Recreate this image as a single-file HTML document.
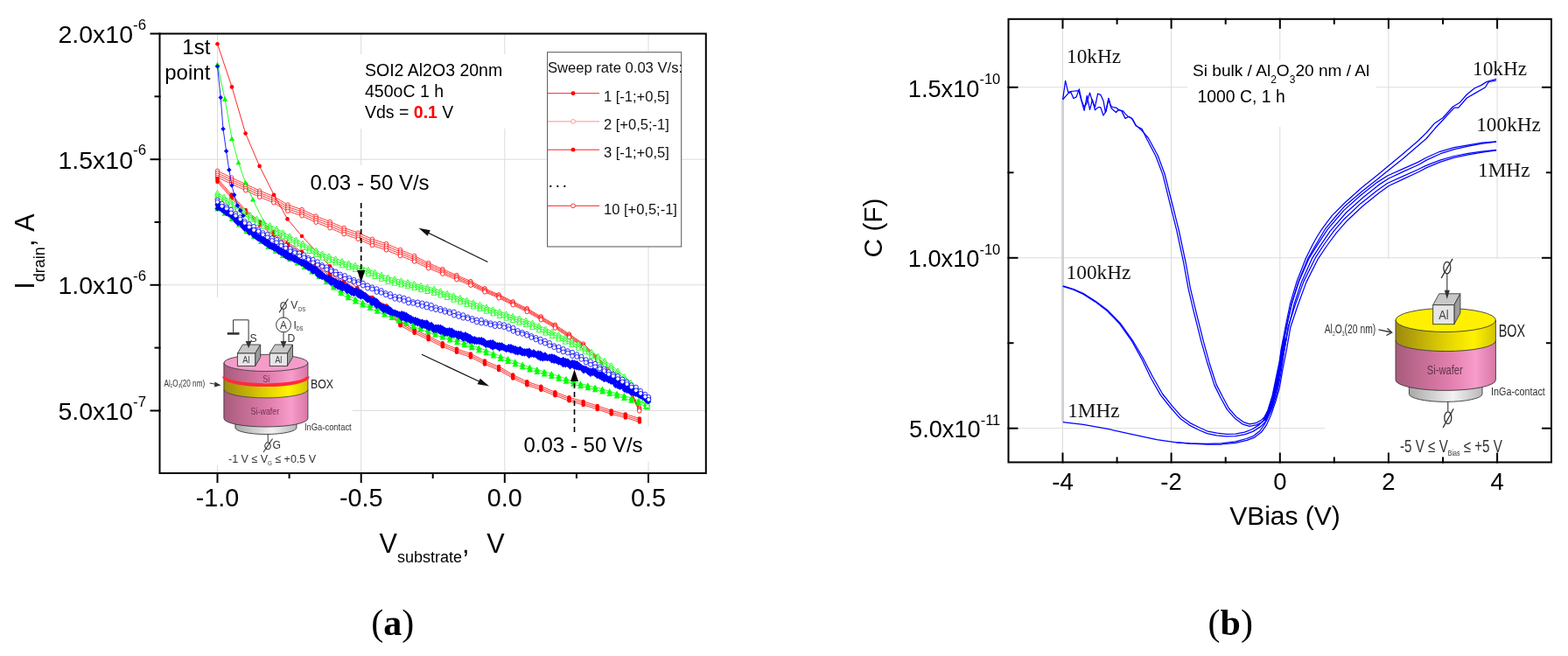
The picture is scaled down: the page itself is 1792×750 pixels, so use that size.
<!DOCTYPE html><html><head><meta charset="utf-8"><title>Figure</title>
<style>html,body{margin:0;padding:0;background:#fff;}svg{display:block;}.sf{font-family:'Liberation Serif', 'Times New Roman', serif;}</style></head><body>
<svg width="1792" height="750" viewBox="0 0 1792 750" font-family="&#39;Liberation Sans&#39;, Arial, sans-serif">
<rect x="0" y="0" width="1792" height="750" fill="#fff"/>
<line x1="248.5" y1="38.5" x2="248.5" y2="541.0" stroke="#dcdcdc" stroke-width="1"/>
<line x1="412.7" y1="38.5" x2="412.7" y2="541.0" stroke="#dcdcdc" stroke-width="1"/>
<line x1="576.8" y1="38.5" x2="576.8" y2="541.0" stroke="#dcdcdc" stroke-width="1"/>
<line x1="741" y1="38.5" x2="741" y2="541.0" stroke="#dcdcdc" stroke-width="1"/>
<line x1="182.5" y1="182.2" x2="806.8" y2="182.2" stroke="#dcdcdc" stroke-width="1"/>
<line x1="182.5" y1="325.8" x2="806.8" y2="325.8" stroke="#dcdcdc" stroke-width="1"/>
<line x1="182.5" y1="469.5" x2="806.8" y2="469.5" stroke="#dcdcdc" stroke-width="1"/>
<rect x="398" y="62" width="192" height="85" fill="#fff"/>
<rect x="350" y="189" width="146" height="43" fill="#fff"/>
<rect x="594" y="488" width="152" height="40" fill="#fff"/>
<rect x="184" y="340" width="219" height="192" fill="#fff"/>
<rect x="186" y="40" width="58" height="55" fill="#fff"/>
<g id="curves-a">
<polyline points="248.5,195.4 252.5,197.3 256.5,199.2 260.5,201.2 264.5,203.1 268.5,204.9 272.5,206.8 276.5,208.6 280.5,210.4 284.5,212.3 288.5,214.2 292.5,216.1 296.5,218 300.5,219.6 304.5,221.2 308.5,222.8 312.5,224.4 316.5,226.8 320.5,229.2 324.5,231.6 328.5,234 332.5,235.3 336.5,236.7 340.5,238.1 344.5,239.4 348.5,241.2 352.5,243.1 356.5,245 360.5,246.8 364.5,248.4 368.5,250 372.5,251.6 376.5,253.2 380.5,255 384.5,256.7 388.5,258.5 392.5,260.2 396.5,261.7 400.5,263.1 404.5,264.5 408.5,265.9 412.5,267.5 416.5,269.4 420.5,271.2 424.5,273 428.5,274.4 432.5,275.7 436.5,277 440.5,278.3 444.5,280 448.5,281.7 452.5,283.4 456.5,285.1 460.5,286.8 464.5,288.5 468.5,290.2 472.5,291.9 476.5,294 480.5,296 484.5,298.1 488.5,300.2 492.5,301.9 496.5,303.7 500.5,305.4 504.5,307.1 508.5,308.9 512.5,310.6 516.5,312.3 520.5,314.1 524.5,315.8 528.5,317.5 532.5,319.2 536.5,320.9 540.5,322.9 544.5,325 548.5,327.1 552.5,329.1 556.5,330.9 560.5,332.7 564.5,334.4 568.5,336.1 572.5,337.9 576.5,339.9 580.5,341.9 584.5,344 588.5,345.9 592.5,347.9 596.5,349.8 600.5,351.7 604.5,353.8 608.5,356.2 612.5,358.5 616.5,360.8 620.5,363.1 624.5,365.5 628.5,367.8 632.5,370.1 636.5,372.6 640.5,375.3 644.5,378 648.5,380.7 652.5,383.3 656.5,386 660.5,388.7 664.5,391.4 668.5,394.6 672.5,398.5 676.5,402.3 680.5,406.2 684.5,410.1 688.5,413.9 692.5,417.8 696.5,421.7 700.5,425.6 704.5,429.4 708.5,433.8 712.5,438.3 716.5,442.8 720.5,447.3 724.5,454.3 728.5,462 730.7,466.2" fill="none" stroke="#ff0000" stroke-width="0.8" stroke-linejoin="round"/>
<polyline points="248.5,197.8 252.5,199.7 256.5,201.7 260.5,203.6 264.5,205.5 268.5,207.3 272.5,209.2 276.5,211 280.5,212.8 284.5,214.7 288.5,216.6 292.5,218.5 296.5,220.4 300.5,222 304.5,223.6 308.5,225.2 312.5,226.8 316.5,229.2 320.5,231.6 324.5,234 328.5,236.4 332.5,237.8 336.5,239.1 340.5,240.5 344.5,241.8 348.5,243.7 352.5,245.5 356.5,247.4 360.5,249.2 364.5,250.8 368.5,252.4 372.5,254 376.5,255.6 380.5,257.4 384.5,259.1 388.5,260.9 392.5,262.6 396.5,264.1 400.5,265.5 404.5,266.9 408.5,268.3 412.5,269.9 416.5,271.8 420.5,273.6 424.5,275.4 428.5,276.8 432.5,278.1 436.5,279.4 440.5,280.7 444.5,282.4 448.5,284.1 452.5,285.8 456.5,287.4 460.5,289.1 464.5,290.8 468.5,292.5 472.5,294.1 476.5,296.1 480.5,298.1 484.5,300.2 488.5,302.2 492.5,303.9 496.5,305.6 500.5,307.3 504.5,309 508.5,310.7 512.5,312.4 516.5,314.1 520.5,315.8 524.5,317.4 528.5,319.1 532.5,320.8 536.5,322.4 540.5,324.4 544.5,326.5 548.5,328.5 552.5,330.5 556.5,332.3 560.5,334 564.5,335.7 568.5,337.4 572.5,339.2 576.5,341.2 580.5,343.2 584.5,345.3 588.5,347.2 592.5,349.2 596.5,351.1 600.5,353 604.5,355.1 608.5,357.4 612.5,359.8 616.5,362.1 620.5,364.4 624.5,366.7 628.5,369.1 632.5,371.4 636.5,373.9 640.5,376.6 644.5,379.2 648.5,381.9 652.5,384.6 656.5,387.3 660.5,389.9 664.5,392.6 668.5,395.8 672.5,399.7 676.5,403.5 680.5,407.4 684.5,411.3 688.5,415.1 692.5,419 696.5,422.9 700.5,426.8 704.5,430.6 708.5,435 712.5,439.5 716.5,444 720.5,448.5 724.5,455.5 728.5,463.2 730.7,467.4" fill="none" stroke="#ff0000" stroke-width="0.8" stroke-linejoin="round"/>
<polyline points="248.5,200.2 252.5,202.1 256.5,204 260.5,206 264.5,207.9 268.5,209.7 272.5,211.5 276.5,213.4 280.5,215.2 284.5,217.1 288.5,219 292.5,220.9 296.5,222.8 300.5,224.4 304.5,226 308.5,227.6 312.5,229.2 316.5,231.6 320.5,234 324.5,236.4 328.5,238.8 332.5,240.1 336.5,241.5 340.5,242.8 344.5,244.2 348.5,246 352.5,247.9 356.5,249.8 360.5,251.6 364.5,253.2 368.5,254.8 372.5,256.4 376.5,258 380.5,259.8 384.5,261.5 388.5,263.3 392.5,265 396.5,266.5 400.5,267.9 404.5,269.3 408.5,270.7 412.5,272.3 416.5,274.2 420.5,276 424.5,277.8 428.5,279.2 432.5,280.5 436.5,281.8 440.5,283.1 444.5,284.8 448.5,286.5 452.5,288.1 456.5,289.8 460.5,291.4 464.5,293 468.5,294.7 472.5,296.3 476.5,298.3 480.5,300.3 484.5,302.2 488.5,304.2 492.5,305.9 496.5,307.5 500.5,309.2 504.5,310.8 508.5,312.5 512.5,314.2 516.5,315.8 520.5,317.5 524.5,319.1 528.5,320.7 532.5,322.4 536.5,324 540.5,326 544.5,327.9 548.5,329.9 552.5,331.9 556.5,333.6 560.5,335.3 564.5,337 568.5,338.8 572.5,340.6 576.5,342.6 580.5,344.6 584.5,346.5 588.5,348.5 592.5,350.4 596.5,352.4 600.5,354.3 604.5,356.4 608.5,358.7 612.5,361 616.5,363.4 620.5,365.7 624.5,368 628.5,370.3 632.5,372.7 636.5,375.1 640.5,377.8 644.5,380.5 648.5,383.2 652.5,385.8 656.5,388.5 660.5,391.2 664.5,393.8 668.5,397.1 672.5,400.9 676.5,404.8 680.5,408.6 684.5,412.5 688.5,416.3 692.5,420.2 696.5,424.1 700.5,428 704.5,431.8 708.5,436.2 712.5,440.7 716.5,445.2 720.5,449.7 724.5,456.7 728.5,464.4 730.7,468.6" fill="none" stroke="#ff0000" stroke-width="0.8" stroke-linejoin="round"/>
<polyline points="248.5,202.6 252.5,204.5 256.5,206.4 260.5,208.4 264.5,210.3 268.5,212.1 272.5,213.9 276.5,215.8 280.5,217.6 284.5,219.5 288.5,221.4 292.5,223.3 296.5,225.2 300.5,226.8 304.5,228.4 308.5,230 312.5,231.6 316.5,234 320.5,236.4 324.5,238.8 328.5,241.2 332.5,242.5 336.5,243.9 340.5,245.2 344.5,246.6 348.5,248.4 352.5,250.3 356.5,252.2 360.5,254 364.5,255.6 368.5,257.2 372.5,258.8 376.5,260.4 380.5,262.2 384.5,263.9 388.5,265.7 392.5,267.4 396.5,268.9 400.5,270.3 404.5,271.7 408.5,273.1 412.5,274.7 416.5,276.6 420.5,278.4 424.5,280.2 428.5,281.6 432.5,282.9 436.5,284.2 440.5,285.5 444.5,287.2 448.5,288.9 452.5,290.5 456.5,292.1 460.5,293.7 464.5,295.3 468.5,296.9 472.5,298.5 476.5,300.4 480.5,302.4 484.5,304.3 488.5,306.2 492.5,307.9 496.5,309.5 500.5,311.1 504.5,312.7 508.5,314.3 512.5,315.9 516.5,317.6 520.5,319.2 524.5,320.8 528.5,322.4 532.5,324 536.5,325.5 540.5,327.5 544.5,329.4 548.5,331.3 552.5,333.3 556.5,335 560.5,336.6 564.5,338.3 568.5,340.1 572.5,341.9 576.5,343.9 580.5,345.9 584.5,347.8 588.5,349.8 592.5,351.7 596.5,353.7 600.5,355.6 604.5,357.7 608.5,360 612.5,362.3 616.5,364.6 620.5,366.9 624.5,369.3 628.5,371.6 632.5,373.9 636.5,376.4 640.5,379.1 644.5,381.7 648.5,384.4 652.5,387.1 656.5,389.7 660.5,392.4 664.5,395.1 668.5,398.3 672.5,402.1 676.5,406 680.5,409.8 684.5,413.7 688.5,417.6 692.5,421.4 696.5,425.3 700.5,429.2 704.5,433 708.5,437.4 712.5,441.9 716.5,446.4 720.5,450.9 724.5,457.9 728.5,465.6 730.7,469.8" fill="none" stroke="#ff0000" stroke-width="0.8" stroke-linejoin="round"/>
<circle cx="248.5" cy="195.4" r="2.25" fill="#fff" stroke="#ff0000" stroke-width="0.8"/>
<circle cx="264.6" cy="203.1" r="2.25" fill="#fff" stroke="#ff0000" stroke-width="0.8"/>
<circle cx="280.7" cy="210.5" r="2.25" fill="#fff" stroke="#ff0000" stroke-width="0.8"/>
<circle cx="296.7" cy="218.1" r="2.25" fill="#fff" stroke="#ff0000" stroke-width="0.8"/>
<circle cx="312.8" cy="224.6" r="2.25" fill="#fff" stroke="#ff0000" stroke-width="0.8"/>
<circle cx="328.9" cy="234.1" r="2.25" fill="#fff" stroke="#ff0000" stroke-width="0.8"/>
<circle cx="345" cy="239.6" r="2.25" fill="#fff" stroke="#ff0000" stroke-width="0.8"/>
<circle cx="361.1" cy="247" r="2.25" fill="#fff" stroke="#ff0000" stroke-width="0.8"/>
<circle cx="377.1" cy="253.5" r="2.25" fill="#fff" stroke="#ff0000" stroke-width="0.8"/>
<circle cx="393.2" cy="260.5" r="2.25" fill="#fff" stroke="#ff0000" stroke-width="0.8"/>
<circle cx="409.3" cy="266.2" r="2.25" fill="#fff" stroke="#ff0000" stroke-width="0.8"/>
<circle cx="425.4" cy="273.3" r="2.25" fill="#fff" stroke="#ff0000" stroke-width="0.8"/>
<circle cx="441.5" cy="278.7" r="2.25" fill="#fff" stroke="#ff0000" stroke-width="0.8"/>
<circle cx="457.5" cy="285.6" r="2.25" fill="#fff" stroke="#ff0000" stroke-width="0.8"/>
<circle cx="473.6" cy="292.5" r="2.25" fill="#fff" stroke="#ff0000" stroke-width="0.8"/>
<circle cx="489.7" cy="300.7" r="2.25" fill="#fff" stroke="#ff0000" stroke-width="0.8"/>
<circle cx="505.8" cy="307.7" r="2.25" fill="#fff" stroke="#ff0000" stroke-width="0.8"/>
<circle cx="521.9" cy="314.6" r="2.25" fill="#fff" stroke="#ff0000" stroke-width="0.8"/>
<circle cx="537.9" cy="321.6" r="2.25" fill="#fff" stroke="#ff0000" stroke-width="0.8"/>
<circle cx="554" cy="329.8" r="2.25" fill="#fff" stroke="#ff0000" stroke-width="0.8"/>
<circle cx="570.1" cy="336.9" r="2.25" fill="#fff" stroke="#ff0000" stroke-width="0.8"/>
<circle cx="586.2" cy="344.8" r="2.25" fill="#fff" stroke="#ff0000" stroke-width="0.8"/>
<circle cx="602.3" cy="352.6" r="2.25" fill="#fff" stroke="#ff0000" stroke-width="0.8"/>
<circle cx="618.3" cy="361.9" r="2.25" fill="#fff" stroke="#ff0000" stroke-width="0.8"/>
<circle cx="634.4" cy="371.3" r="2.25" fill="#fff" stroke="#ff0000" stroke-width="0.8"/>
<circle cx="650.5" cy="382" r="2.25" fill="#fff" stroke="#ff0000" stroke-width="0.8"/>
<circle cx="666.6" cy="393.1" r="2.25" fill="#fff" stroke="#ff0000" stroke-width="0.8"/>
<circle cx="682.7" cy="408.3" r="2.25" fill="#fff" stroke="#ff0000" stroke-width="0.8"/>
<circle cx="698.7" cy="423.8" r="2.25" fill="#fff" stroke="#ff0000" stroke-width="0.8"/>
<circle cx="714.8" cy="440.9" r="2.25" fill="#fff" stroke="#ff0000" stroke-width="0.8"/>
<circle cx="730.7" cy="466.2" r="2.25" fill="#fff" stroke="#ff0000" stroke-width="0.8"/>
<circle cx="248.5" cy="197.8" r="2.25" fill="#fff" stroke="#ff0000" stroke-width="0.8"/>
<circle cx="264.6" cy="205.5" r="2.25" fill="#fff" stroke="#ff0000" stroke-width="0.8"/>
<circle cx="280.7" cy="212.9" r="2.25" fill="#fff" stroke="#ff0000" stroke-width="0.8"/>
<circle cx="296.7" cy="220.5" r="2.25" fill="#fff" stroke="#ff0000" stroke-width="0.8"/>
<circle cx="312.8" cy="227" r="2.25" fill="#fff" stroke="#ff0000" stroke-width="0.8"/>
<circle cx="328.9" cy="236.5" r="2.25" fill="#fff" stroke="#ff0000" stroke-width="0.8"/>
<circle cx="345" cy="242" r="2.25" fill="#fff" stroke="#ff0000" stroke-width="0.8"/>
<circle cx="361.1" cy="249.4" r="2.25" fill="#fff" stroke="#ff0000" stroke-width="0.8"/>
<circle cx="377.1" cy="255.9" r="2.25" fill="#fff" stroke="#ff0000" stroke-width="0.8"/>
<circle cx="393.2" cy="262.9" r="2.25" fill="#fff" stroke="#ff0000" stroke-width="0.8"/>
<circle cx="409.3" cy="268.6" r="2.25" fill="#fff" stroke="#ff0000" stroke-width="0.8"/>
<circle cx="425.4" cy="275.7" r="2.25" fill="#fff" stroke="#ff0000" stroke-width="0.8"/>
<circle cx="441.5" cy="281.1" r="2.25" fill="#fff" stroke="#ff0000" stroke-width="0.8"/>
<circle cx="457.5" cy="287.9" r="2.25" fill="#fff" stroke="#ff0000" stroke-width="0.8"/>
<circle cx="473.6" cy="294.7" r="2.25" fill="#fff" stroke="#ff0000" stroke-width="0.8"/>
<circle cx="489.7" cy="302.7" r="2.25" fill="#fff" stroke="#ff0000" stroke-width="0.8"/>
<circle cx="505.8" cy="309.5" r="2.25" fill="#fff" stroke="#ff0000" stroke-width="0.8"/>
<circle cx="521.9" cy="316.3" r="2.25" fill="#fff" stroke="#ff0000" stroke-width="0.8"/>
<circle cx="537.9" cy="323.2" r="2.25" fill="#fff" stroke="#ff0000" stroke-width="0.8"/>
<circle cx="554" cy="331.2" r="2.25" fill="#fff" stroke="#ff0000" stroke-width="0.8"/>
<circle cx="570.1" cy="338.2" r="2.25" fill="#fff" stroke="#ff0000" stroke-width="0.8"/>
<circle cx="586.2" cy="346.1" r="2.25" fill="#fff" stroke="#ff0000" stroke-width="0.8"/>
<circle cx="602.3" cy="353.9" r="2.25" fill="#fff" stroke="#ff0000" stroke-width="0.8"/>
<circle cx="618.3" cy="363.2" r="2.25" fill="#fff" stroke="#ff0000" stroke-width="0.8"/>
<circle cx="634.4" cy="372.6" r="2.25" fill="#fff" stroke="#ff0000" stroke-width="0.8"/>
<circle cx="650.5" cy="383.2" r="2.25" fill="#fff" stroke="#ff0000" stroke-width="0.8"/>
<circle cx="666.6" cy="394.3" r="2.25" fill="#fff" stroke="#ff0000" stroke-width="0.8"/>
<circle cx="682.7" cy="409.5" r="2.25" fill="#fff" stroke="#ff0000" stroke-width="0.8"/>
<circle cx="698.7" cy="425.1" r="2.25" fill="#fff" stroke="#ff0000" stroke-width="0.8"/>
<circle cx="714.8" cy="442.1" r="2.25" fill="#fff" stroke="#ff0000" stroke-width="0.8"/>
<circle cx="730.7" cy="467.4" r="2.25" fill="#fff" stroke="#ff0000" stroke-width="0.8"/>
<circle cx="248.5" cy="200.2" r="2.25" fill="#fff" stroke="#ff0000" stroke-width="0.8"/>
<circle cx="264.6" cy="207.9" r="2.25" fill="#fff" stroke="#ff0000" stroke-width="0.8"/>
<circle cx="280.7" cy="215.3" r="2.25" fill="#fff" stroke="#ff0000" stroke-width="0.8"/>
<circle cx="296.7" cy="222.9" r="2.25" fill="#fff" stroke="#ff0000" stroke-width="0.8"/>
<circle cx="312.8" cy="229.4" r="2.25" fill="#fff" stroke="#ff0000" stroke-width="0.8"/>
<circle cx="328.9" cy="238.9" r="2.25" fill="#fff" stroke="#ff0000" stroke-width="0.8"/>
<circle cx="345" cy="244.4" r="2.25" fill="#fff" stroke="#ff0000" stroke-width="0.8"/>
<circle cx="361.1" cy="251.8" r="2.25" fill="#fff" stroke="#ff0000" stroke-width="0.8"/>
<circle cx="377.1" cy="258.3" r="2.25" fill="#fff" stroke="#ff0000" stroke-width="0.8"/>
<circle cx="393.2" cy="265.3" r="2.25" fill="#fff" stroke="#ff0000" stroke-width="0.8"/>
<circle cx="409.3" cy="271" r="2.25" fill="#fff" stroke="#ff0000" stroke-width="0.8"/>
<circle cx="425.4" cy="278.1" r="2.25" fill="#fff" stroke="#ff0000" stroke-width="0.8"/>
<circle cx="441.5" cy="283.5" r="2.25" fill="#fff" stroke="#ff0000" stroke-width="0.8"/>
<circle cx="457.5" cy="290.2" r="2.25" fill="#fff" stroke="#ff0000" stroke-width="0.8"/>
<circle cx="473.6" cy="296.9" r="2.25" fill="#fff" stroke="#ff0000" stroke-width="0.8"/>
<circle cx="489.7" cy="304.7" r="2.25" fill="#fff" stroke="#ff0000" stroke-width="0.8"/>
<circle cx="505.8" cy="311.4" r="2.25" fill="#fff" stroke="#ff0000" stroke-width="0.8"/>
<circle cx="521.9" cy="318" r="2.25" fill="#fff" stroke="#ff0000" stroke-width="0.8"/>
<circle cx="537.9" cy="324.7" r="2.25" fill="#fff" stroke="#ff0000" stroke-width="0.8"/>
<circle cx="554" cy="332.5" r="2.25" fill="#fff" stroke="#ff0000" stroke-width="0.8"/>
<circle cx="570.1" cy="339.5" r="2.25" fill="#fff" stroke="#ff0000" stroke-width="0.8"/>
<circle cx="586.2" cy="347.4" r="2.25" fill="#fff" stroke="#ff0000" stroke-width="0.8"/>
<circle cx="602.3" cy="355.2" r="2.25" fill="#fff" stroke="#ff0000" stroke-width="0.8"/>
<circle cx="618.3" cy="364.4" r="2.25" fill="#fff" stroke="#ff0000" stroke-width="0.8"/>
<circle cx="634.4" cy="373.8" r="2.25" fill="#fff" stroke="#ff0000" stroke-width="0.8"/>
<circle cx="650.5" cy="384.5" r="2.25" fill="#fff" stroke="#ff0000" stroke-width="0.8"/>
<circle cx="666.6" cy="395.5" r="2.25" fill="#fff" stroke="#ff0000" stroke-width="0.8"/>
<circle cx="682.7" cy="410.7" r="2.25" fill="#fff" stroke="#ff0000" stroke-width="0.8"/>
<circle cx="698.7" cy="426.3" r="2.25" fill="#fff" stroke="#ff0000" stroke-width="0.8"/>
<circle cx="714.8" cy="443.3" r="2.25" fill="#fff" stroke="#ff0000" stroke-width="0.8"/>
<circle cx="730.7" cy="468.6" r="2.25" fill="#fff" stroke="#ff0000" stroke-width="0.8"/>
<circle cx="248.5" cy="202.6" r="2.25" fill="#fff" stroke="#ff0000" stroke-width="0.8"/>
<circle cx="264.6" cy="210.3" r="2.25" fill="#fff" stroke="#ff0000" stroke-width="0.8"/>
<circle cx="280.7" cy="217.7" r="2.25" fill="#fff" stroke="#ff0000" stroke-width="0.8"/>
<circle cx="296.7" cy="225.3" r="2.25" fill="#fff" stroke="#ff0000" stroke-width="0.8"/>
<circle cx="312.8" cy="231.8" r="2.25" fill="#fff" stroke="#ff0000" stroke-width="0.8"/>
<circle cx="328.9" cy="241.3" r="2.25" fill="#fff" stroke="#ff0000" stroke-width="0.8"/>
<circle cx="345" cy="246.8" r="2.25" fill="#fff" stroke="#ff0000" stroke-width="0.8"/>
<circle cx="361.1" cy="254.2" r="2.25" fill="#fff" stroke="#ff0000" stroke-width="0.8"/>
<circle cx="377.1" cy="260.7" r="2.25" fill="#fff" stroke="#ff0000" stroke-width="0.8"/>
<circle cx="393.2" cy="267.7" r="2.25" fill="#fff" stroke="#ff0000" stroke-width="0.8"/>
<circle cx="409.3" cy="273.4" r="2.25" fill="#fff" stroke="#ff0000" stroke-width="0.8"/>
<circle cx="425.4" cy="280.5" r="2.25" fill="#fff" stroke="#ff0000" stroke-width="0.8"/>
<circle cx="441.5" cy="285.9" r="2.25" fill="#fff" stroke="#ff0000" stroke-width="0.8"/>
<circle cx="457.5" cy="292.5" r="2.25" fill="#fff" stroke="#ff0000" stroke-width="0.8"/>
<circle cx="473.6" cy="299" r="2.25" fill="#fff" stroke="#ff0000" stroke-width="0.8"/>
<circle cx="489.7" cy="306.7" r="2.25" fill="#fff" stroke="#ff0000" stroke-width="0.8"/>
<circle cx="505.8" cy="313.2" r="2.25" fill="#fff" stroke="#ff0000" stroke-width="0.8"/>
<circle cx="521.9" cy="319.7" r="2.25" fill="#fff" stroke="#ff0000" stroke-width="0.8"/>
<circle cx="537.9" cy="326.2" r="2.25" fill="#fff" stroke="#ff0000" stroke-width="0.8"/>
<circle cx="554" cy="333.9" r="2.25" fill="#fff" stroke="#ff0000" stroke-width="0.8"/>
<circle cx="570.1" cy="340.8" r="2.25" fill="#fff" stroke="#ff0000" stroke-width="0.8"/>
<circle cx="586.2" cy="348.7" r="2.25" fill="#fff" stroke="#ff0000" stroke-width="0.8"/>
<circle cx="602.3" cy="356.5" r="2.25" fill="#fff" stroke="#ff0000" stroke-width="0.8"/>
<circle cx="618.3" cy="365.7" r="2.25" fill="#fff" stroke="#ff0000" stroke-width="0.8"/>
<circle cx="634.4" cy="375.1" r="2.25" fill="#fff" stroke="#ff0000" stroke-width="0.8"/>
<circle cx="650.5" cy="385.7" r="2.25" fill="#fff" stroke="#ff0000" stroke-width="0.8"/>
<circle cx="666.6" cy="396.7" r="2.25" fill="#fff" stroke="#ff0000" stroke-width="0.8"/>
<circle cx="682.7" cy="411.9" r="2.25" fill="#fff" stroke="#ff0000" stroke-width="0.8"/>
<circle cx="698.7" cy="427.5" r="2.25" fill="#fff" stroke="#ff0000" stroke-width="0.8"/>
<circle cx="714.8" cy="444.5" r="2.25" fill="#fff" stroke="#ff0000" stroke-width="0.8"/>
<circle cx="730.7" cy="469.8" r="2.25" fill="#fff" stroke="#ff0000" stroke-width="0.8"/>
<polyline points="248.5,204 265,223 280.5,240 296.5,253 312.5,265 328.5,277 345,288 361,300 377,311 393,321 409,332 425,340 441,349 457,368 473,376.5 489,384 505,392 521,398.5 537,404 553,412 571,419.5 587,429 603,436.5 619,442 635,448.5 651,454.5 667,459 683,464 699,469.5 715,473.5 731,478.5" fill="none" stroke="#ff0000" stroke-width="0.8" stroke-linejoin="round"/>
<polyline points="248.5,206 265,225 280.5,242 296.5,255 312.5,267 328.5,279 345,290 361,302 377,313 393,323 409,334 425,342 441,351 457,370 473,378.5 489,386 505,394 521,400.5 537,406 553,414 571,421.5 587,431 603,438.5 619,444 635,450.5 651,456.5 667,461 683,466 699,471.5 715,475.5 731,480.5" fill="none" stroke="#ff0000" stroke-width="0.8" stroke-linejoin="round"/>
<polyline points="248.5,208 265,227 280.5,244 296.5,257 312.5,269 328.5,281 345,292 361,304 377,315 393,325 409,336 425,344 441,353 457,372 473,380.5 489,388 505,396 521,402.5 537,408 553,416 571,423.5 587,433 603,440.5 619,446 635,452.5 651,458.5 667,463 683,468 699,473.5 715,477.5 731,482.5" fill="none" stroke="#ff0000" stroke-width="0.8" stroke-linejoin="round"/>
<circle cx="248.5" cy="204" r="2.25" fill="#ff0000"/>
<circle cx="264.6" cy="222.5" r="2.25" fill="#ff0000"/>
<circle cx="280.7" cy="240.1" r="2.25" fill="#ff0000"/>
<circle cx="296.7" cy="253.2" r="2.25" fill="#ff0000"/>
<circle cx="312.8" cy="265.2" r="2.25" fill="#ff0000"/>
<circle cx="328.9" cy="277.3" r="2.25" fill="#ff0000"/>
<circle cx="345" cy="288" r="2.25" fill="#ff0000"/>
<circle cx="361.1" cy="300" r="2.25" fill="#ff0000"/>
<circle cx="377.1" cy="311.1" r="2.25" fill="#ff0000"/>
<circle cx="393.2" cy="321.2" r="2.25" fill="#ff0000"/>
<circle cx="409.3" cy="332.1" r="2.25" fill="#ff0000"/>
<circle cx="425.4" cy="340.2" r="2.25" fill="#ff0000"/>
<circle cx="441.5" cy="349.5" r="2.25" fill="#ff0000"/>
<circle cx="457.5" cy="368.3" r="2.25" fill="#ff0000"/>
<circle cx="473.6" cy="376.8" r="2.25" fill="#ff0000"/>
<circle cx="489.7" cy="384.3" r="2.25" fill="#ff0000"/>
<circle cx="505.8" cy="392.3" r="2.25" fill="#ff0000"/>
<circle cx="521.9" cy="398.8" r="2.25" fill="#ff0000"/>
<circle cx="537.9" cy="404.5" r="2.25" fill="#ff0000"/>
<circle cx="554" cy="412.4" r="2.25" fill="#ff0000"/>
<circle cx="570.1" cy="419.1" r="2.25" fill="#ff0000"/>
<circle cx="586.2" cy="428.5" r="2.25" fill="#ff0000"/>
<circle cx="602.3" cy="436.2" r="2.25" fill="#ff0000"/>
<circle cx="618.3" cy="441.8" r="2.25" fill="#ff0000"/>
<circle cx="634.4" cy="448.3" r="2.25" fill="#ff0000"/>
<circle cx="650.5" cy="454.3" r="2.25" fill="#ff0000"/>
<circle cx="666.6" cy="458.9" r="2.25" fill="#ff0000"/>
<circle cx="682.7" cy="463.9" r="2.25" fill="#ff0000"/>
<circle cx="698.7" cy="469.4" r="2.25" fill="#ff0000"/>
<circle cx="714.8" cy="473.5" r="2.25" fill="#ff0000"/>
<circle cx="730.9" cy="478.5" r="2.25" fill="#ff0000"/>
<circle cx="248.5" cy="206" r="2.25" fill="#ff0000"/>
<circle cx="264.6" cy="224.5" r="2.25" fill="#ff0000"/>
<circle cx="280.7" cy="242.1" r="2.25" fill="#ff0000"/>
<circle cx="296.7" cy="255.2" r="2.25" fill="#ff0000"/>
<circle cx="312.8" cy="267.2" r="2.25" fill="#ff0000"/>
<circle cx="328.9" cy="279.3" r="2.25" fill="#ff0000"/>
<circle cx="345" cy="290" r="2.25" fill="#ff0000"/>
<circle cx="361.1" cy="302" r="2.25" fill="#ff0000"/>
<circle cx="377.1" cy="313.1" r="2.25" fill="#ff0000"/>
<circle cx="393.2" cy="323.2" r="2.25" fill="#ff0000"/>
<circle cx="409.3" cy="334.1" r="2.25" fill="#ff0000"/>
<circle cx="425.4" cy="342.2" r="2.25" fill="#ff0000"/>
<circle cx="441.5" cy="351.5" r="2.25" fill="#ff0000"/>
<circle cx="457.5" cy="370.3" r="2.25" fill="#ff0000"/>
<circle cx="473.6" cy="378.8" r="2.25" fill="#ff0000"/>
<circle cx="489.7" cy="386.3" r="2.25" fill="#ff0000"/>
<circle cx="505.8" cy="394.3" r="2.25" fill="#ff0000"/>
<circle cx="521.9" cy="400.8" r="2.25" fill="#ff0000"/>
<circle cx="537.9" cy="406.5" r="2.25" fill="#ff0000"/>
<circle cx="554" cy="414.4" r="2.25" fill="#ff0000"/>
<circle cx="570.1" cy="421.1" r="2.25" fill="#ff0000"/>
<circle cx="586.2" cy="430.5" r="2.25" fill="#ff0000"/>
<circle cx="602.3" cy="438.2" r="2.25" fill="#ff0000"/>
<circle cx="618.3" cy="443.8" r="2.25" fill="#ff0000"/>
<circle cx="634.4" cy="450.3" r="2.25" fill="#ff0000"/>
<circle cx="650.5" cy="456.3" r="2.25" fill="#ff0000"/>
<circle cx="666.6" cy="460.9" r="2.25" fill="#ff0000"/>
<circle cx="682.7" cy="465.9" r="2.25" fill="#ff0000"/>
<circle cx="698.7" cy="471.4" r="2.25" fill="#ff0000"/>
<circle cx="714.8" cy="475.5" r="2.25" fill="#ff0000"/>
<circle cx="730.9" cy="480.5" r="2.25" fill="#ff0000"/>
<circle cx="248.5" cy="208" r="2.25" fill="#ff0000"/>
<circle cx="264.6" cy="226.5" r="2.25" fill="#ff0000"/>
<circle cx="280.7" cy="244.1" r="2.25" fill="#ff0000"/>
<circle cx="296.7" cy="257.2" r="2.25" fill="#ff0000"/>
<circle cx="312.8" cy="269.2" r="2.25" fill="#ff0000"/>
<circle cx="328.9" cy="281.3" r="2.25" fill="#ff0000"/>
<circle cx="345" cy="292" r="2.25" fill="#ff0000"/>
<circle cx="361.1" cy="304" r="2.25" fill="#ff0000"/>
<circle cx="377.1" cy="315.1" r="2.25" fill="#ff0000"/>
<circle cx="393.2" cy="325.2" r="2.25" fill="#ff0000"/>
<circle cx="409.3" cy="336.1" r="2.25" fill="#ff0000"/>
<circle cx="425.4" cy="344.2" r="2.25" fill="#ff0000"/>
<circle cx="441.5" cy="353.5" r="2.25" fill="#ff0000"/>
<circle cx="457.5" cy="372.3" r="2.25" fill="#ff0000"/>
<circle cx="473.6" cy="380.8" r="2.25" fill="#ff0000"/>
<circle cx="489.7" cy="388.3" r="2.25" fill="#ff0000"/>
<circle cx="505.8" cy="396.3" r="2.25" fill="#ff0000"/>
<circle cx="521.9" cy="402.8" r="2.25" fill="#ff0000"/>
<circle cx="537.9" cy="408.5" r="2.25" fill="#ff0000"/>
<circle cx="554" cy="416.4" r="2.25" fill="#ff0000"/>
<circle cx="570.1" cy="423.1" r="2.25" fill="#ff0000"/>
<circle cx="586.2" cy="432.5" r="2.25" fill="#ff0000"/>
<circle cx="602.3" cy="440.2" r="2.25" fill="#ff0000"/>
<circle cx="618.3" cy="445.8" r="2.25" fill="#ff0000"/>
<circle cx="634.4" cy="452.3" r="2.25" fill="#ff0000"/>
<circle cx="650.5" cy="458.3" r="2.25" fill="#ff0000"/>
<circle cx="666.6" cy="462.9" r="2.25" fill="#ff0000"/>
<circle cx="682.7" cy="467.9" r="2.25" fill="#ff0000"/>
<circle cx="698.7" cy="473.4" r="2.25" fill="#ff0000"/>
<circle cx="714.8" cy="477.5" r="2.25" fill="#ff0000"/>
<circle cx="730.9" cy="482.5" r="2.25" fill="#ff0000"/>
<polyline points="248.5,50.2 265,99.4 280.6,152.5 296.6,189.9 313,222.7 328.5,250.4 345,270 361,287 377,304.2 393,316.5 408.4,329.2 425,340 441,350" fill="none" stroke="#ff0000" stroke-width="0.85"/>
<circle cx="248.5" cy="50.2" r="2.3" fill="#ff0000"/>
<circle cx="265" cy="99.4" r="2.3" fill="#ff0000"/>
<circle cx="280.6" cy="152.5" r="2.3" fill="#ff0000"/>
<circle cx="296.6" cy="189.9" r="2.3" fill="#ff0000"/>
<circle cx="313" cy="222.7" r="2.3" fill="#ff0000"/>
<circle cx="328.5" cy="250.4" r="2.3" fill="#ff0000"/>
<circle cx="345" cy="270" r="2.3" fill="#ff0000"/>
<circle cx="361" cy="287" r="2.3" fill="#ff0000"/>
<circle cx="377" cy="304.2" r="2.3" fill="#ff0000"/>
<circle cx="393" cy="316.5" r="2.3" fill="#ff0000"/>
<circle cx="408.4" cy="329.2" r="2.3" fill="#ff0000"/>
<circle cx="425" cy="340" r="2.3" fill="#ff0000"/>
<circle cx="441" cy="350" r="2.3" fill="#ff0000"/>
<polyline points="248.5,236 261.3,244 274,254.5 282.7,262.5 304,277.5 325.3,290.5 346.7,301.5 368,315.5 393,335 400.4,339 412.7,345 443.3,358.5 470,369.5 496.7,379.5 523.3,389 550,398.5 576.7,409 606.7,420.3 633.3,428.3 660,437.7 686.7,444.3 713.3,452.3 729.3,457.7 740,463" fill="none" stroke="#00ff00" stroke-width="0.8" stroke-linejoin="round"/>
<polyline points="248.5,239 261.3,247 274,257.5 282.7,265.5 304,280.5 325.3,293.5 346.7,304.5 368,318.5 393,338 400.4,342 412.7,348 443.3,361.5 470,372.5 496.7,382.5 523.3,392 550,401.5 576.7,412 606.7,423.3 633.3,431.3 660,440.7 686.7,447.3 713.3,455.3 729.3,460.7 740,466" fill="none" stroke="#00ff00" stroke-width="0.8" stroke-linejoin="round"/>
<polygon points="248.5,232.7 251.8,238.6 245.2,238.6" fill="#00ff00"/>
<polygon points="256.8,237.9 260.1,243.8 253.5,243.8" fill="#00ff00"/>
<polygon points="265.1,243.8 268.4,249.8 261.8,249.8" fill="#00ff00"/>
<polygon points="273.4,250.7 276.7,256.6 270.1,256.6" fill="#00ff00"/>
<polygon points="281.7,258.3 285,264.2 278.4,264.2" fill="#00ff00"/>
<polygon points="290,264.3 293.3,270.3 286.7,270.3" fill="#00ff00"/>
<polygon points="298.3,270.2 301.6,276.1 295,276.1" fill="#00ff00"/>
<polygon points="306.6,275.8 309.9,281.7 303.3,281.7" fill="#00ff00"/>
<polygon points="314.9,280.9 318.2,286.8 311.6,286.8" fill="#00ff00"/>
<polygon points="323.2,285.9 326.5,291.9 319.9,291.9" fill="#00ff00"/>
<polygon points="331.5,290.4 334.8,296.3 328.2,296.3" fill="#00ff00"/>
<polygon points="339.8,294.7 343.1,300.6 336.5,300.6" fill="#00ff00"/>
<polygon points="348.1,299.1 351.4,305.1 344.8,305.1" fill="#00ff00"/>
<polygon points="356.4,304.6 359.7,310.5 353.1,310.5" fill="#00ff00"/>
<polygon points="364.7,310 368,316 361.4,316" fill="#00ff00"/>
<polygon points="373,316.1 376.3,322 369.7,322" fill="#00ff00"/>
<polygon points="381.3,322.6 384.6,328.5 378,328.5" fill="#00ff00"/>
<polygon points="389.6,329 392.9,335 386.3,335" fill="#00ff00"/>
<polygon points="397.9,334.3 401.2,340.3 394.6,340.3" fill="#00ff00"/>
<polygon points="406.2,338.5 409.5,344.5 402.9,344.5" fill="#00ff00"/>
<polygon points="414.5,342.5 417.8,348.4 411.2,348.4" fill="#00ff00"/>
<polygon points="422.8,346.2 426.1,352.1 419.5,352.1" fill="#00ff00"/>
<polygon points="431.1,349.8 434.4,355.8 427.8,355.8" fill="#00ff00"/>
<polygon points="439.4,353.5 442.7,359.4 436.1,359.4" fill="#00ff00"/>
<polygon points="447.7,357 451,363 444.4,363" fill="#00ff00"/>
<polygon points="456,360.4 459.3,366.4 452.7,366.4" fill="#00ff00"/>
<polygon points="464.3,363.9 467.6,369.8 461,369.8" fill="#00ff00"/>
<polygon points="472.6,367.2 475.9,373.1 469.3,373.1" fill="#00ff00"/>
<polygon points="480.9,370.3 484.2,376.2 477.6,376.2" fill="#00ff00"/>
<polygon points="489.2,373.4 492.5,379.3 485.9,379.3" fill="#00ff00"/>
<polygon points="497.5,376.5 500.8,382.4 494.2,382.4" fill="#00ff00"/>
<polygon points="505.8,379.5 509.1,385.4 502.5,385.4" fill="#00ff00"/>
<polygon points="514.1,382.4 517.4,388.4 510.8,388.4" fill="#00ff00"/>
<polygon points="522.4,385.4 525.7,391.3 519.1,391.3" fill="#00ff00"/>
<polygon points="530.7,388.3 534,394.3 527.4,394.3" fill="#00ff00"/>
<polygon points="539,391.3 542.3,397.2 535.7,397.2" fill="#00ff00"/>
<polygon points="547.3,394.2 550.6,400.2 544,400.2" fill="#00ff00"/>
<polygon points="555.6,397.4 558.9,403.3 552.3,403.3" fill="#00ff00"/>
<polygon points="563.9,400.7 567.2,406.6 560.6,406.6" fill="#00ff00"/>
<polygon points="572.2,403.9 575.5,409.9 568.9,409.9" fill="#00ff00"/>
<polygon points="580.5,407.1 583.8,413.1 577.2,413.1" fill="#00ff00"/>
<polygon points="588.8,410.3 592.1,416.2 585.5,416.2" fill="#00ff00"/>
<polygon points="597.1,413.4 600.4,419.3 593.8,419.3" fill="#00ff00"/>
<polygon points="605.4,416.5 608.7,422.5 602.1,422.5" fill="#00ff00"/>
<polygon points="613.7,419.1 617,425 610.4,425" fill="#00ff00"/>
<polygon points="622,421.6 625.3,427.5 618.7,427.5" fill="#00ff00"/>
<polygon points="630.3,424.1 633.6,430 627,430" fill="#00ff00"/>
<polygon points="638.6,426.9 641.9,432.8 635.3,432.8" fill="#00ff00"/>
<polygon points="646.9,429.8 650.2,435.7 643.6,435.7" fill="#00ff00"/>
<polygon points="655.2,432.7 658.5,438.7 651.9,438.7" fill="#00ff00"/>
<polygon points="663.5,435.3 666.8,441.2 660.2,441.2" fill="#00ff00"/>
<polygon points="671.8,437.3 675.1,443.3 668.5,443.3" fill="#00ff00"/>
<polygon points="680.1,439.4 683.4,445.3 676.8,445.3" fill="#00ff00"/>
<polygon points="688.4,441.5 691.7,447.5 685.1,447.5" fill="#00ff00"/>
<polygon points="696.7,444 700,449.9 693.4,449.9" fill="#00ff00"/>
<polygon points="705,446.5 708.3,452.4 701.7,452.4" fill="#00ff00"/>
<polygon points="713.3,449 716.6,454.9 710,454.9" fill="#00ff00"/>
<polygon points="721.6,451.8 724.9,457.7 718.3,457.7" fill="#00ff00"/>
<polygon points="729.9,454.7 733.2,460.6 726.6,460.6" fill="#00ff00"/>
<polygon points="738.2,458.8 741.5,464.7 734.9,464.7" fill="#00ff00"/>
<polygon points="740,459.7 743.3,465.6 736.7,465.6" fill="#00ff00"/>
<polygon points="248.5,235.7 251.8,241.6 245.2,241.6" fill="#00ff00"/>
<polygon points="256.8,240.9 260.1,246.8 253.5,246.8" fill="#00ff00"/>
<polygon points="265.1,246.8 268.4,252.8 261.8,252.8" fill="#00ff00"/>
<polygon points="273.4,253.7 276.7,259.6 270.1,259.6" fill="#00ff00"/>
<polygon points="281.7,261.3 285,267.2 278.4,267.2" fill="#00ff00"/>
<polygon points="290,267.3 293.3,273.3 286.7,273.3" fill="#00ff00"/>
<polygon points="298.3,273.2 301.6,279.1 295,279.1" fill="#00ff00"/>
<polygon points="306.6,278.8 309.9,284.7 303.3,284.7" fill="#00ff00"/>
<polygon points="314.9,283.9 318.2,289.8 311.6,289.8" fill="#00ff00"/>
<polygon points="323.2,288.9 326.5,294.9 319.9,294.9" fill="#00ff00"/>
<polygon points="331.5,293.4 334.8,299.3 328.2,299.3" fill="#00ff00"/>
<polygon points="339.8,297.7 343.1,303.6 336.5,303.6" fill="#00ff00"/>
<polygon points="348.1,302.1 351.4,308.1 344.8,308.1" fill="#00ff00"/>
<polygon points="356.4,307.6 359.7,313.5 353.1,313.5" fill="#00ff00"/>
<polygon points="364.7,313 368,319 361.4,319" fill="#00ff00"/>
<polygon points="373,319.1 376.3,325 369.7,325" fill="#00ff00"/>
<polygon points="381.3,325.6 384.6,331.5 378,331.5" fill="#00ff00"/>
<polygon points="389.6,332 392.9,338 386.3,338" fill="#00ff00"/>
<polygon points="397.9,337.3 401.2,343.3 394.6,343.3" fill="#00ff00"/>
<polygon points="406.2,341.5 409.5,347.5 402.9,347.5" fill="#00ff00"/>
<polygon points="414.5,345.5 417.8,351.4 411.2,351.4" fill="#00ff00"/>
<polygon points="422.8,349.2 426.1,355.1 419.5,355.1" fill="#00ff00"/>
<polygon points="431.1,352.8 434.4,358.8 427.8,358.8" fill="#00ff00"/>
<polygon points="439.4,356.5 442.7,362.4 436.1,362.4" fill="#00ff00"/>
<polygon points="447.7,360 451,366 444.4,366" fill="#00ff00"/>
<polygon points="456,363.4 459.3,369.4 452.7,369.4" fill="#00ff00"/>
<polygon points="464.3,366.9 467.6,372.8 461,372.8" fill="#00ff00"/>
<polygon points="472.6,370.2 475.9,376.1 469.3,376.1" fill="#00ff00"/>
<polygon points="480.9,373.3 484.2,379.2 477.6,379.2" fill="#00ff00"/>
<polygon points="489.2,376.4 492.5,382.3 485.9,382.3" fill="#00ff00"/>
<polygon points="497.5,379.5 500.8,385.4 494.2,385.4" fill="#00ff00"/>
<polygon points="505.8,382.5 509.1,388.4 502.5,388.4" fill="#00ff00"/>
<polygon points="514.1,385.4 517.4,391.4 510.8,391.4" fill="#00ff00"/>
<polygon points="522.4,388.4 525.7,394.3 519.1,394.3" fill="#00ff00"/>
<polygon points="530.7,391.3 534,397.3 527.4,397.3" fill="#00ff00"/>
<polygon points="539,394.3 542.3,400.2 535.7,400.2" fill="#00ff00"/>
<polygon points="547.3,397.2 550.6,403.2 544,403.2" fill="#00ff00"/>
<polygon points="555.6,400.4 558.9,406.3 552.3,406.3" fill="#00ff00"/>
<polygon points="563.9,403.7 567.2,409.6 560.6,409.6" fill="#00ff00"/>
<polygon points="572.2,406.9 575.5,412.9 568.9,412.9" fill="#00ff00"/>
<polygon points="580.5,410.1 583.8,416.1 577.2,416.1" fill="#00ff00"/>
<polygon points="588.8,413.3 592.1,419.2 585.5,419.2" fill="#00ff00"/>
<polygon points="597.1,416.4 600.4,422.3 593.8,422.3" fill="#00ff00"/>
<polygon points="605.4,419.5 608.7,425.5 602.1,425.5" fill="#00ff00"/>
<polygon points="613.7,422.1 617,428 610.4,428" fill="#00ff00"/>
<polygon points="622,424.6 625.3,430.5 618.7,430.5" fill="#00ff00"/>
<polygon points="630.3,427.1 633.6,433 627,433" fill="#00ff00"/>
<polygon points="638.6,429.9 641.9,435.8 635.3,435.8" fill="#00ff00"/>
<polygon points="646.9,432.8 650.2,438.7 643.6,438.7" fill="#00ff00"/>
<polygon points="655.2,435.7 658.5,441.7 651.9,441.7" fill="#00ff00"/>
<polygon points="663.5,438.3 666.8,444.2 660.2,444.2" fill="#00ff00"/>
<polygon points="671.8,440.3 675.1,446.3 668.5,446.3" fill="#00ff00"/>
<polygon points="680.1,442.4 683.4,448.3 676.8,448.3" fill="#00ff00"/>
<polygon points="688.4,444.5 691.7,450.5 685.1,450.5" fill="#00ff00"/>
<polygon points="696.7,447 700,452.9 693.4,452.9" fill="#00ff00"/>
<polygon points="705,449.5 708.3,455.4 701.7,455.4" fill="#00ff00"/>
<polygon points="713.3,452 716.6,457.9 710,457.9" fill="#00ff00"/>
<polygon points="721.6,454.8 724.9,460.7 718.3,460.7" fill="#00ff00"/>
<polygon points="729.9,457.7 733.2,463.6 726.6,463.6" fill="#00ff00"/>
<polygon points="738.2,461.8 741.5,467.7 734.9,467.7" fill="#00ff00"/>
<polygon points="740,462.7 743.3,468.6 736.7,468.6" fill="#00ff00"/>
<polyline points="248.5,220.4 265.6,230.7 289,247.8 312.5,259.4 336,272.4 359.5,285.4 370,290.4 390,298.1 412.7,305 443.3,316.7 470,323.4 496.7,330.1 523.3,339.4 550,348.7 576.7,358.1 606.7,368.1 633.3,380.1 660,392.1 681.3,405.4 700,418.7 718.7,434.7 734.7,450.7 740,458.7" fill="none" stroke="#00ff00" stroke-width="0.8" stroke-linejoin="round"/>
<polyline points="248.5,223 265.6,233.3 289,250.4 312.5,262 336,275 359.5,288 370,293 390,300.7 412.7,307.6 443.3,319.3 470,326 496.7,332.7 523.3,342 550,351.3 576.7,360.7 606.7,370.7 633.3,382.7 660,394.7 681.3,408 700,421.3 718.7,437.3 734.7,453.3 740,461.3" fill="none" stroke="#00ff00" stroke-width="0.8" stroke-linejoin="round"/>
<polyline points="248.5,225.6 265.6,235.9 289,253 312.5,264.6 336,277.6 359.5,290.6 370,295.6 390,303.3 412.7,310.2 443.3,321.9 470,328.6 496.7,335.3 523.3,344.6 550,353.9 576.7,363.3 606.7,373.3 633.3,385.3 660,397.3 681.3,410.6 700,423.9 718.7,439.9 734.7,455.9 740,463.9" fill="none" stroke="#00ff00" stroke-width="0.8" stroke-linejoin="round"/>
<polygon points="248.5,217.6 251.3,222.6 245.7,222.6" fill="#fff" stroke="#00ff00" stroke-width="0.8"/>
<polygon points="256,222.1 258.8,227.2 253.2,227.2" fill="#fff" stroke="#00ff00" stroke-width="0.8"/>
<polygon points="263.5,226.6 266.3,231.7 260.7,231.7" fill="#fff" stroke="#00ff00" stroke-width="0.8"/>
<polygon points="271,231.8 273.8,236.9 268.2,236.9" fill="#fff" stroke="#00ff00" stroke-width="0.8"/>
<polygon points="278.5,237.3 281.3,242.4 275.7,242.4" fill="#fff" stroke="#00ff00" stroke-width="0.8"/>
<polygon points="286,242.8 288.8,247.8 283.2,247.8" fill="#fff" stroke="#00ff00" stroke-width="0.8"/>
<polygon points="293.5,247.2 296.3,252.3 290.7,252.3" fill="#fff" stroke="#00ff00" stroke-width="0.8"/>
<polygon points="301,250.9 303.8,256 298.2,256" fill="#fff" stroke="#00ff00" stroke-width="0.8"/>
<polygon points="308.5,254.6 311.3,259.7 305.7,259.7" fill="#fff" stroke="#00ff00" stroke-width="0.8"/>
<polygon points="316,258.5 318.8,263.6 313.2,263.6" fill="#fff" stroke="#00ff00" stroke-width="0.8"/>
<polygon points="323.5,262.7 326.3,267.7 320.7,267.7" fill="#fff" stroke="#00ff00" stroke-width="0.8"/>
<polygon points="331,266.8 333.8,271.9 328.2,271.9" fill="#fff" stroke="#00ff00" stroke-width="0.8"/>
<polygon points="338.5,271 341.3,276 335.7,276" fill="#fff" stroke="#00ff00" stroke-width="0.8"/>
<polygon points="346,275.1 348.8,280.2 343.2,280.2" fill="#fff" stroke="#00ff00" stroke-width="0.8"/>
<polygon points="353.5,279.3 356.3,284.3 350.7,284.3" fill="#fff" stroke="#00ff00" stroke-width="0.8"/>
<polygon points="361,283.3 363.8,288.4 358.2,288.4" fill="#fff" stroke="#00ff00" stroke-width="0.8"/>
<polygon points="368.5,286.9 371.3,291.9 365.7,291.9" fill="#fff" stroke="#00ff00" stroke-width="0.8"/>
<polygon points="376,289.9 378.8,294.9 373.2,294.9" fill="#fff" stroke="#00ff00" stroke-width="0.8"/>
<polygon points="383.5,292.8 386.3,297.8 380.7,297.8" fill="#fff" stroke="#00ff00" stroke-width="0.8"/>
<polygon points="391,295.6 393.8,300.6 388.2,300.6" fill="#fff" stroke="#00ff00" stroke-width="0.8"/>
<polygon points="398.5,297.9 401.3,302.9 395.7,302.9" fill="#fff" stroke="#00ff00" stroke-width="0.8"/>
<polygon points="406,300.2 408.8,305.2 403.2,305.2" fill="#fff" stroke="#00ff00" stroke-width="0.8"/>
<polygon points="413.5,302.5 416.3,307.5 410.7,307.5" fill="#fff" stroke="#00ff00" stroke-width="0.8"/>
<polygon points="421,305.4 423.8,310.4 418.2,310.4" fill="#fff" stroke="#00ff00" stroke-width="0.8"/>
<polygon points="428.5,308.2 431.3,313.3 425.7,313.3" fill="#fff" stroke="#00ff00" stroke-width="0.8"/>
<polygon points="436,311.1 438.8,316.1 433.2,316.1" fill="#fff" stroke="#00ff00" stroke-width="0.8"/>
<polygon points="443.5,314 446.3,319 440.7,319" fill="#fff" stroke="#00ff00" stroke-width="0.8"/>
<polygon points="451,315.8 453.8,320.9 448.2,320.9" fill="#fff" stroke="#00ff00" stroke-width="0.8"/>
<polygon points="458.5,317.7 461.3,322.8 455.7,322.8" fill="#fff" stroke="#00ff00" stroke-width="0.8"/>
<polygon points="466,319.6 468.8,324.6 463.2,324.6" fill="#fff" stroke="#00ff00" stroke-width="0.8"/>
<polygon points="473.5,321.5 476.3,326.5 470.7,326.5" fill="#fff" stroke="#00ff00" stroke-width="0.8"/>
<polygon points="481,323.4 483.8,328.4 478.2,328.4" fill="#fff" stroke="#00ff00" stroke-width="0.8"/>
<polygon points="488.5,325.2 491.3,330.3 485.7,330.3" fill="#fff" stroke="#00ff00" stroke-width="0.8"/>
<polygon points="496,327.1 498.8,332.2 493.2,332.2" fill="#fff" stroke="#00ff00" stroke-width="0.8"/>
<polygon points="503.5,329.7 506.3,334.7 500.7,334.7" fill="#fff" stroke="#00ff00" stroke-width="0.8"/>
<polygon points="511,332.3 513.8,337.3 508.2,337.3" fill="#fff" stroke="#00ff00" stroke-width="0.8"/>
<polygon points="518.5,334.9 521.3,340 515.7,340" fill="#fff" stroke="#00ff00" stroke-width="0.8"/>
<polygon points="526,337.5 528.8,342.6 523.2,342.6" fill="#fff" stroke="#00ff00" stroke-width="0.8"/>
<polygon points="533.5,340.2 536.3,345.2 530.7,345.2" fill="#fff" stroke="#00ff00" stroke-width="0.8"/>
<polygon points="541,342.8 543.8,347.8 538.2,347.8" fill="#fff" stroke="#00ff00" stroke-width="0.8"/>
<polygon points="548.5,345.4 551.3,350.4 545.7,350.4" fill="#fff" stroke="#00ff00" stroke-width="0.8"/>
<polygon points="556,348 558.8,353.1 553.2,353.1" fill="#fff" stroke="#00ff00" stroke-width="0.8"/>
<polygon points="563.5,350.7 566.3,355.7 560.7,355.7" fill="#fff" stroke="#00ff00" stroke-width="0.8"/>
<polygon points="571,353.3 573.8,358.3 568.2,358.3" fill="#fff" stroke="#00ff00" stroke-width="0.8"/>
<polygon points="578.5,355.9 581.3,360.9 575.7,360.9" fill="#fff" stroke="#00ff00" stroke-width="0.8"/>
<polygon points="586,358.4 588.8,363.4 583.2,363.4" fill="#fff" stroke="#00ff00" stroke-width="0.8"/>
<polygon points="593.5,360.9 596.3,365.9 590.7,365.9" fill="#fff" stroke="#00ff00" stroke-width="0.8"/>
<polygon points="601,363.4 603.8,368.4 598.2,368.4" fill="#fff" stroke="#00ff00" stroke-width="0.8"/>
<polygon points="608.5,366.1 611.3,371.2 605.7,371.2" fill="#fff" stroke="#00ff00" stroke-width="0.8"/>
<polygon points="616,369.5 618.8,374.5 613.2,374.5" fill="#fff" stroke="#00ff00" stroke-width="0.8"/>
<polygon points="623.5,372.9 626.3,377.9 620.7,377.9" fill="#fff" stroke="#00ff00" stroke-width="0.8"/>
<polygon points="631,376.3 633.8,381.3 628.2,381.3" fill="#fff" stroke="#00ff00" stroke-width="0.8"/>
<polygon points="638.5,379.6 641.3,384.7 635.7,384.7" fill="#fff" stroke="#00ff00" stroke-width="0.8"/>
<polygon points="646,383 648.8,388 643.2,388" fill="#fff" stroke="#00ff00" stroke-width="0.8"/>
<polygon points="653.5,386.4 656.3,391.4 650.7,391.4" fill="#fff" stroke="#00ff00" stroke-width="0.8"/>
<polygon points="661,389.9 663.8,395 658.2,395" fill="#fff" stroke="#00ff00" stroke-width="0.8"/>
<polygon points="668.5,394.6 671.3,399.6 665.7,399.6" fill="#fff" stroke="#00ff00" stroke-width="0.8"/>
<polygon points="676,399.3 678.8,404.3 673.2,404.3" fill="#fff" stroke="#00ff00" stroke-width="0.8"/>
<polygon points="683.5,404.2 686.3,409.2 680.7,409.2" fill="#fff" stroke="#00ff00" stroke-width="0.8"/>
<polygon points="691,409.5 693.8,414.5 688.2,414.5" fill="#fff" stroke="#00ff00" stroke-width="0.8"/>
<polygon points="698.5,414.8 701.3,419.9 695.7,419.9" fill="#fff" stroke="#00ff00" stroke-width="0.8"/>
<polygon points="706,421 708.8,426.1 703.2,426.1" fill="#fff" stroke="#00ff00" stroke-width="0.8"/>
<polygon points="713.5,427.5 716.3,432.5 710.7,432.5" fill="#fff" stroke="#00ff00" stroke-width="0.8"/>
<polygon points="721,434.2 723.8,439.2 718.2,439.2" fill="#fff" stroke="#00ff00" stroke-width="0.8"/>
<polygon points="728.5,441.7 731.3,446.7 725.7,446.7" fill="#fff" stroke="#00ff00" stroke-width="0.8"/>
<polygon points="736,449.9 738.8,454.9 733.2,454.9" fill="#fff" stroke="#00ff00" stroke-width="0.8"/>
<polygon points="740,455.9 742.8,460.9 737.2,460.9" fill="#fff" stroke="#00ff00" stroke-width="0.8"/>
<polygon points="248.5,220.2 251.3,225.2 245.7,225.2" fill="#fff" stroke="#00ff00" stroke-width="0.8"/>
<polygon points="256,224.7 258.8,229.8 253.2,229.8" fill="#fff" stroke="#00ff00" stroke-width="0.8"/>
<polygon points="263.5,229.2 266.3,234.3 260.7,234.3" fill="#fff" stroke="#00ff00" stroke-width="0.8"/>
<polygon points="271,234.4 273.8,239.5 268.2,239.5" fill="#fff" stroke="#00ff00" stroke-width="0.8"/>
<polygon points="278.5,239.9 281.3,245 275.7,245" fill="#fff" stroke="#00ff00" stroke-width="0.8"/>
<polygon points="286,245.4 288.8,250.4 283.2,250.4" fill="#fff" stroke="#00ff00" stroke-width="0.8"/>
<polygon points="293.5,249.8 296.3,254.9 290.7,254.9" fill="#fff" stroke="#00ff00" stroke-width="0.8"/>
<polygon points="301,253.5 303.8,258.6 298.2,258.6" fill="#fff" stroke="#00ff00" stroke-width="0.8"/>
<polygon points="308.5,257.2 311.3,262.3 305.7,262.3" fill="#fff" stroke="#00ff00" stroke-width="0.8"/>
<polygon points="316,261.1 318.8,266.2 313.2,266.2" fill="#fff" stroke="#00ff00" stroke-width="0.8"/>
<polygon points="323.5,265.3 326.3,270.3 320.7,270.3" fill="#fff" stroke="#00ff00" stroke-width="0.8"/>
<polygon points="331,269.4 333.8,274.5 328.2,274.5" fill="#fff" stroke="#00ff00" stroke-width="0.8"/>
<polygon points="338.5,273.6 341.3,278.6 335.7,278.6" fill="#fff" stroke="#00ff00" stroke-width="0.8"/>
<polygon points="346,277.7 348.8,282.8 343.2,282.8" fill="#fff" stroke="#00ff00" stroke-width="0.8"/>
<polygon points="353.5,281.9 356.3,286.9 350.7,286.9" fill="#fff" stroke="#00ff00" stroke-width="0.8"/>
<polygon points="361,285.9 363.8,291 358.2,291" fill="#fff" stroke="#00ff00" stroke-width="0.8"/>
<polygon points="368.5,289.5 371.3,294.5 365.7,294.5" fill="#fff" stroke="#00ff00" stroke-width="0.8"/>
<polygon points="376,292.5 378.8,297.6 373.2,297.6" fill="#fff" stroke="#00ff00" stroke-width="0.8"/>
<polygon points="383.5,295.4 386.3,300.4 380.7,300.4" fill="#fff" stroke="#00ff00" stroke-width="0.8"/>
<polygon points="391,298.2 393.8,303.2 388.2,303.2" fill="#fff" stroke="#00ff00" stroke-width="0.8"/>
<polygon points="398.5,300.5 401.3,305.5 395.7,305.5" fill="#fff" stroke="#00ff00" stroke-width="0.8"/>
<polygon points="406,302.8 408.8,307.8 403.2,307.8" fill="#fff" stroke="#00ff00" stroke-width="0.8"/>
<polygon points="413.5,305.1 416.3,310.1 410.7,310.1" fill="#fff" stroke="#00ff00" stroke-width="0.8"/>
<polygon points="421,308 423.8,313 418.2,313" fill="#fff" stroke="#00ff00" stroke-width="0.8"/>
<polygon points="428.5,310.8 431.3,315.9 425.7,315.9" fill="#fff" stroke="#00ff00" stroke-width="0.8"/>
<polygon points="436,313.7 438.8,318.7 433.2,318.7" fill="#fff" stroke="#00ff00" stroke-width="0.8"/>
<polygon points="443.5,316.6 446.3,321.6 440.7,321.6" fill="#fff" stroke="#00ff00" stroke-width="0.8"/>
<polygon points="451,318.4 453.8,323.5 448.2,323.5" fill="#fff" stroke="#00ff00" stroke-width="0.8"/>
<polygon points="458.5,320.3 461.3,325.4 455.7,325.4" fill="#fff" stroke="#00ff00" stroke-width="0.8"/>
<polygon points="466,322.2 468.8,327.2 463.2,327.2" fill="#fff" stroke="#00ff00" stroke-width="0.8"/>
<polygon points="473.5,324.1 476.3,329.1 470.7,329.1" fill="#fff" stroke="#00ff00" stroke-width="0.8"/>
<polygon points="481,326 483.8,331 478.2,331" fill="#fff" stroke="#00ff00" stroke-width="0.8"/>
<polygon points="488.5,327.8 491.3,332.9 485.7,332.9" fill="#fff" stroke="#00ff00" stroke-width="0.8"/>
<polygon points="496,329.7 498.8,334.8 493.2,334.8" fill="#fff" stroke="#00ff00" stroke-width="0.8"/>
<polygon points="503.5,332.3 506.3,337.3 500.7,337.3" fill="#fff" stroke="#00ff00" stroke-width="0.8"/>
<polygon points="511,334.9 513.8,339.9 508.2,339.9" fill="#fff" stroke="#00ff00" stroke-width="0.8"/>
<polygon points="518.5,337.5 521.3,342.6 515.7,342.6" fill="#fff" stroke="#00ff00" stroke-width="0.8"/>
<polygon points="526,340.1 528.8,345.2 523.2,345.2" fill="#fff" stroke="#00ff00" stroke-width="0.8"/>
<polygon points="533.5,342.8 536.3,347.8 530.7,347.8" fill="#fff" stroke="#00ff00" stroke-width="0.8"/>
<polygon points="541,345.4 543.8,350.4 538.2,350.4" fill="#fff" stroke="#00ff00" stroke-width="0.8"/>
<polygon points="548.5,348 551.3,353 545.7,353" fill="#fff" stroke="#00ff00" stroke-width="0.8"/>
<polygon points="556,350.6 558.8,355.7 553.2,355.7" fill="#fff" stroke="#00ff00" stroke-width="0.8"/>
<polygon points="563.5,353.3 566.3,358.3 560.7,358.3" fill="#fff" stroke="#00ff00" stroke-width="0.8"/>
<polygon points="571,355.9 573.8,360.9 568.2,360.9" fill="#fff" stroke="#00ff00" stroke-width="0.8"/>
<polygon points="578.5,358.5 581.3,363.5 575.7,363.5" fill="#fff" stroke="#00ff00" stroke-width="0.8"/>
<polygon points="586,361 588.8,366 583.2,366" fill="#fff" stroke="#00ff00" stroke-width="0.8"/>
<polygon points="593.5,363.5 596.3,368.5 590.7,368.5" fill="#fff" stroke="#00ff00" stroke-width="0.8"/>
<polygon points="601,366 603.8,371 598.2,371" fill="#fff" stroke="#00ff00" stroke-width="0.8"/>
<polygon points="608.5,368.7 611.3,373.8 605.7,373.8" fill="#fff" stroke="#00ff00" stroke-width="0.8"/>
<polygon points="616,372.1 618.8,377.1 613.2,377.1" fill="#fff" stroke="#00ff00" stroke-width="0.8"/>
<polygon points="623.5,375.5 626.3,380.5 620.7,380.5" fill="#fff" stroke="#00ff00" stroke-width="0.8"/>
<polygon points="631,378.9 633.8,383.9 628.2,383.9" fill="#fff" stroke="#00ff00" stroke-width="0.8"/>
<polygon points="638.5,382.2 641.3,387.3 635.7,387.3" fill="#fff" stroke="#00ff00" stroke-width="0.8"/>
<polygon points="646,385.6 648.8,390.6 643.2,390.6" fill="#fff" stroke="#00ff00" stroke-width="0.8"/>
<polygon points="653.5,389 656.3,394 650.7,394" fill="#fff" stroke="#00ff00" stroke-width="0.8"/>
<polygon points="661,392.5 663.8,397.6 658.2,397.6" fill="#fff" stroke="#00ff00" stroke-width="0.8"/>
<polygon points="668.5,397.2 671.3,402.2 665.7,402.2" fill="#fff" stroke="#00ff00" stroke-width="0.8"/>
<polygon points="676,401.9 678.8,406.9 673.2,406.9" fill="#fff" stroke="#00ff00" stroke-width="0.8"/>
<polygon points="683.5,406.8 686.3,411.8 680.7,411.8" fill="#fff" stroke="#00ff00" stroke-width="0.8"/>
<polygon points="691,412.1 693.8,417.1 688.2,417.1" fill="#fff" stroke="#00ff00" stroke-width="0.8"/>
<polygon points="698.5,417.4 701.3,422.5 695.7,422.5" fill="#fff" stroke="#00ff00" stroke-width="0.8"/>
<polygon points="706,423.6 708.8,428.7 703.2,428.7" fill="#fff" stroke="#00ff00" stroke-width="0.8"/>
<polygon points="713.5,430.1 716.3,435.1 710.7,435.1" fill="#fff" stroke="#00ff00" stroke-width="0.8"/>
<polygon points="721,436.8 723.8,441.8 718.2,441.8" fill="#fff" stroke="#00ff00" stroke-width="0.8"/>
<polygon points="728.5,444.3 731.3,449.3 725.7,449.3" fill="#fff" stroke="#00ff00" stroke-width="0.8"/>
<polygon points="736,452.5 738.8,457.5 733.2,457.5" fill="#fff" stroke="#00ff00" stroke-width="0.8"/>
<polygon points="740,458.5 742.8,463.5 737.2,463.5" fill="#fff" stroke="#00ff00" stroke-width="0.8"/>
<polygon points="248.5,222.8 251.3,227.8 245.7,227.8" fill="#fff" stroke="#00ff00" stroke-width="0.8"/>
<polygon points="256,227.3 258.8,232.4 253.2,232.4" fill="#fff" stroke="#00ff00" stroke-width="0.8"/>
<polygon points="263.5,231.8 266.3,236.9 260.7,236.9" fill="#fff" stroke="#00ff00" stroke-width="0.8"/>
<polygon points="271,237 273.8,242.1 268.2,242.1" fill="#fff" stroke="#00ff00" stroke-width="0.8"/>
<polygon points="278.5,242.5 281.3,247.6 275.7,247.6" fill="#fff" stroke="#00ff00" stroke-width="0.8"/>
<polygon points="286,248 288.8,253 283.2,253" fill="#fff" stroke="#00ff00" stroke-width="0.8"/>
<polygon points="293.5,252.4 296.3,257.5 290.7,257.5" fill="#fff" stroke="#00ff00" stroke-width="0.8"/>
<polygon points="301,256.1 303.8,261.2 298.2,261.2" fill="#fff" stroke="#00ff00" stroke-width="0.8"/>
<polygon points="308.5,259.8 311.3,264.9 305.7,264.9" fill="#fff" stroke="#00ff00" stroke-width="0.8"/>
<polygon points="316,263.7 318.8,268.8 313.2,268.8" fill="#fff" stroke="#00ff00" stroke-width="0.8"/>
<polygon points="323.5,267.9 326.3,272.9 320.7,272.9" fill="#fff" stroke="#00ff00" stroke-width="0.8"/>
<polygon points="331,272 333.8,277.1 328.2,277.1" fill="#fff" stroke="#00ff00" stroke-width="0.8"/>
<polygon points="338.5,276.2 341.3,281.2 335.7,281.2" fill="#fff" stroke="#00ff00" stroke-width="0.8"/>
<polygon points="346,280.3 348.8,285.4 343.2,285.4" fill="#fff" stroke="#00ff00" stroke-width="0.8"/>
<polygon points="353.5,284.5 356.3,289.5 350.7,289.5" fill="#fff" stroke="#00ff00" stroke-width="0.8"/>
<polygon points="361,288.5 363.8,293.6 358.2,293.6" fill="#fff" stroke="#00ff00" stroke-width="0.8"/>
<polygon points="368.5,292.1 371.3,297.1 365.7,297.1" fill="#fff" stroke="#00ff00" stroke-width="0.8"/>
<polygon points="376,295.1 378.8,300.2 373.2,300.2" fill="#fff" stroke="#00ff00" stroke-width="0.8"/>
<polygon points="383.5,298 386.3,303 380.7,303" fill="#fff" stroke="#00ff00" stroke-width="0.8"/>
<polygon points="391,300.8 393.8,305.8 388.2,305.8" fill="#fff" stroke="#00ff00" stroke-width="0.8"/>
<polygon points="398.5,303.1 401.3,308.1 395.7,308.1" fill="#fff" stroke="#00ff00" stroke-width="0.8"/>
<polygon points="406,305.4 408.8,310.4 403.2,310.4" fill="#fff" stroke="#00ff00" stroke-width="0.8"/>
<polygon points="413.5,307.7 416.3,312.7 410.7,312.7" fill="#fff" stroke="#00ff00" stroke-width="0.8"/>
<polygon points="421,310.6 423.8,315.6 418.2,315.6" fill="#fff" stroke="#00ff00" stroke-width="0.8"/>
<polygon points="428.5,313.4 431.3,318.5 425.7,318.5" fill="#fff" stroke="#00ff00" stroke-width="0.8"/>
<polygon points="436,316.3 438.8,321.3 433.2,321.3" fill="#fff" stroke="#00ff00" stroke-width="0.8"/>
<polygon points="443.5,319.2 446.3,324.2 440.7,324.2" fill="#fff" stroke="#00ff00" stroke-width="0.8"/>
<polygon points="451,321 453.8,326.1 448.2,326.1" fill="#fff" stroke="#00ff00" stroke-width="0.8"/>
<polygon points="458.5,322.9 461.3,328 455.7,328" fill="#fff" stroke="#00ff00" stroke-width="0.8"/>
<polygon points="466,324.8 468.8,329.8 463.2,329.8" fill="#fff" stroke="#00ff00" stroke-width="0.8"/>
<polygon points="473.5,326.7 476.3,331.7 470.7,331.7" fill="#fff" stroke="#00ff00" stroke-width="0.8"/>
<polygon points="481,328.6 483.8,333.6 478.2,333.6" fill="#fff" stroke="#00ff00" stroke-width="0.8"/>
<polygon points="488.5,330.4 491.3,335.5 485.7,335.5" fill="#fff" stroke="#00ff00" stroke-width="0.8"/>
<polygon points="496,332.3 498.8,337.4 493.2,337.4" fill="#fff" stroke="#00ff00" stroke-width="0.8"/>
<polygon points="503.5,334.9 506.3,339.9 500.7,339.9" fill="#fff" stroke="#00ff00" stroke-width="0.8"/>
<polygon points="511,337.5 513.8,342.5 508.2,342.5" fill="#fff" stroke="#00ff00" stroke-width="0.8"/>
<polygon points="518.5,340.1 521.3,345.2 515.7,345.2" fill="#fff" stroke="#00ff00" stroke-width="0.8"/>
<polygon points="526,342.7 528.8,347.8 523.2,347.8" fill="#fff" stroke="#00ff00" stroke-width="0.8"/>
<polygon points="533.5,345.4 536.3,350.4 530.7,350.4" fill="#fff" stroke="#00ff00" stroke-width="0.8"/>
<polygon points="541,348 543.8,353 538.2,353" fill="#fff" stroke="#00ff00" stroke-width="0.8"/>
<polygon points="548.5,350.6 551.3,355.6 545.7,355.6" fill="#fff" stroke="#00ff00" stroke-width="0.8"/>
<polygon points="556,353.2 558.8,358.3 553.2,358.3" fill="#fff" stroke="#00ff00" stroke-width="0.8"/>
<polygon points="563.5,355.9 566.3,360.9 560.7,360.9" fill="#fff" stroke="#00ff00" stroke-width="0.8"/>
<polygon points="571,358.5 573.8,363.5 568.2,363.5" fill="#fff" stroke="#00ff00" stroke-width="0.8"/>
<polygon points="578.5,361.1 581.3,366.1 575.7,366.1" fill="#fff" stroke="#00ff00" stroke-width="0.8"/>
<polygon points="586,363.6 588.8,368.6 583.2,368.6" fill="#fff" stroke="#00ff00" stroke-width="0.8"/>
<polygon points="593.5,366.1 596.3,371.1 590.7,371.1" fill="#fff" stroke="#00ff00" stroke-width="0.8"/>
<polygon points="601,368.6 603.8,373.6 598.2,373.6" fill="#fff" stroke="#00ff00" stroke-width="0.8"/>
<polygon points="608.5,371.3 611.3,376.4 605.7,376.4" fill="#fff" stroke="#00ff00" stroke-width="0.8"/>
<polygon points="616,374.7 618.8,379.7 613.2,379.7" fill="#fff" stroke="#00ff00" stroke-width="0.8"/>
<polygon points="623.5,378.1 626.3,383.1 620.7,383.1" fill="#fff" stroke="#00ff00" stroke-width="0.8"/>
<polygon points="631,381.5 633.8,386.5 628.2,386.5" fill="#fff" stroke="#00ff00" stroke-width="0.8"/>
<polygon points="638.5,384.8 641.3,389.9 635.7,389.9" fill="#fff" stroke="#00ff00" stroke-width="0.8"/>
<polygon points="646,388.2 648.8,393.2 643.2,393.2" fill="#fff" stroke="#00ff00" stroke-width="0.8"/>
<polygon points="653.5,391.6 656.3,396.6 650.7,396.6" fill="#fff" stroke="#00ff00" stroke-width="0.8"/>
<polygon points="661,395.1 663.8,400.2 658.2,400.2" fill="#fff" stroke="#00ff00" stroke-width="0.8"/>
<polygon points="668.5,399.8 671.3,404.8 665.7,404.8" fill="#fff" stroke="#00ff00" stroke-width="0.8"/>
<polygon points="676,404.5 678.8,409.5 673.2,409.5" fill="#fff" stroke="#00ff00" stroke-width="0.8"/>
<polygon points="683.5,409.4 686.3,414.4 680.7,414.4" fill="#fff" stroke="#00ff00" stroke-width="0.8"/>
<polygon points="691,414.7 693.8,419.7 688.2,419.7" fill="#fff" stroke="#00ff00" stroke-width="0.8"/>
<polygon points="698.5,420 701.3,425.1 695.7,425.1" fill="#fff" stroke="#00ff00" stroke-width="0.8"/>
<polygon points="706,426.2 708.8,431.3 703.2,431.3" fill="#fff" stroke="#00ff00" stroke-width="0.8"/>
<polygon points="713.5,432.7 716.3,437.7 710.7,437.7" fill="#fff" stroke="#00ff00" stroke-width="0.8"/>
<polygon points="721,439.4 723.8,444.4 718.2,444.4" fill="#fff" stroke="#00ff00" stroke-width="0.8"/>
<polygon points="728.5,446.9 731.3,451.9 725.7,451.9" fill="#fff" stroke="#00ff00" stroke-width="0.8"/>
<polygon points="736,455.1 738.8,460.1 733.2,460.1" fill="#fff" stroke="#00ff00" stroke-width="0.8"/>
<polygon points="740,461.1 742.8,466.1 737.2,466.1" fill="#fff" stroke="#00ff00" stroke-width="0.8"/>
<polyline points="248.5,73.7 257,113.2 265,158.5 272.5,185.8 280.5,208.8 289,228 296.5,243.6 304,256.8 313,269.2 325,281 340,293" fill="none" stroke="#00ff00" stroke-width="0.85"/>
<polygon points="248.5,70.6 251.6,76.2 245.4,76.2" fill="#00ff00"/>
<polygon points="257,110.1 260.1,115.7 253.9,115.7" fill="#00ff00"/>
<polygon points="265,155.4 268.1,161 261.9,161" fill="#00ff00"/>
<polygon points="272.5,182.7 275.6,188.3 269.4,188.3" fill="#00ff00"/>
<polygon points="280.5,205.7 283.6,211.3 277.4,211.3" fill="#00ff00"/>
<polygon points="289,224.9 292.1,230.5 285.9,230.5" fill="#00ff00"/>
<polyline points="248.5,232.9 251.1,234.2 253.7,236.9 256.3,237.3 258.9,239.9 261.5,241.2 264.1,242.7 266.7,245.8 269.3,247 271.9,249.9 274.5,251.4 277.1,253.8 279.7,256.9 282.3,260.1 284.9,260.6 287.5,262.6 290.1,265.3 292.7,267.7 295.3,268.8 297.9,270.3 300.5,273.3 303.1,273.3 305.7,276.6 308.3,277 310.9,278.3 313.5,279.8 316.1,281.8 318.7,284.4 321.3,284.7 323.9,287.1 326.5,288.7 329.1,289.5 331.7,291.2 334.3,291.6 336.9,292.9 339.5,294.5 342.1,296.8 344.7,297.6 347.3,298.8 349.9,301.1 352.5,302.5 355.1,303.9 357.7,306.6 360.3,308.1 362.9,308.9 365.5,311.3 368.1,312.9 370.7,315 373.3,316.1 375.9,316.7 378.5,319.5 381.1,319.2 383.7,321.2 386.3,323.3 388.9,323.5 391.5,325.4 394.1,325.6 396.7,327.9 399.3,329.2 401.9,329.9 404.5,331.6 407.1,331.6 409.7,333.4 412.3,334.3 414.9,335.8 417.5,337.1 420.1,339.5 422.7,341.2 425.3,341.9 427.9,343.8 430.5,344.2 433.1,347 435.7,348.5 438.3,350.8 440.9,352 443.5,352.4 446.1,353.6 448.7,355.2 451.3,354.8 453.9,356.7 456.5,357.1 459.1,358 461.7,358.8 464.3,361.2 466.9,360.9 469.5,362.1 472.1,363.4 474.7,365.3 477.3,364.7 479.9,366.4 482.5,367.6 485.1,369.2 487.7,370.1 490.3,371.1 492.9,370.9 495.5,372.2 498.1,372.9 500.7,374.8 503.3,375.7 505.9,374.9 508.5,375.7 511.1,376.6 513.7,377.4 516.3,378.7 518.9,379.7 521.5,379.8 524.1,380 526.7,381.7 529.3,382.3 531.9,383.5 534.5,385.1 537.1,385.3 539.7,385.7 542.3,386.7 544.9,387.6 547.5,387.2 550.1,389.6 552.7,390.1 555.3,390.9 557.9,391.5 560.5,391.3 563.1,392 565.7,392.1 568.3,393.9 570.9,393.4 573.5,394.1 576.1,395.1 578.7,395.5 581.3,396.4 583.9,396.3 586.5,396.8 589.1,397.6 591.7,398 594.3,399 596.9,398.9 599.5,401.1 602.1,401.1 604.7,400.7 607.3,401.5 609.9,402.3 612.5,403 615.1,403.2 617.7,405.3 620.3,406.2 622.9,405.8 625.5,406.5 628.1,406.4 630.7,407 633.3,408.2 635.9,408.8 638.5,410.7 641.1,410.2 643.7,410.7 646.3,413.3 648.9,413.2 651.5,413.2 654.1,414.8 656.7,414.6 659.3,416.3 661.9,418.2 664.5,419 667.1,419.7 669.7,419.9 672.3,421.1 674.9,421.7 677.5,424 680.1,424.5 682.7,426.1 685.3,426.2 687.9,427.2 690.5,429.6 693.1,431.3 695.7,432.3 698.3,433.6 700.9,434.9 703.5,436 706.1,436.3 708.7,438.2 711.3,439.2 713.9,439.9 716.5,441.2 719.1,443 721.7,444.2 724.3,446.4 726.9,448.2 729.5,448.5 732.1,450.8 734.7,452.3 737.3,453.6 739.9,453.8 741.3,454.8" fill="none" stroke="#0000ff" stroke-width="1.0" stroke-linejoin="round"/>
<polyline points="248.5,234.9 251.1,236.6 253.7,238.1 256.3,239.8 258.9,242.2 261.5,244.5 264.1,246.5 266.7,247.9 269.3,250.4 271.9,252.9 274.5,253.6 277.1,257.2 279.7,260.1 282.3,262.2 284.9,264 287.5,265.3 290.1,266.6 292.7,269.6 295.3,270.5 297.9,273.3 300.5,275.5 303.1,276.2 305.7,277.8 308.3,280.5 310.9,281.7 313.5,282.1 316.1,283.6 318.7,285.3 321.3,288.4 323.9,289.8 326.5,289.9 329.1,292.6 331.7,294.3 334.3,294.9 336.9,295.7 339.5,297.4 342.1,297.9 344.7,299 347.3,302.3 349.9,303.4 352.5,304.9 355.1,307.4 357.7,308.1 360.3,310.7 362.9,312.3 365.5,312.8 368.1,314.6 370.7,316.1 373.3,317.4 375.9,319.5 378.5,320.2 381.1,322 383.7,322.8 386.3,325.8 388.9,326.1 391.5,327.5 394.1,328.9 396.7,330.6 399.3,330.7 401.9,332.8 404.5,333.1 407.1,334.2 409.7,335.3 412.3,335.4 414.9,337.7 417.5,338.8 420.1,340 422.7,343.1 425.3,343.5 427.9,345.6 430.5,347.7 433.1,348.9 435.7,350.1 438.3,352 440.9,353.7 443.5,355.6 446.1,355.3 448.7,357.1 451.3,357.5 453.9,358.5 456.5,360.5 459.1,360.9 461.7,362 464.3,363.4 466.9,364.7 469.5,364.7 472.1,366 474.7,366.8 477.3,367.8 479.9,369.1 482.5,369.6 485.1,370.7 487.7,371.6 490.3,373.5 492.9,374 495.5,375.3 498.1,376.3 500.7,375.7 503.3,377.1 505.9,378.7 508.5,379.2 511.1,378.6 513.7,379.4 516.3,380.8 518.9,380.8 521.5,381.9 524.1,382.4 526.7,384.4 529.3,385.4 531.9,386.4 534.5,385.7 537.1,387.6 539.7,388.2 542.3,388 544.9,390.2 547.5,391.2 550.1,390.5 552.7,392.6 555.3,392.2 557.9,393 560.5,394.7 563.1,395.1 565.7,394.4 568.3,395.7 570.9,396.5 573.5,396.8 576.1,397.2 578.7,398 581.3,399.4 583.9,398.5 586.5,400.1 589.1,400.4 591.7,400 594.3,401.2 596.9,402.3 599.5,402.6 602.1,402.2 604.7,404.6 607.3,404.7 609.9,405.7 612.5,404.7 615.1,405.6 617.7,405.8 620.3,408 622.9,407.6 625.5,408 628.1,409.2 630.7,410.9 633.3,411.3 635.9,411 638.5,411.6 641.1,413.9 643.7,414 646.3,415 648.9,414.6 651.5,415.3 654.1,417.3 656.7,417.6 659.3,417.6 661.9,420.3 664.5,420.8 667.1,422.1 669.7,421.7 672.3,424.3 674.9,423.7 677.5,426.4 680.1,426.6 682.7,427.4 685.3,428.9 687.9,430.8 690.5,430.8 693.1,431.8 695.7,433.9 698.3,434.6 700.9,435.7 703.5,437.1 706.1,438.2 708.7,439.8 711.3,441.3 713.9,442.6 716.5,444.8 719.1,445.2 721.7,446.9 724.3,447.6 726.9,449.2 729.5,449.8 732.1,451.7 734.7,452.6 737.3,455.4 739.9,456.4 741.3,457" fill="none" stroke="#0000ff" stroke-width="1.0" stroke-linejoin="round"/>
<polyline points="248.5,237.1 251.1,239.3 253.7,241.8 256.3,241.8 258.9,244.8 261.5,245.7 264.1,248 266.7,250.8 269.3,252.1 271.9,254.5 274.5,257 277.1,260 279.7,261.1 282.3,264.5 284.9,266.2 287.5,267.9 290.1,269.2 292.7,270.9 295.3,272.2 297.9,274.2 300.5,275.9 303.1,279 305.7,279.7 308.3,281.2 310.9,282.6 313.5,285.7 316.1,287.3 318.7,288.5 321.3,289.3 323.9,290.8 326.5,292.4 329.1,294.1 331.7,294.8 334.3,296.7 336.9,297.7 339.5,300.4 342.1,301.8 344.7,302.3 347.3,303.1 349.9,306.2 352.5,306.6 355.1,308.4 357.7,309.4 360.3,311.9 362.9,313.8 365.5,315.6 368.1,316.7 370.7,318.7 373.3,319.1 375.9,321 378.5,322.1 381.1,324.1 383.7,324.8 386.3,326.2 388.9,328.2 391.5,329.3 394.1,331.1 396.7,332.1 399.3,333.6 401.9,334.5 404.5,335.7 407.1,337.1 409.7,337.2 412.3,338.2 414.9,341 417.5,340.9 420.1,343.6 422.7,345 425.3,345.4 427.9,348.6 430.5,350.2 433.1,351.3 435.7,353.1 438.3,354.8 440.9,355 443.5,357.3 446.1,358.3 448.7,359.9 451.3,360.8 453.9,361.8 456.5,362.3 459.1,363.9 461.7,364.5 464.3,365.5 466.9,365.5 469.5,366.1 472.1,367.3 474.7,368.7 477.3,369.1 479.9,371.6 482.5,372 485.1,373.1 487.7,374.1 490.3,375.2 492.9,375.8 495.5,375.8 498.1,378.2 500.7,378.9 503.3,379.2 505.9,380 508.5,381.1 511.1,380.7 513.7,382.8 516.3,382.6 518.9,383 521.5,384.2 524.1,385.9 526.7,385.6 529.3,387.5 531.9,388.7 534.5,388.5 537.1,389.1 539.7,390.1 542.3,391.3 544.9,392.2 547.5,392.7 550.1,393.5 552.7,393.1 555.3,393.9 557.9,394.8 560.5,396.4 563.1,396.2 565.7,397.5 568.3,397 570.9,397.8 573.5,398.9 576.1,400.4 578.7,401 581.3,401.5 583.9,401.2 586.5,402.2 589.1,402.6 591.7,403.1 594.3,403 596.9,405 599.5,404.2 602.1,406.2 604.7,406.7 607.3,405.4 609.9,406.9 612.5,408.3 615.1,409.3 617.7,408.9 620.3,409.2 622.9,409.7 625.5,411.8 628.1,411 630.7,412.4 633.3,412.2 635.9,413.7 638.5,415.4 641.1,414.5 643.7,416.7 646.3,416.8 648.9,418.3 651.5,418.8 654.1,418.6 656.7,420.7 659.3,420.7 661.9,420.7 664.5,421.7 667.1,423.7 669.7,424.7 672.3,425.4 674.9,426.1 677.5,427.5 680.1,428.5 682.7,430.6 685.3,429.9 687.9,432.6 690.5,434.1 693.1,434 695.7,436.9 698.3,437.8 700.9,439.5 703.5,439.5 706.1,441 708.7,442.4 711.3,444.9 713.9,445.4 716.5,446.2 719.1,447.7 721.7,448.7 724.3,449.5 726.9,450.9 729.5,453.7 732.1,453.9 734.7,456.6 737.3,456.6 739.9,458 741.3,459.2" fill="none" stroke="#0000ff" stroke-width="1.0" stroke-linejoin="round"/>
<polygon points="248.5,230.3 251.5,233.3 248.5,236.3 245.5,233.3" fill="#0000ff"/>
<polygon points="251.1,231.1 254.1,234.1 251.1,237.1 248.1,234.1" fill="#0000ff"/>
<polygon points="253.7,233.2 256.7,236.2 253.7,239.2 250.7,236.2" fill="#0000ff"/>
<polygon points="256.3,236.4 259.3,239.4 256.3,242.4 253.3,239.4" fill="#0000ff"/>
<polygon points="258.9,237.8 261.9,240.8 258.9,243.8 255.9,240.8" fill="#0000ff"/>
<polygon points="261.5,239.3 264.5,242.3 261.5,245.3 258.5,242.3" fill="#0000ff"/>
<polygon points="264.1,241 267.1,244 264.1,247 261.1,244" fill="#0000ff"/>
<polygon points="266.7,243.8 269.7,246.8 266.7,249.8 263.7,246.8" fill="#0000ff"/>
<polygon points="269.3,246.1 272.3,249.1 269.3,252.1 266.3,249.1" fill="#0000ff"/>
<polygon points="271.9,247.2 274.9,250.2 271.9,253.2 268.9,250.2" fill="#0000ff"/>
<polygon points="274.5,249.8 277.5,252.8 274.5,255.8 271.5,252.8" fill="#0000ff"/>
<polygon points="277.1,250.5 280.1,253.5 277.1,256.5 274.1,253.5" fill="#0000ff"/>
<polygon points="279.7,254.6 282.7,257.6 279.7,260.6 276.7,257.6" fill="#0000ff"/>
<polygon points="282.3,256.3 285.3,259.3 282.3,262.3 279.3,259.3" fill="#0000ff"/>
<polygon points="284.9,259 287.9,262 284.9,265 281.9,262" fill="#0000ff"/>
<polygon points="287.5,260.6 290.5,263.6 287.5,266.6 284.5,263.6" fill="#0000ff"/>
<polygon points="290.1,261.5 293.1,264.5 290.1,267.5 287.1,264.5" fill="#0000ff"/>
<polygon points="292.7,262.7 295.7,265.7 292.7,268.7 289.7,265.7" fill="#0000ff"/>
<polygon points="295.3,266.8 298.3,269.8 295.3,272.8 292.3,269.8" fill="#0000ff"/>
<polygon points="297.9,266.5 300.9,269.5 297.9,272.5 294.9,269.5" fill="#0000ff"/>
<polygon points="300.5,269.3 303.5,272.3 300.5,275.3 297.5,272.3" fill="#0000ff"/>
<polygon points="303.1,270.8 306.1,273.8 303.1,276.8 300.1,273.8" fill="#0000ff"/>
<polygon points="305.7,272.3 308.7,275.3 305.7,278.3 302.7,275.3" fill="#0000ff"/>
<polygon points="308.3,275 311.3,278 308.3,281 305.3,278" fill="#0000ff"/>
<polygon points="310.9,277.2 313.9,280.2 310.9,283.2 307.9,280.2" fill="#0000ff"/>
<polygon points="313.5,277 316.5,280 313.5,283 310.5,280" fill="#0000ff"/>
<polygon points="316.1,279.6 319.1,282.6 316.1,285.6 313.1,282.6" fill="#0000ff"/>
<polygon points="318.7,280.3 321.7,283.3 318.7,286.3 315.7,283.3" fill="#0000ff"/>
<polygon points="321.3,282.5 324.3,285.5 321.3,288.5 318.3,285.5" fill="#0000ff"/>
<polygon points="323.9,283.7 326.9,286.7 323.9,289.7 320.9,286.7" fill="#0000ff"/>
<polygon points="326.5,284.6 329.5,287.6 326.5,290.6 323.5,287.6" fill="#0000ff"/>
<polygon points="329.1,285.9 332.1,288.9 329.1,291.9 326.1,288.9" fill="#0000ff"/>
<polygon points="331.7,287.3 334.7,290.3 331.7,293.3 328.7,290.3" fill="#0000ff"/>
<polygon points="334.3,290.5 337.3,293.5 334.3,296.5 331.3,293.5" fill="#0000ff"/>
<polygon points="336.9,290.8 339.9,293.8 336.9,296.8 333.9,293.8" fill="#0000ff"/>
<polygon points="339.5,291.4 342.5,294.4 339.5,297.4 336.5,294.4" fill="#0000ff"/>
<polygon points="342.1,294.5 345.1,297.5 342.1,300.5 339.1,297.5" fill="#0000ff"/>
<polygon points="344.7,296.1 347.7,299.1 344.7,302.1 341.7,299.1" fill="#0000ff"/>
<polygon points="347.3,296.1 350.3,299.1 347.3,302.1 344.3,299.1" fill="#0000ff"/>
<polygon points="349.9,297 352.9,300 349.9,303 346.9,300" fill="#0000ff"/>
<polygon points="352.5,298.8 355.5,301.8 352.5,304.8 349.5,301.8" fill="#0000ff"/>
<polygon points="355.1,300.3 358.1,303.3 355.1,306.3 352.1,303.3" fill="#0000ff"/>
<polygon points="357.7,302.6 360.7,305.6 357.7,308.6 354.7,305.6" fill="#0000ff"/>
<polygon points="360.3,303.7 363.3,306.7 360.3,309.7 357.3,306.7" fill="#0000ff"/>
<polygon points="362.9,305.8 365.9,308.8 362.9,311.8 359.9,308.8" fill="#0000ff"/>
<polygon points="365.5,307.5 368.5,310.5 365.5,313.5 362.5,310.5" fill="#0000ff"/>
<polygon points="368.1,310 371.1,313 368.1,316 365.1,313" fill="#0000ff"/>
<polygon points="370.7,312.3 373.7,315.3 370.7,318.3 367.7,315.3" fill="#0000ff"/>
<polygon points="373.3,313.3 376.3,316.3 373.3,319.3 370.3,316.3" fill="#0000ff"/>
<polygon points="375.9,313.9 378.9,316.9 375.9,319.9 372.9,316.9" fill="#0000ff"/>
<polygon points="378.5,315.3 381.5,318.3 378.5,321.3 375.5,318.3" fill="#0000ff"/>
<polygon points="381.1,317 384.1,320 381.1,323 378.1,320" fill="#0000ff"/>
<polygon points="383.7,318 386.7,321 383.7,324 380.7,321" fill="#0000ff"/>
<polygon points="386.3,319.4 389.3,322.4 386.3,325.4 383.3,322.4" fill="#0000ff"/>
<polygon points="388.9,320.1 391.9,323.1 388.9,326.1 385.9,323.1" fill="#0000ff"/>
<polygon points="391.5,321.8 394.5,324.8 391.5,327.8 388.5,324.8" fill="#0000ff"/>
<polygon points="394.1,324.7 397.1,327.7 394.1,330.7 391.1,327.7" fill="#0000ff"/>
<polygon points="396.7,323.6 399.7,326.6 396.7,329.6 393.7,326.6" fill="#0000ff"/>
<polygon points="399.3,325.7 402.3,328.7 399.3,331.7 396.3,328.7" fill="#0000ff"/>
<polygon points="401.9,327.1 404.9,330.1 401.9,333.1 398.9,330.1" fill="#0000ff"/>
<polygon points="404.5,328.8 407.5,331.8 404.5,334.8 401.5,331.8" fill="#0000ff"/>
<polygon points="407.1,328.2 410.1,331.2 407.1,334.2 404.1,331.2" fill="#0000ff"/>
<polygon points="409.7,329.4 412.7,332.4 409.7,335.4 406.7,332.4" fill="#0000ff"/>
<polygon points="412.3,330.5 415.3,333.5 412.3,336.5 409.3,333.5" fill="#0000ff"/>
<polygon points="414.9,332.4 417.9,335.4 414.9,338.4 411.9,335.4" fill="#0000ff"/>
<polygon points="417.5,334.1 420.5,337.1 417.5,340.1 414.5,337.1" fill="#0000ff"/>
<polygon points="420.1,337 423.1,340 420.1,343 417.1,340" fill="#0000ff"/>
<polygon points="422.7,338.3 425.7,341.3 422.7,344.3 419.7,341.3" fill="#0000ff"/>
<polygon points="425.3,339.9 428.3,342.9 425.3,345.9 422.3,342.9" fill="#0000ff"/>
<polygon points="427.9,339.2 430.9,342.2 427.9,345.2 424.9,342.2" fill="#0000ff"/>
<polygon points="430.5,340.8 433.5,343.8 430.5,346.8 427.5,343.8" fill="#0000ff"/>
<polygon points="433.1,344.2 436.1,347.2 433.1,350.2 430.1,347.2" fill="#0000ff"/>
<polygon points="435.7,346.2 438.7,349.2 435.7,352.2 432.7,349.2" fill="#0000ff"/>
<polygon points="438.3,346.7 441.3,349.7 438.3,352.7 435.3,349.7" fill="#0000ff"/>
<polygon points="440.9,348.6 443.9,351.6 440.9,354.6 437.9,351.6" fill="#0000ff"/>
<polygon points="443.5,348.6 446.5,351.6 443.5,354.6 440.5,351.6" fill="#0000ff"/>
<polygon points="446.1,350.6 449.1,353.6 446.1,356.6 443.1,353.6" fill="#0000ff"/>
<polygon points="448.7,352.9 451.7,355.9 448.7,358.9 445.7,355.9" fill="#0000ff"/>
<polygon points="451.3,353.6 454.3,356.6 451.3,359.6 448.3,356.6" fill="#0000ff"/>
<polygon points="453.9,354.7 456.9,357.7 453.9,360.7 450.9,357.7" fill="#0000ff"/>
<polygon points="456.5,356 459.5,359 456.5,362 453.5,359" fill="#0000ff"/>
<polygon points="459.1,355.1 462.1,358.1 459.1,361.1 456.1,358.1" fill="#0000ff"/>
<polygon points="461.7,355.7 464.7,358.7 461.7,361.7 458.7,358.7" fill="#0000ff"/>
<polygon points="464.3,356.8 467.3,359.8 464.3,362.8 461.3,359.8" fill="#0000ff"/>
<polygon points="466.9,358.7 469.9,361.7 466.9,364.7 463.9,361.7" fill="#0000ff"/>
<polygon points="469.5,360.1 472.5,363.1 469.5,366.1 466.5,363.1" fill="#0000ff"/>
<polygon points="472.1,361.7 475.1,364.7 472.1,367.7 469.1,364.7" fill="#0000ff"/>
<polygon points="474.7,362.1 477.7,365.1 474.7,368.1 471.7,365.1" fill="#0000ff"/>
<polygon points="477.3,362.9 480.3,365.9 477.3,368.9 474.3,365.9" fill="#0000ff"/>
<polygon points="479.9,364.2 482.9,367.2 479.9,370.2 476.9,367.2" fill="#0000ff"/>
<polygon points="482.5,364.4 485.5,367.4 482.5,370.4 479.5,367.4" fill="#0000ff"/>
<polygon points="485.1,365.6 488.1,368.6 485.1,371.6 482.1,368.6" fill="#0000ff"/>
<polygon points="487.7,365.2 490.7,368.2 487.7,371.2 484.7,368.2" fill="#0000ff"/>
<polygon points="490.3,368.1 493.3,371.1 490.3,374.1 487.3,371.1" fill="#0000ff"/>
<polygon points="492.9,367.7 495.9,370.7 492.9,373.7 489.9,370.7" fill="#0000ff"/>
<polygon points="495.5,370.4 498.5,373.4 495.5,376.4 492.5,373.4" fill="#0000ff"/>
<polygon points="498.1,370.6 501.1,373.6 498.1,376.6 495.1,373.6" fill="#0000ff"/>
<polygon points="500.7,370.5 503.7,373.5 500.7,376.5 497.7,373.5" fill="#0000ff"/>
<polygon points="503.3,370.8 506.3,373.8 503.3,376.8 500.3,373.8" fill="#0000ff"/>
<polygon points="505.9,371.9 508.9,374.9 505.9,377.9 502.9,374.9" fill="#0000ff"/>
<polygon points="508.5,373.7 511.5,376.7 508.5,379.7 505.5,376.7" fill="#0000ff"/>
<polygon points="511.1,374.6 514.1,377.6 511.1,380.6 508.1,377.6" fill="#0000ff"/>
<polygon points="513.7,373.9 516.7,376.9 513.7,379.9 510.7,376.9" fill="#0000ff"/>
<polygon points="516.3,374.6 519.3,377.6 516.3,380.6 513.3,377.6" fill="#0000ff"/>
<polygon points="518.9,376.5 521.9,379.5 518.9,382.5 515.9,379.5" fill="#0000ff"/>
<polygon points="521.5,377.5 524.5,380.5 521.5,383.5 518.5,380.5" fill="#0000ff"/>
<polygon points="524.1,377.7 527.1,380.7 524.1,383.7 521.1,380.7" fill="#0000ff"/>
<polygon points="526.7,378.1 529.7,381.1 526.7,384.1 523.7,381.1" fill="#0000ff"/>
<polygon points="529.3,379.9 532.3,382.9 529.3,385.9 526.3,382.9" fill="#0000ff"/>
<polygon points="531.9,379.1 534.9,382.1 531.9,385.1 528.9,382.1" fill="#0000ff"/>
<polygon points="534.5,380.6 537.5,383.6 534.5,386.6 531.5,383.6" fill="#0000ff"/>
<polygon points="537.1,381.8 540.1,384.8 537.1,387.8 534.1,384.8" fill="#0000ff"/>
<polygon points="539.7,383.9 542.7,386.9 539.7,389.9 536.7,386.9" fill="#0000ff"/>
<polygon points="542.3,383.9 545.3,386.9 542.3,389.9 539.3,386.9" fill="#0000ff"/>
<polygon points="544.9,385.3 547.9,388.3 544.9,391.3 541.9,388.3" fill="#0000ff"/>
<polygon points="547.5,385 550.5,388 547.5,391 544.5,388" fill="#0000ff"/>
<polygon points="550.1,385.1 553.1,388.1 550.1,391.1 547.1,388.1" fill="#0000ff"/>
<polygon points="552.7,385.9 555.7,388.9 552.7,391.9 549.7,388.9" fill="#0000ff"/>
<polygon points="555.3,388.4 558.3,391.4 555.3,394.4 552.3,391.4" fill="#0000ff"/>
<polygon points="557.9,388.4 560.9,391.4 557.9,394.4 554.9,391.4" fill="#0000ff"/>
<polygon points="560.5,388.1 563.5,391.1 560.5,394.1 557.5,391.1" fill="#0000ff"/>
<polygon points="563.1,388 566.1,391 563.1,394 560.1,391" fill="#0000ff"/>
<polygon points="565.7,389.9 568.7,392.9 565.7,395.9 562.7,392.9" fill="#0000ff"/>
<polygon points="568.3,391.1 571.3,394.1 568.3,397.1 565.3,394.1" fill="#0000ff"/>
<polygon points="570.9,391.1 573.9,394.1 570.9,397.1 567.9,394.1" fill="#0000ff"/>
<polygon points="573.5,391.3 576.5,394.3 573.5,397.3 570.5,394.3" fill="#0000ff"/>
<polygon points="576.1,393.1 579.1,396.1 576.1,399.1 573.1,396.1" fill="#0000ff"/>
<polygon points="578.7,394.3 581.7,397.3 578.7,400.3 575.7,397.3" fill="#0000ff"/>
<polygon points="581.3,393 584.3,396 581.3,399 578.3,396" fill="#0000ff"/>
<polygon points="583.9,393 586.9,396 583.9,399 580.9,396" fill="#0000ff"/>
<polygon points="586.5,394.3 589.5,397.3 586.5,400.3 583.5,397.3" fill="#0000ff"/>
<polygon points="589.1,395.1 592.1,398.1 589.1,401.1 586.1,398.1" fill="#0000ff"/>
<polygon points="591.7,396.3 594.7,399.3 591.7,402.3 588.7,399.3" fill="#0000ff"/>
<polygon points="594.3,395.5 597.3,398.5 594.3,401.5 591.3,398.5" fill="#0000ff"/>
<polygon points="596.9,397.6 599.9,400.6 596.9,403.6 593.9,400.6" fill="#0000ff"/>
<polygon points="599.5,398 602.5,401 599.5,404 596.5,401" fill="#0000ff"/>
<polygon points="602.1,397.9 605.1,400.9 602.1,403.9 599.1,400.9" fill="#0000ff"/>
<polygon points="604.7,397.6 607.7,400.6 604.7,403.6 601.7,400.6" fill="#0000ff"/>
<polygon points="607.3,400.2 610.3,403.2 607.3,406.2 604.3,403.2" fill="#0000ff"/>
<polygon points="609.9,399.1 612.9,402.1 609.9,405.1 606.9,402.1" fill="#0000ff"/>
<polygon points="612.5,401.1 615.5,404.1 612.5,407.1 609.5,404.1" fill="#0000ff"/>
<polygon points="615.1,400.2 618.1,403.2 615.1,406.2 612.1,403.2" fill="#0000ff"/>
<polygon points="617.7,400.8 620.7,403.8 617.7,406.8 614.7,403.8" fill="#0000ff"/>
<polygon points="620.3,402.9 623.3,405.9 620.3,408.9 617.3,405.9" fill="#0000ff"/>
<polygon points="622.9,402.3 625.9,405.3 622.9,408.3 619.9,405.3" fill="#0000ff"/>
<polygon points="625.5,404.7 628.5,407.7 625.5,410.7 622.5,407.7" fill="#0000ff"/>
<polygon points="628.1,404.2 631.1,407.2 628.1,410.2 625.1,407.2" fill="#0000ff"/>
<polygon points="630.7,404 633.7,407 630.7,410 627.7,407" fill="#0000ff"/>
<polygon points="633.3,404.8 636.3,407.8 633.3,410.8 630.3,407.8" fill="#0000ff"/>
<polygon points="635.9,406.1 638.9,409.1 635.9,412.1 632.9,409.1" fill="#0000ff"/>
<polygon points="638.5,407.5 641.5,410.5 638.5,413.5 635.5,410.5" fill="#0000ff"/>
<polygon points="641.1,409 644.1,412 641.1,415 638.1,412" fill="#0000ff"/>
<polygon points="643.7,407.7 646.7,410.7 643.7,413.7 640.7,410.7" fill="#0000ff"/>
<polygon points="646.3,409.1 649.3,412.1 646.3,415.1 643.3,412.1" fill="#0000ff"/>
<polygon points="648.9,409.4 651.9,412.4 648.9,415.4 645.9,412.4" fill="#0000ff"/>
<polygon points="651.5,412.2 654.5,415.2 651.5,418.2 648.5,415.2" fill="#0000ff"/>
<polygon points="654.1,410.8 657.1,413.8 654.1,416.8 651.1,413.8" fill="#0000ff"/>
<polygon points="656.7,411.3 659.7,414.3 656.7,417.3 653.7,414.3" fill="#0000ff"/>
<polygon points="659.3,412.1 662.3,415.1 659.3,418.1 656.3,415.1" fill="#0000ff"/>
<polygon points="661.9,414 664.9,417 661.9,420 658.9,417" fill="#0000ff"/>
<polygon points="664.5,416.3 667.5,419.3 664.5,422.3 661.5,419.3" fill="#0000ff"/>
<polygon points="667.1,417.3 670.1,420.3 667.1,423.3 664.1,420.3" fill="#0000ff"/>
<polygon points="669.7,418 672.7,421 669.7,424 666.7,421" fill="#0000ff"/>
<polygon points="672.3,419.7 675.3,422.7 672.3,425.7 669.3,422.7" fill="#0000ff"/>
<polygon points="674.9,420.5 677.9,423.5 674.9,426.5 671.9,423.5" fill="#0000ff"/>
<polygon points="677.5,420 680.5,423 677.5,426 674.5,423" fill="#0000ff"/>
<polygon points="680.1,420.7 683.1,423.7 680.1,426.7 677.1,423.7" fill="#0000ff"/>
<polygon points="682.7,423.6 685.7,426.6 682.7,429.6 679.7,426.6" fill="#0000ff"/>
<polygon points="685.3,424.2 688.3,427.2 685.3,430.2 682.3,427.2" fill="#0000ff"/>
<polygon points="687.9,423.5 690.9,426.5 687.9,429.5 684.9,426.5" fill="#0000ff"/>
<polygon points="690.5,426.4 693.5,429.4 690.5,432.4 687.5,429.4" fill="#0000ff"/>
<polygon points="693.1,427 696.1,430 693.1,433 690.1,430" fill="#0000ff"/>
<polygon points="695.7,428.3 698.7,431.3 695.7,434.3 692.7,431.3" fill="#0000ff"/>
<polygon points="698.3,429.5 701.3,432.5 698.3,435.5 695.3,432.5" fill="#0000ff"/>
<polygon points="700.9,430.4 703.9,433.4 700.9,436.4 697.9,433.4" fill="#0000ff"/>
<polygon points="703.5,431.3 706.5,434.3 703.5,437.3 700.5,434.3" fill="#0000ff"/>
<polygon points="706.1,433.3 709.1,436.3 706.1,439.3 703.1,436.3" fill="#0000ff"/>
<polygon points="708.7,434.8 711.7,437.8 708.7,440.8 705.7,437.8" fill="#0000ff"/>
<polygon points="711.3,437.7 714.3,440.7 711.3,443.7 708.3,440.7" fill="#0000ff"/>
<polygon points="713.9,436.8 716.9,439.8 713.9,442.8 710.9,439.8" fill="#0000ff"/>
<polygon points="716.5,440.3 719.5,443.3 716.5,446.3 713.5,443.3" fill="#0000ff"/>
<polygon points="719.1,439.6 722.1,442.6 719.1,445.6 716.1,442.6" fill="#0000ff"/>
<polygon points="721.7,441.3 724.7,444.3 721.7,447.3 718.7,444.3" fill="#0000ff"/>
<polygon points="724.3,443.8 727.3,446.8 724.3,449.8 721.3,446.8" fill="#0000ff"/>
<polygon points="726.9,445.1 729.9,448.1 726.9,451.1 723.9,448.1" fill="#0000ff"/>
<polygon points="729.5,445.4 732.5,448.4 729.5,451.4 726.5,448.4" fill="#0000ff"/>
<polygon points="732.1,445.8 735.1,448.8 732.1,451.8 729.1,448.8" fill="#0000ff"/>
<polygon points="734.7,448.3 737.7,451.3 734.7,454.3 731.7,451.3" fill="#0000ff"/>
<polygon points="737.3,449.4 740.3,452.4 737.3,455.4 734.3,452.4" fill="#0000ff"/>
<polygon points="739.9,452.2 742.9,455.2 739.9,458.2 736.9,455.2" fill="#0000ff"/>
<polygon points="741.3,451.8 744.3,454.8 741.3,457.8 738.3,454.8" fill="#0000ff"/>
<polygon points="248.5,231.7 251.5,234.7 248.5,237.7 245.5,234.7" fill="#0000ff"/>
<polygon points="251.1,233.8 254.1,236.8 251.1,239.8 248.1,236.8" fill="#0000ff"/>
<polygon points="253.7,236.8 256.7,239.8 253.7,242.8 250.7,239.8" fill="#0000ff"/>
<polygon points="256.3,236.2 259.3,239.2 256.3,242.2 253.3,239.2" fill="#0000ff"/>
<polygon points="258.9,238.8 261.9,241.8 258.9,244.8 255.9,241.8" fill="#0000ff"/>
<polygon points="261.5,241.5 264.5,244.5 261.5,247.5 258.5,244.5" fill="#0000ff"/>
<polygon points="264.1,243.5 267.1,246.5 264.1,249.5 261.1,246.5" fill="#0000ff"/>
<polygon points="266.7,243.8 269.7,246.8 266.7,249.8 263.7,246.8" fill="#0000ff"/>
<polygon points="269.3,245.9 272.3,248.9 269.3,251.9 266.3,248.9" fill="#0000ff"/>
<polygon points="271.9,248.1 274.9,251.1 271.9,254.1 268.9,251.1" fill="#0000ff"/>
<polygon points="274.5,252.6 277.5,255.6 274.5,258.6 271.5,255.6" fill="#0000ff"/>
<polygon points="277.1,253.2 280.1,256.2 277.1,259.2 274.1,256.2" fill="#0000ff"/>
<polygon points="279.7,256.9 282.7,259.9 279.7,262.9 276.7,259.9" fill="#0000ff"/>
<polygon points="282.3,259.7 285.3,262.7 282.3,265.7 279.3,262.7" fill="#0000ff"/>
<polygon points="284.9,260.1 287.9,263.1 284.9,266.1 281.9,263.1" fill="#0000ff"/>
<polygon points="287.5,261.8 290.5,264.8 287.5,267.8 284.5,264.8" fill="#0000ff"/>
<polygon points="290.1,265.4 293.1,268.4 290.1,271.4 287.1,268.4" fill="#0000ff"/>
<polygon points="292.7,266.3 295.7,269.3 292.7,272.3 289.7,269.3" fill="#0000ff"/>
<polygon points="295.3,267.3 298.3,270.3 295.3,273.3 292.3,270.3" fill="#0000ff"/>
<polygon points="297.9,270.3 300.9,273.3 297.9,276.3 294.9,273.3" fill="#0000ff"/>
<polygon points="300.5,271.1 303.5,274.1 300.5,277.1 297.5,274.1" fill="#0000ff"/>
<polygon points="303.1,272.8 306.1,275.8 303.1,278.8 300.1,275.8" fill="#0000ff"/>
<polygon points="305.7,273.7 308.7,276.7 305.7,279.7 302.7,276.7" fill="#0000ff"/>
<polygon points="308.3,277.3 311.3,280.3 308.3,283.3 305.3,280.3" fill="#0000ff"/>
<polygon points="310.9,279.3 313.9,282.3 310.9,285.3 307.9,282.3" fill="#0000ff"/>
<polygon points="313.5,280.1 316.5,283.1 313.5,286.1 310.5,283.1" fill="#0000ff"/>
<polygon points="316.1,282.5 319.1,285.5 316.1,288.5 313.1,285.5" fill="#0000ff"/>
<polygon points="318.7,281.7 321.7,284.7 318.7,287.7 315.7,284.7" fill="#0000ff"/>
<polygon points="321.3,283.9 324.3,286.9 321.3,289.9 318.3,286.9" fill="#0000ff"/>
<polygon points="323.9,286.1 326.9,289.1 323.9,292.1 320.9,289.1" fill="#0000ff"/>
<polygon points="326.5,288.8 329.5,291.8 326.5,294.8 323.5,291.8" fill="#0000ff"/>
<polygon points="329.1,290.1 332.1,293.1 329.1,296.1 326.1,293.1" fill="#0000ff"/>
<polygon points="331.7,290 334.7,293 331.7,296 328.7,293" fill="#0000ff"/>
<polygon points="334.3,291 337.3,294 334.3,297 331.3,294" fill="#0000ff"/>
<polygon points="336.9,292.8 339.9,295.8 336.9,298.8 333.9,295.8" fill="#0000ff"/>
<polygon points="339.5,294.3 342.5,297.3 339.5,300.3 336.5,297.3" fill="#0000ff"/>
<polygon points="342.1,296.7 345.1,299.7 342.1,302.7 339.1,299.7" fill="#0000ff"/>
<polygon points="344.7,296.1 347.7,299.1 344.7,302.1 341.7,299.1" fill="#0000ff"/>
<polygon points="347.3,299.2 350.3,302.2 347.3,305.2 344.3,302.2" fill="#0000ff"/>
<polygon points="349.9,300.7 352.9,303.7 349.9,306.7 346.9,303.7" fill="#0000ff"/>
<polygon points="352.5,302.7 355.5,305.7 352.5,308.7 349.5,305.7" fill="#0000ff"/>
<polygon points="355.1,304.2 358.1,307.2 355.1,310.2 352.1,307.2" fill="#0000ff"/>
<polygon points="357.7,305.5 360.7,308.5 357.7,311.5 354.7,308.5" fill="#0000ff"/>
<polygon points="360.3,306.5 363.3,309.5 360.3,312.5 357.3,309.5" fill="#0000ff"/>
<polygon points="362.9,308.2 365.9,311.2 362.9,314.2 359.9,311.2" fill="#0000ff"/>
<polygon points="365.5,310 368.5,313 365.5,316 362.5,313" fill="#0000ff"/>
<polygon points="368.1,312.8 371.1,315.8 368.1,318.8 365.1,315.8" fill="#0000ff"/>
<polygon points="370.7,312.4 373.7,315.4 370.7,318.4 367.7,315.4" fill="#0000ff"/>
<polygon points="373.3,314.1 376.3,317.1 373.3,320.1 370.3,317.1" fill="#0000ff"/>
<polygon points="375.9,317 378.9,320 375.9,323 372.9,320" fill="#0000ff"/>
<polygon points="378.5,317.1 381.5,320.1 378.5,323.1 375.5,320.1" fill="#0000ff"/>
<polygon points="381.1,318 384.1,321 381.1,324 378.1,321" fill="#0000ff"/>
<polygon points="383.7,319.4 386.7,322.4 383.7,325.4 380.7,322.4" fill="#0000ff"/>
<polygon points="386.3,322.1 389.3,325.1 386.3,328.1 383.3,325.1" fill="#0000ff"/>
<polygon points="388.9,322.9 391.9,325.9 388.9,328.9 385.9,325.9" fill="#0000ff"/>
<polygon points="391.5,325.9 394.5,328.9 391.5,331.9 388.5,328.9" fill="#0000ff"/>
<polygon points="394.1,326.7 397.1,329.7 394.1,332.7 391.1,329.7" fill="#0000ff"/>
<polygon points="396.7,328.1 399.7,331.1 396.7,334.1 393.7,331.1" fill="#0000ff"/>
<polygon points="399.3,327.3 402.3,330.3 399.3,333.3 396.3,330.3" fill="#0000ff"/>
<polygon points="401.9,327.9 404.9,330.9 401.9,333.9 398.9,330.9" fill="#0000ff"/>
<polygon points="404.5,329 407.5,332 404.5,335 401.5,332" fill="#0000ff"/>
<polygon points="407.1,331.2 410.1,334.2 407.1,337.2 404.1,334.2" fill="#0000ff"/>
<polygon points="409.7,332.8 412.7,335.8 409.7,338.8 406.7,335.8" fill="#0000ff"/>
<polygon points="412.3,333.2 415.3,336.2 412.3,339.2 409.3,336.2" fill="#0000ff"/>
<polygon points="414.9,334.1 417.9,337.1 414.9,340.1 411.9,337.1" fill="#0000ff"/>
<polygon points="417.5,336.2 420.5,339.2 417.5,342.2 414.5,339.2" fill="#0000ff"/>
<polygon points="420.1,338.3 423.1,341.3 420.1,344.3 417.1,341.3" fill="#0000ff"/>
<polygon points="422.7,340 425.7,343 422.7,346 419.7,343" fill="#0000ff"/>
<polygon points="425.3,341.8 428.3,344.8 425.3,347.8 422.3,344.8" fill="#0000ff"/>
<polygon points="427.9,343.6 430.9,346.6 427.9,349.6 424.9,346.6" fill="#0000ff"/>
<polygon points="430.5,344.7 433.5,347.7 430.5,350.7 427.5,347.7" fill="#0000ff"/>
<polygon points="433.1,344.8 436.1,347.8 433.1,350.8 430.1,347.8" fill="#0000ff"/>
<polygon points="435.7,348.3 438.7,351.3 435.7,354.3 432.7,351.3" fill="#0000ff"/>
<polygon points="438.3,348.4 441.3,351.4 438.3,354.4 435.3,351.4" fill="#0000ff"/>
<polygon points="440.9,350.7 443.9,353.7 440.9,356.7 437.9,353.7" fill="#0000ff"/>
<polygon points="443.5,351.7 446.5,354.7 443.5,357.7 440.5,354.7" fill="#0000ff"/>
<polygon points="446.1,353.7 449.1,356.7 446.1,359.7 443.1,356.7" fill="#0000ff"/>
<polygon points="448.7,353.2 451.7,356.2 448.7,359.2 445.7,356.2" fill="#0000ff"/>
<polygon points="451.3,354.3 454.3,357.3 451.3,360.3 448.3,357.3" fill="#0000ff"/>
<polygon points="453.9,355.3 456.9,358.3 453.9,361.3 450.9,358.3" fill="#0000ff"/>
<polygon points="456.5,356 459.5,359 456.5,362 453.5,359" fill="#0000ff"/>
<polygon points="459.1,358.9 462.1,361.9 459.1,364.9 456.1,361.9" fill="#0000ff"/>
<polygon points="461.7,359.1 464.7,362.1 461.7,365.1 458.7,362.1" fill="#0000ff"/>
<polygon points="464.3,359.4 467.3,362.4 464.3,365.4 461.3,362.4" fill="#0000ff"/>
<polygon points="466.9,360.6 469.9,363.6 466.9,366.6 463.9,363.6" fill="#0000ff"/>
<polygon points="469.5,363.1 472.5,366.1 469.5,369.1 466.5,366.1" fill="#0000ff"/>
<polygon points="472.1,362.8 475.1,365.8 472.1,368.8 469.1,365.8" fill="#0000ff"/>
<polygon points="474.7,363.1 477.7,366.1 474.7,369.1 471.7,366.1" fill="#0000ff"/>
<polygon points="477.3,365.5 480.3,368.5 477.3,371.5 474.3,368.5" fill="#0000ff"/>
<polygon points="479.9,366.1 482.9,369.1 479.9,372.1 476.9,369.1" fill="#0000ff"/>
<polygon points="482.5,368 485.5,371 482.5,374 479.5,371" fill="#0000ff"/>
<polygon points="485.1,366.6 488.1,369.6 485.1,372.6 482.1,369.6" fill="#0000ff"/>
<polygon points="487.7,368.6 490.7,371.6 487.7,374.6 484.7,371.6" fill="#0000ff"/>
<polygon points="490.3,370.4 493.3,373.4 490.3,376.4 487.3,373.4" fill="#0000ff"/>
<polygon points="492.9,371.5 495.9,374.5 492.9,377.5 489.9,374.5" fill="#0000ff"/>
<polygon points="495.5,372.6 498.5,375.6 495.5,378.6 492.5,375.6" fill="#0000ff"/>
<polygon points="498.1,371.2 501.1,374.2 498.1,377.2 495.1,374.2" fill="#0000ff"/>
<polygon points="500.7,372.7 503.7,375.7 500.7,378.7 497.7,375.7" fill="#0000ff"/>
<polygon points="503.3,373 506.3,376 503.3,379 500.3,376" fill="#0000ff"/>
<polygon points="505.9,374 508.9,377 505.9,380 502.9,377" fill="#0000ff"/>
<polygon points="508.5,376.8 511.5,379.8 508.5,382.8 505.5,379.8" fill="#0000ff"/>
<polygon points="511.1,376.5 514.1,379.5 511.1,382.5 508.1,379.5" fill="#0000ff"/>
<polygon points="513.7,378.2 516.7,381.2 513.7,384.2 510.7,381.2" fill="#0000ff"/>
<polygon points="516.3,377.6 519.3,380.6 516.3,383.6 513.3,380.6" fill="#0000ff"/>
<polygon points="518.9,379.6 521.9,382.6 518.9,385.6 515.9,382.6" fill="#0000ff"/>
<polygon points="521.5,379.3 524.5,382.3 521.5,385.3 518.5,382.3" fill="#0000ff"/>
<polygon points="524.1,379.6 527.1,382.6 524.1,385.6 521.1,382.6" fill="#0000ff"/>
<polygon points="526.7,381.7 529.7,384.7 526.7,387.7 523.7,384.7" fill="#0000ff"/>
<polygon points="529.3,383 532.3,386 529.3,389 526.3,386" fill="#0000ff"/>
<polygon points="531.9,381.6 534.9,384.6 531.9,387.6 528.9,384.6" fill="#0000ff"/>
<polygon points="534.5,383.6 537.5,386.6 534.5,389.6 531.5,386.6" fill="#0000ff"/>
<polygon points="537.1,384.4 540.1,387.4 537.1,390.4 534.1,387.4" fill="#0000ff"/>
<polygon points="539.7,384.2 542.7,387.2 539.7,390.2 536.7,387.2" fill="#0000ff"/>
<polygon points="542.3,385.4 545.3,388.4 542.3,391.4 539.3,388.4" fill="#0000ff"/>
<polygon points="544.9,385.5 547.9,388.5 544.9,391.5 541.9,388.5" fill="#0000ff"/>
<polygon points="547.5,386.5 550.5,389.5 547.5,392.5 544.5,389.5" fill="#0000ff"/>
<polygon points="550.1,387.4 553.1,390.4 550.1,393.4 547.1,390.4" fill="#0000ff"/>
<polygon points="552.7,389 555.7,392 552.7,395 549.7,392" fill="#0000ff"/>
<polygon points="555.3,389.8 558.3,392.8 555.3,395.8 552.3,392.8" fill="#0000ff"/>
<polygon points="557.9,389.3 560.9,392.3 557.9,395.3 554.9,392.3" fill="#0000ff"/>
<polygon points="560.5,389.5 563.5,392.5 560.5,395.5 557.5,392.5" fill="#0000ff"/>
<polygon points="563.1,391 566.1,394 563.1,397 560.1,394" fill="#0000ff"/>
<polygon points="565.7,392.6 568.7,395.6 565.7,398.6 562.7,395.6" fill="#0000ff"/>
<polygon points="568.3,392 571.3,395 568.3,398 565.3,395" fill="#0000ff"/>
<polygon points="570.9,393 573.9,396 570.9,399 567.9,396" fill="#0000ff"/>
<polygon points="573.5,393.4 576.5,396.4 573.5,399.4 570.5,396.4" fill="#0000ff"/>
<polygon points="576.1,395.6 579.1,398.6 576.1,401.6 573.1,398.6" fill="#0000ff"/>
<polygon points="578.7,395.5 581.7,398.5 578.7,401.5 575.7,398.5" fill="#0000ff"/>
<polygon points="581.3,394.8 584.3,397.8 581.3,400.8 578.3,397.8" fill="#0000ff"/>
<polygon points="583.9,395.4 586.9,398.4 583.9,401.4 580.9,398.4" fill="#0000ff"/>
<polygon points="586.5,396.7 589.5,399.7 586.5,402.7 583.5,399.7" fill="#0000ff"/>
<polygon points="589.1,397.6 592.1,400.6 589.1,403.6 586.1,400.6" fill="#0000ff"/>
<polygon points="591.7,398.4 594.7,401.4 591.7,404.4 588.7,401.4" fill="#0000ff"/>
<polygon points="594.3,397.5 597.3,400.5 594.3,403.5 591.3,400.5" fill="#0000ff"/>
<polygon points="596.9,398.2 599.9,401.2 596.9,404.2 593.9,401.2" fill="#0000ff"/>
<polygon points="599.5,400.1 602.5,403.1 599.5,406.1 596.5,403.1" fill="#0000ff"/>
<polygon points="602.1,399.8 605.1,402.8 602.1,405.8 599.1,402.8" fill="#0000ff"/>
<polygon points="604.7,400 607.7,403 604.7,406 601.7,403" fill="#0000ff"/>
<polygon points="607.3,400.7 610.3,403.7 607.3,406.7 604.3,403.7" fill="#0000ff"/>
<polygon points="609.9,403 612.9,406 609.9,409 606.9,406" fill="#0000ff"/>
<polygon points="612.5,402 615.5,405 612.5,408 609.5,405" fill="#0000ff"/>
<polygon points="615.1,403.3 618.1,406.3 615.1,409.3 612.1,406.3" fill="#0000ff"/>
<polygon points="617.7,403.4 620.7,406.4 617.7,409.4 614.7,406.4" fill="#0000ff"/>
<polygon points="620.3,404.2 623.3,407.2 620.3,410.2 617.3,407.2" fill="#0000ff"/>
<polygon points="622.9,406 625.9,409 622.9,412 619.9,409" fill="#0000ff"/>
<polygon points="625.5,407 628.5,410 625.5,413 622.5,410" fill="#0000ff"/>
<polygon points="628.1,406 631.1,409 628.1,412 625.1,409" fill="#0000ff"/>
<polygon points="630.7,406.3 633.7,409.3 630.7,412.3 627.7,409.3" fill="#0000ff"/>
<polygon points="633.3,408.3 636.3,411.3 633.3,414.3 630.3,411.3" fill="#0000ff"/>
<polygon points="635.9,407.7 638.9,410.7 635.9,413.7 632.9,410.7" fill="#0000ff"/>
<polygon points="638.5,408 641.5,411 638.5,414 635.5,411" fill="#0000ff"/>
<polygon points="641.1,411.1 644.1,414.1 641.1,417.1 638.1,414.1" fill="#0000ff"/>
<polygon points="643.7,410.6 646.7,413.6 643.7,416.6 640.7,413.6" fill="#0000ff"/>
<polygon points="646.3,412.4 649.3,415.4 646.3,418.4 643.3,415.4" fill="#0000ff"/>
<polygon points="648.9,412.1 651.9,415.1 648.9,418.1 645.9,415.1" fill="#0000ff"/>
<polygon points="651.5,414.1 654.5,417.1 651.5,420.1 648.5,417.1" fill="#0000ff"/>
<polygon points="654.1,413.8 657.1,416.8 654.1,419.8 651.1,416.8" fill="#0000ff"/>
<polygon points="656.7,413.8 659.7,416.8 656.7,419.8 653.7,416.8" fill="#0000ff"/>
<polygon points="659.3,414.2 662.3,417.2 659.3,420.2 656.3,417.2" fill="#0000ff"/>
<polygon points="661.9,416.6 664.9,419.6 661.9,422.6 658.9,419.6" fill="#0000ff"/>
<polygon points="664.5,417.9 667.5,420.9 664.5,423.9 661.5,420.9" fill="#0000ff"/>
<polygon points="667.1,419.6 670.1,422.6 667.1,425.6 664.1,422.6" fill="#0000ff"/>
<polygon points="669.7,418.5 672.7,421.5 669.7,424.5 666.7,421.5" fill="#0000ff"/>
<polygon points="672.3,420.9 675.3,423.9 672.3,426.9 669.3,423.9" fill="#0000ff"/>
<polygon points="674.9,421.3 677.9,424.3 674.9,427.3 671.9,424.3" fill="#0000ff"/>
<polygon points="677.5,422.7 680.5,425.7 677.5,428.7 674.5,425.7" fill="#0000ff"/>
<polygon points="680.1,422.8 683.1,425.8 680.1,428.8 677.1,425.8" fill="#0000ff"/>
<polygon points="682.7,424.1 685.7,427.1 682.7,430.1 679.7,427.1" fill="#0000ff"/>
<polygon points="685.3,425.8 688.3,428.8 685.3,431.8 682.3,428.8" fill="#0000ff"/>
<polygon points="687.9,428 690.9,431 687.9,434 684.9,431" fill="#0000ff"/>
<polygon points="690.5,427.2 693.5,430.2 690.5,433.2 687.5,430.2" fill="#0000ff"/>
<polygon points="693.1,429.5 696.1,432.5 693.1,435.5 690.1,432.5" fill="#0000ff"/>
<polygon points="695.7,431.6 698.7,434.6 695.7,437.6 692.7,434.6" fill="#0000ff"/>
<polygon points="698.3,433.4 701.3,436.4 698.3,439.4 695.3,436.4" fill="#0000ff"/>
<polygon points="700.9,432.7 703.9,435.7 700.9,438.7 697.9,435.7" fill="#0000ff"/>
<polygon points="703.5,433.8 706.5,436.8 703.5,439.8 700.5,436.8" fill="#0000ff"/>
<polygon points="706.1,437.2 709.1,440.2 706.1,443.2 703.1,440.2" fill="#0000ff"/>
<polygon points="708.7,438.6 711.7,441.6 708.7,444.6 705.7,441.6" fill="#0000ff"/>
<polygon points="711.3,438.6 714.3,441.6 711.3,444.6 708.3,441.6" fill="#0000ff"/>
<polygon points="713.9,438.8 716.9,441.8 713.9,444.8 710.9,441.8" fill="#0000ff"/>
<polygon points="716.5,442.4 719.5,445.4 716.5,448.4 713.5,445.4" fill="#0000ff"/>
<polygon points="719.1,442.3 722.1,445.3 719.1,448.3 716.1,445.3" fill="#0000ff"/>
<polygon points="721.7,445 724.7,448 721.7,451 718.7,448" fill="#0000ff"/>
<polygon points="724.3,445.5 727.3,448.5 724.3,451.5 721.3,448.5" fill="#0000ff"/>
<polygon points="726.9,447.3 729.9,450.3 726.9,453.3 723.9,450.3" fill="#0000ff"/>
<polygon points="729.5,446.9 732.5,449.9 729.5,452.9 726.5,449.9" fill="#0000ff"/>
<polygon points="732.1,449.9 735.1,452.9 732.1,455.9 729.1,452.9" fill="#0000ff"/>
<polygon points="734.7,449.8 737.7,452.8 734.7,455.8 731.7,452.8" fill="#0000ff"/>
<polygon points="737.3,451.7 740.3,454.7 737.3,457.7 734.3,454.7" fill="#0000ff"/>
<polygon points="739.9,454.2 742.9,457.2 739.9,460.2 736.9,457.2" fill="#0000ff"/>
<polygon points="741.3,454 744.3,457 741.3,460 738.3,457" fill="#0000ff"/>
<polygon points="248.5,235.6 251.5,238.6 248.5,241.6 245.5,238.6" fill="#0000ff"/>
<polygon points="251.1,235.5 254.1,238.5 251.1,241.5 248.1,238.5" fill="#0000ff"/>
<polygon points="253.7,237.2 256.7,240.2 253.7,243.2 250.7,240.2" fill="#0000ff"/>
<polygon points="256.3,239.3 259.3,242.3 256.3,245.3 253.3,242.3" fill="#0000ff"/>
<polygon points="258.9,241.2 261.9,244.2 258.9,247.2 255.9,244.2" fill="#0000ff"/>
<polygon points="261.5,242.6 264.5,245.6 261.5,248.6 258.5,245.6" fill="#0000ff"/>
<polygon points="264.1,244 267.1,247 264.1,250 261.1,247" fill="#0000ff"/>
<polygon points="266.7,246.5 269.7,249.5 266.7,252.5 263.7,249.5" fill="#0000ff"/>
<polygon points="269.3,249.9 272.3,252.9 269.3,255.9 266.3,252.9" fill="#0000ff"/>
<polygon points="271.9,252.5 274.9,255.5 271.9,258.5 268.9,255.5" fill="#0000ff"/>
<polygon points="274.5,252.5 277.5,255.5 274.5,258.5 271.5,255.5" fill="#0000ff"/>
<polygon points="277.1,256.2 280.1,259.2 277.1,262.2 274.1,259.2" fill="#0000ff"/>
<polygon points="279.7,259.1 282.7,262.1 279.7,265.1 276.7,262.1" fill="#0000ff"/>
<polygon points="282.3,259.6 285.3,262.6 282.3,265.6 279.3,262.6" fill="#0000ff"/>
<polygon points="284.9,263.6 287.9,266.6 284.9,269.6 281.9,266.6" fill="#0000ff"/>
<polygon points="287.5,263.6 290.5,266.6 287.5,269.6 284.5,266.6" fill="#0000ff"/>
<polygon points="290.1,266.7 293.1,269.7 290.1,272.7 287.1,269.7" fill="#0000ff"/>
<polygon points="292.7,268.4 295.7,271.4 292.7,274.4 289.7,271.4" fill="#0000ff"/>
<polygon points="295.3,270.4 298.3,273.4 295.3,276.4 292.3,273.4" fill="#0000ff"/>
<polygon points="297.9,271.4 300.9,274.4 297.9,277.4 294.9,274.4" fill="#0000ff"/>
<polygon points="300.5,273.5 303.5,276.5 300.5,279.5 297.5,276.5" fill="#0000ff"/>
<polygon points="303.1,275.8 306.1,278.8 303.1,281.8 300.1,278.8" fill="#0000ff"/>
<polygon points="305.7,277 308.7,280 305.7,283 302.7,280" fill="#0000ff"/>
<polygon points="308.3,279.2 311.3,282.2 308.3,285.2 305.3,282.2" fill="#0000ff"/>
<polygon points="310.9,280.3 313.9,283.3 310.9,286.3 307.9,283.3" fill="#0000ff"/>
<polygon points="313.5,281.8 316.5,284.8 313.5,287.8 310.5,284.8" fill="#0000ff"/>
<polygon points="316.1,282.3 319.1,285.3 316.1,288.3 313.1,285.3" fill="#0000ff"/>
<polygon points="318.7,285.5 321.7,288.5 318.7,291.5 315.7,288.5" fill="#0000ff"/>
<polygon points="321.3,286.7 324.3,289.7 321.3,292.7 318.3,289.7" fill="#0000ff"/>
<polygon points="323.9,287.7 326.9,290.7 323.9,293.7 320.9,290.7" fill="#0000ff"/>
<polygon points="326.5,290.5 329.5,293.5 326.5,296.5 323.5,293.5" fill="#0000ff"/>
<polygon points="329.1,291.9 332.1,294.9 329.1,297.9 326.1,294.9" fill="#0000ff"/>
<polygon points="331.7,292.4 334.7,295.4 331.7,298.4 328.7,295.4" fill="#0000ff"/>
<polygon points="334.3,293 337.3,296 334.3,299 331.3,296" fill="#0000ff"/>
<polygon points="336.9,295.1 339.9,298.1 336.9,301.1 333.9,298.1" fill="#0000ff"/>
<polygon points="339.5,295.5 342.5,298.5 339.5,301.5 336.5,298.5" fill="#0000ff"/>
<polygon points="342.1,296.9 345.1,299.9 342.1,302.9 339.1,299.9" fill="#0000ff"/>
<polygon points="344.7,299 347.7,302 344.7,305 341.7,302" fill="#0000ff"/>
<polygon points="347.3,299.5 350.3,302.5 347.3,305.5 344.3,302.5" fill="#0000ff"/>
<polygon points="349.9,302.2 352.9,305.2 349.9,308.2 346.9,305.2" fill="#0000ff"/>
<polygon points="352.5,304 355.5,307 352.5,310 349.5,307" fill="#0000ff"/>
<polygon points="355.1,304.5 358.1,307.5 355.1,310.5 352.1,307.5" fill="#0000ff"/>
<polygon points="357.7,307.8 360.7,310.8 357.7,313.8 354.7,310.8" fill="#0000ff"/>
<polygon points="360.3,308.1 363.3,311.1 360.3,314.1 357.3,311.1" fill="#0000ff"/>
<polygon points="362.9,311.5 365.9,314.5 362.9,317.5 359.9,314.5" fill="#0000ff"/>
<polygon points="365.5,313.3 368.5,316.3 365.5,319.3 362.5,316.3" fill="#0000ff"/>
<polygon points="368.1,314.3 371.1,317.3 368.1,320.3 365.1,317.3" fill="#0000ff"/>
<polygon points="370.7,314.5 373.7,317.5 370.7,320.5 367.7,317.5" fill="#0000ff"/>
<polygon points="373.3,317.1 376.3,320.1 373.3,323.1 370.3,320.1" fill="#0000ff"/>
<polygon points="375.9,318.2 378.9,321.2 375.9,324.2 372.9,321.2" fill="#0000ff"/>
<polygon points="378.5,321.1 381.5,324.1 378.5,327.1 375.5,324.1" fill="#0000ff"/>
<polygon points="381.1,320.4 384.1,323.4 381.1,326.4 378.1,323.4" fill="#0000ff"/>
<polygon points="383.7,323.7 386.7,326.7 383.7,329.7 380.7,326.7" fill="#0000ff"/>
<polygon points="386.3,325.5 389.3,328.5 386.3,331.5 383.3,328.5" fill="#0000ff"/>
<polygon points="388.9,326.2 391.9,329.2 388.9,332.2 385.9,329.2" fill="#0000ff"/>
<polygon points="391.5,327.6 394.5,330.6 391.5,333.6 388.5,330.6" fill="#0000ff"/>
<polygon points="394.1,327.1 397.1,330.1 394.1,333.1 391.1,330.1" fill="#0000ff"/>
<polygon points="396.7,330.3 399.7,333.3 396.7,336.3 393.7,333.3" fill="#0000ff"/>
<polygon points="399.3,330.1 402.3,333.1 399.3,336.1 396.3,333.1" fill="#0000ff"/>
<polygon points="401.9,332.4 404.9,335.4 401.9,338.4 398.9,335.4" fill="#0000ff"/>
<polygon points="404.5,333.3 407.5,336.3 404.5,339.3 401.5,336.3" fill="#0000ff"/>
<polygon points="407.1,332.5 410.1,335.5 407.1,338.5 404.1,335.5" fill="#0000ff"/>
<polygon points="409.7,335.2 412.7,338.2 409.7,341.2 406.7,338.2" fill="#0000ff"/>
<polygon points="412.3,336.7 415.3,339.7 412.3,342.7 409.3,339.7" fill="#0000ff"/>
<polygon points="414.9,335.9 417.9,338.9 414.9,341.9 411.9,338.9" fill="#0000ff"/>
<polygon points="417.5,338.2 420.5,341.2 417.5,344.2 414.5,341.2" fill="#0000ff"/>
<polygon points="420.1,340.8 423.1,343.8 420.1,346.8 417.1,343.8" fill="#0000ff"/>
<polygon points="422.7,340.9 425.7,343.9 422.7,346.9 419.7,343.9" fill="#0000ff"/>
<polygon points="425.3,344.3 428.3,347.3 425.3,350.3 422.3,347.3" fill="#0000ff"/>
<polygon points="427.9,344.3 430.9,347.3 427.9,350.3 424.9,347.3" fill="#0000ff"/>
<polygon points="430.5,347.3 433.5,350.3 430.5,353.3 427.5,350.3" fill="#0000ff"/>
<polygon points="433.1,347.1 436.1,350.1 433.1,353.1 430.1,350.1" fill="#0000ff"/>
<polygon points="435.7,349.6 438.7,352.6 435.7,355.6 432.7,352.6" fill="#0000ff"/>
<polygon points="438.3,352.3 441.3,355.3 438.3,358.3 435.3,355.3" fill="#0000ff"/>
<polygon points="440.9,352 443.9,355 440.9,358 437.9,355" fill="#0000ff"/>
<polygon points="443.5,353.7 446.5,356.7 443.5,359.7 440.5,356.7" fill="#0000ff"/>
<polygon points="446.1,355.3 449.1,358.3 446.1,361.3 443.1,358.3" fill="#0000ff"/>
<polygon points="448.7,355.8 451.7,358.8 448.7,361.8 445.7,358.8" fill="#0000ff"/>
<polygon points="451.3,356 454.3,359 451.3,362 448.3,359" fill="#0000ff"/>
<polygon points="453.9,357.3 456.9,360.3 453.9,363.3 450.9,360.3" fill="#0000ff"/>
<polygon points="456.5,358.3 459.5,361.3 456.5,364.3 453.5,361.3" fill="#0000ff"/>
<polygon points="459.1,361.3 462.1,364.3 459.1,367.3 456.1,364.3" fill="#0000ff"/>
<polygon points="461.7,361.6 464.7,364.6 461.7,367.6 458.7,364.6" fill="#0000ff"/>
<polygon points="464.3,363.1 467.3,366.1 464.3,369.1 461.3,366.1" fill="#0000ff"/>
<polygon points="466.9,362.2 469.9,365.2 466.9,368.2 463.9,365.2" fill="#0000ff"/>
<polygon points="469.5,364.8 472.5,367.8 469.5,370.8 466.5,367.8" fill="#0000ff"/>
<polygon points="472.1,364 475.1,367 472.1,370 469.1,367" fill="#0000ff"/>
<polygon points="474.7,366 477.7,369 474.7,372 471.7,369" fill="#0000ff"/>
<polygon points="477.3,367.3 480.3,370.3 477.3,373.3 474.3,370.3" fill="#0000ff"/>
<polygon points="479.9,367.5 482.9,370.5 479.9,373.5 476.9,370.5" fill="#0000ff"/>
<polygon points="482.5,369.9 485.5,372.9 482.5,375.9 479.5,372.9" fill="#0000ff"/>
<polygon points="485.1,370 488.1,373 485.1,376 482.1,373" fill="#0000ff"/>
<polygon points="487.7,371 490.7,374 487.7,377 484.7,374" fill="#0000ff"/>
<polygon points="490.3,372.8 493.3,375.8 490.3,378.8 487.3,375.8" fill="#0000ff"/>
<polygon points="492.9,371.7 495.9,374.7 492.9,377.7 489.9,374.7" fill="#0000ff"/>
<polygon points="495.5,375 498.5,378 495.5,381 492.5,378" fill="#0000ff"/>
<polygon points="498.1,375 501.1,378 498.1,381 495.1,378" fill="#0000ff"/>
<polygon points="500.7,375.1 503.7,378.1 500.7,381.1 497.7,378.1" fill="#0000ff"/>
<polygon points="503.3,377 506.3,380 503.3,383 500.3,380" fill="#0000ff"/>
<polygon points="505.9,376.4 508.9,379.4 505.9,382.4 502.9,379.4" fill="#0000ff"/>
<polygon points="508.5,379 511.5,382 508.5,385 505.5,382" fill="#0000ff"/>
<polygon points="511.1,378.7 514.1,381.7 511.1,384.7 508.1,381.7" fill="#0000ff"/>
<polygon points="513.7,378.9 516.7,381.9 513.7,384.9 510.7,381.9" fill="#0000ff"/>
<polygon points="516.3,380.8 519.3,383.8 516.3,386.8 513.3,383.8" fill="#0000ff"/>
<polygon points="518.9,380.7 521.9,383.7 518.9,386.7 515.9,383.7" fill="#0000ff"/>
<polygon points="521.5,380.8 524.5,383.8 521.5,386.8 518.5,383.8" fill="#0000ff"/>
<polygon points="524.1,383.1 527.1,386.1 524.1,389.1 521.1,386.1" fill="#0000ff"/>
<polygon points="526.7,382 529.7,385 526.7,388 523.7,385" fill="#0000ff"/>
<polygon points="529.3,384.8 532.3,387.8 529.3,390.8 526.3,387.8" fill="#0000ff"/>
<polygon points="531.9,384.1 534.9,387.1 531.9,390.1 528.9,387.1" fill="#0000ff"/>
<polygon points="534.5,385.9 537.5,388.9 534.5,391.9 531.5,388.9" fill="#0000ff"/>
<polygon points="537.1,387.6 540.1,390.6 537.1,393.6 534.1,390.6" fill="#0000ff"/>
<polygon points="539.7,387.3 542.7,390.3 539.7,393.3 536.7,390.3" fill="#0000ff"/>
<polygon points="542.3,388.3 545.3,391.3 542.3,394.3 539.3,391.3" fill="#0000ff"/>
<polygon points="544.9,388.2 547.9,391.2 544.9,394.2 541.9,391.2" fill="#0000ff"/>
<polygon points="547.5,388.2 550.5,391.2 547.5,394.2 544.5,391.2" fill="#0000ff"/>
<polygon points="550.1,389 553.1,392 550.1,395 547.1,392" fill="#0000ff"/>
<polygon points="552.7,390 555.7,393 552.7,396 549.7,393" fill="#0000ff"/>
<polygon points="555.3,391.9 558.3,394.9 555.3,397.9 552.3,394.9" fill="#0000ff"/>
<polygon points="557.9,392.1 560.9,395.1 557.9,398.1 554.9,395.1" fill="#0000ff"/>
<polygon points="560.5,393 563.5,396 560.5,399 557.5,396" fill="#0000ff"/>
<polygon points="563.1,394.7 566.1,397.7 563.1,400.7 560.1,397.7" fill="#0000ff"/>
<polygon points="565.7,393.4 568.7,396.4 565.7,399.4 562.7,396.4" fill="#0000ff"/>
<polygon points="568.3,394.3 571.3,397.3 568.3,400.3 565.3,397.3" fill="#0000ff"/>
<polygon points="570.9,396.1 573.9,399.1 570.9,402.1 567.9,399.1" fill="#0000ff"/>
<polygon points="573.5,395.1 576.5,398.1 573.5,401.1 570.5,398.1" fill="#0000ff"/>
<polygon points="576.1,395.7 579.1,398.7 576.1,401.7 573.1,398.7" fill="#0000ff"/>
<polygon points="578.7,397.2 581.7,400.2 578.7,403.2 575.7,400.2" fill="#0000ff"/>
<polygon points="581.3,397.1 584.3,400.1 581.3,403.1 578.3,400.1" fill="#0000ff"/>
<polygon points="583.9,398.3 586.9,401.3 583.9,404.3 580.9,401.3" fill="#0000ff"/>
<polygon points="586.5,398.4 589.5,401.4 586.5,404.4 583.5,401.4" fill="#0000ff"/>
<polygon points="589.1,399.9 592.1,402.9 589.1,405.9 586.1,402.9" fill="#0000ff"/>
<polygon points="591.7,400.4 594.7,403.4 591.7,406.4 588.7,403.4" fill="#0000ff"/>
<polygon points="594.3,400 597.3,403 594.3,406 591.3,403" fill="#0000ff"/>
<polygon points="596.9,401.6 599.9,404.6 596.9,407.6 593.9,404.6" fill="#0000ff"/>
<polygon points="599.5,401.7 602.5,404.7 599.5,407.7 596.5,404.7" fill="#0000ff"/>
<polygon points="602.1,401.3 605.1,404.3 602.1,407.3 599.1,404.3" fill="#0000ff"/>
<polygon points="604.7,403.9 607.7,406.9 604.7,409.9 601.7,406.9" fill="#0000ff"/>
<polygon points="607.3,402.7 610.3,405.7 607.3,408.7 604.3,405.7" fill="#0000ff"/>
<polygon points="609.9,403.1 612.9,406.1 609.9,409.1 606.9,406.1" fill="#0000ff"/>
<polygon points="612.5,403.6 615.5,406.6 612.5,409.6 609.5,406.6" fill="#0000ff"/>
<polygon points="615.1,405.7 618.1,408.7 615.1,411.7 612.1,408.7" fill="#0000ff"/>
<polygon points="617.7,406.9 620.7,409.9 617.7,412.9 614.7,409.9" fill="#0000ff"/>
<polygon points="620.3,407.4 623.3,410.4 620.3,413.4 617.3,410.4" fill="#0000ff"/>
<polygon points="622.9,407 625.9,410 622.9,413 619.9,410" fill="#0000ff"/>
<polygon points="625.5,407.3 628.5,410.3 625.5,413.3 622.5,410.3" fill="#0000ff"/>
<polygon points="628.1,407.3 631.1,410.3 628.1,413.3 625.1,410.3" fill="#0000ff"/>
<polygon points="630.7,409.6 633.7,412.6 630.7,415.6 627.7,412.6" fill="#0000ff"/>
<polygon points="633.3,410.1 636.3,413.1 633.3,416.1 630.3,413.1" fill="#0000ff"/>
<polygon points="635.9,410.3 638.9,413.3 635.9,416.3 632.9,413.3" fill="#0000ff"/>
<polygon points="638.5,411.8 641.5,414.8 638.5,417.8 635.5,414.8" fill="#0000ff"/>
<polygon points="641.1,412.1 644.1,415.1 641.1,418.1 638.1,415.1" fill="#0000ff"/>
<polygon points="643.7,414.2 646.7,417.2 643.7,420.2 640.7,417.2" fill="#0000ff"/>
<polygon points="646.3,414.4 649.3,417.4 646.3,420.4 643.3,417.4" fill="#0000ff"/>
<polygon points="648.9,413.9 651.9,416.9 648.9,419.9 645.9,416.9" fill="#0000ff"/>
<polygon points="651.5,416.4 654.5,419.4 651.5,422.4 648.5,419.4" fill="#0000ff"/>
<polygon points="654.1,414.9 657.1,417.9 654.1,420.9 651.1,417.9" fill="#0000ff"/>
<polygon points="656.7,417 659.7,420 656.7,423 653.7,420" fill="#0000ff"/>
<polygon points="659.3,417.4 662.3,420.4 659.3,423.4 656.3,420.4" fill="#0000ff"/>
<polygon points="661.9,418 664.9,421 661.9,424 658.9,421" fill="#0000ff"/>
<polygon points="664.5,418.5 667.5,421.5 664.5,424.5 661.5,421.5" fill="#0000ff"/>
<polygon points="667.1,421.4 670.1,424.4 667.1,427.4 664.1,424.4" fill="#0000ff"/>
<polygon points="669.7,420.5 672.7,423.5 669.7,426.5 666.7,423.5" fill="#0000ff"/>
<polygon points="672.3,422.9 675.3,425.9 672.3,428.9 669.3,425.9" fill="#0000ff"/>
<polygon points="674.9,425 677.9,428 674.9,431 671.9,428" fill="#0000ff"/>
<polygon points="677.5,423.9 680.5,426.9 677.5,429.9 674.5,426.9" fill="#0000ff"/>
<polygon points="680.1,425.1 683.1,428.1 680.1,431.1 677.1,428.1" fill="#0000ff"/>
<polygon points="682.7,427.2 685.7,430.2 682.7,433.2 679.7,430.2" fill="#0000ff"/>
<polygon points="685.3,428 688.3,431 685.3,434 682.3,431" fill="#0000ff"/>
<polygon points="687.9,429.5 690.9,432.5 687.9,435.5 684.9,432.5" fill="#0000ff"/>
<polygon points="690.5,431.2 693.5,434.2 690.5,437.2 687.5,434.2" fill="#0000ff"/>
<polygon points="693.1,430.9 696.1,433.9 693.1,436.9 690.1,433.9" fill="#0000ff"/>
<polygon points="695.7,432.5 698.7,435.5 695.7,438.5 692.7,435.5" fill="#0000ff"/>
<polygon points="698.3,433.8 701.3,436.8 698.3,439.8 695.3,436.8" fill="#0000ff"/>
<polygon points="700.9,434.5 703.9,437.5 700.9,440.5 697.9,437.5" fill="#0000ff"/>
<polygon points="703.5,438 706.5,441 703.5,444 700.5,441" fill="#0000ff"/>
<polygon points="706.1,439 709.1,442 706.1,445 703.1,442" fill="#0000ff"/>
<polygon points="708.7,440.1 711.7,443.1 708.7,446.1 705.7,443.1" fill="#0000ff"/>
<polygon points="711.3,439.6 714.3,442.6 711.3,445.6 708.3,442.6" fill="#0000ff"/>
<polygon points="713.9,443.1 716.9,446.1 713.9,449.1 710.9,446.1" fill="#0000ff"/>
<polygon points="716.5,444.1 719.5,447.1 716.5,450.1 713.5,447.1" fill="#0000ff"/>
<polygon points="719.1,444.7 722.1,447.7 719.1,450.7 716.1,447.7" fill="#0000ff"/>
<polygon points="721.7,446.7 724.7,449.7 721.7,452.7 718.7,449.7" fill="#0000ff"/>
<polygon points="724.3,447.3 727.3,450.3 724.3,453.3 721.3,450.3" fill="#0000ff"/>
<polygon points="726.9,448 729.9,451 726.9,454 723.9,451" fill="#0000ff"/>
<polygon points="729.5,449 732.5,452 729.5,455 726.5,452" fill="#0000ff"/>
<polygon points="732.1,450.7 735.1,453.7 732.1,456.7 729.1,453.7" fill="#0000ff"/>
<polygon points="734.7,451.5 737.7,454.5 734.7,457.5 731.7,454.5" fill="#0000ff"/>
<polygon points="737.3,453.7 740.3,456.7 737.3,459.7 734.3,456.7" fill="#0000ff"/>
<polygon points="739.9,456.1 742.9,459.1 739.9,462.1 736.9,459.1" fill="#0000ff"/>
<polygon points="741.3,456.2 744.3,459.2 741.3,462.2 738.3,459.2" fill="#0000ff"/>
<polyline points="248.5,228.3 261.3,237.8 282.7,254.8 304,267.3 325.3,280.3 346.7,291.3 368,302.3 390,313.3 412.7,322.8 443.3,335.8 470,343.8 496.7,350.5 523.3,358.5 550,366.5 576.7,371.8 606.7,383.1 633.3,394.8 660,405.8 686.7,419.3 713.3,434.8 729.3,444.3 741.3,453.8" fill="none" stroke="#0000ff" stroke-width="0.8" stroke-linejoin="round"/>
<polyline points="248.5,231.3 261.3,240.8 282.7,257.8 304,270.3 325.3,283.3 346.7,294.3 368,305.3 390,316.3 412.7,325.8 443.3,338.8 470,346.8 496.7,353.5 523.3,361.5 550,369.5 576.7,374.8 606.7,386.1 633.3,397.8 660,408.8 686.7,422.3 713.3,437.8 729.3,447.3 741.3,456.8" fill="none" stroke="#0000ff" stroke-width="0.8" stroke-linejoin="round"/>
<circle cx="248.5" cy="228.6" r="2.4" fill="#fff" stroke="#0000ff" stroke-width="0.8"/>
<circle cx="253.7" cy="232.7" r="2.4" fill="#fff" stroke="#0000ff" stroke-width="0.8"/>
<circle cx="258.9" cy="236.4" r="2.4" fill="#fff" stroke="#0000ff" stroke-width="0.8"/>
<circle cx="264.1" cy="239.6" r="2.4" fill="#fff" stroke="#0000ff" stroke-width="0.8"/>
<circle cx="269.3" cy="244.2" r="2.4" fill="#fff" stroke="#0000ff" stroke-width="0.8"/>
<circle cx="274.5" cy="248.2" r="2.4" fill="#fff" stroke="#0000ff" stroke-width="0.8"/>
<circle cx="279.7" cy="252.9" r="2.4" fill="#fff" stroke="#0000ff" stroke-width="0.8"/>
<circle cx="284.9" cy="256.1" r="2.4" fill="#fff" stroke="#0000ff" stroke-width="0.8"/>
<circle cx="290.1" cy="258.8" r="2.4" fill="#fff" stroke="#0000ff" stroke-width="0.8"/>
<circle cx="295.3" cy="262.4" r="2.4" fill="#fff" stroke="#0000ff" stroke-width="0.8"/>
<circle cx="300.5" cy="266" r="2.4" fill="#fff" stroke="#0000ff" stroke-width="0.8"/>
<circle cx="305.7" cy="267.9" r="2.4" fill="#fff" stroke="#0000ff" stroke-width="0.8"/>
<circle cx="310.9" cy="272.1" r="2.4" fill="#fff" stroke="#0000ff" stroke-width="0.8"/>
<circle cx="316.1" cy="273.9" r="2.4" fill="#fff" stroke="#0000ff" stroke-width="0.8"/>
<circle cx="321.3" cy="277.5" r="2.4" fill="#fff" stroke="#0000ff" stroke-width="0.8"/>
<circle cx="326.5" cy="280.5" r="2.4" fill="#fff" stroke="#0000ff" stroke-width="0.8"/>
<circle cx="331.7" cy="284" r="2.4" fill="#fff" stroke="#0000ff" stroke-width="0.8"/>
<circle cx="336.9" cy="287" r="2.4" fill="#fff" stroke="#0000ff" stroke-width="0.8"/>
<circle cx="342.1" cy="289.3" r="2.4" fill="#fff" stroke="#0000ff" stroke-width="0.8"/>
<circle cx="347.3" cy="291.3" r="2.4" fill="#fff" stroke="#0000ff" stroke-width="0.8"/>
<circle cx="352.5" cy="294.9" r="2.4" fill="#fff" stroke="#0000ff" stroke-width="0.8"/>
<circle cx="357.7" cy="296.7" r="2.4" fill="#fff" stroke="#0000ff" stroke-width="0.8"/>
<circle cx="362.9" cy="299.2" r="2.4" fill="#fff" stroke="#0000ff" stroke-width="0.8"/>
<circle cx="368.1" cy="303" r="2.4" fill="#fff" stroke="#0000ff" stroke-width="0.8"/>
<circle cx="373.3" cy="305.2" r="2.4" fill="#fff" stroke="#0000ff" stroke-width="0.8"/>
<circle cx="378.5" cy="307.9" r="2.4" fill="#fff" stroke="#0000ff" stroke-width="0.8"/>
<circle cx="383.7" cy="310.4" r="2.4" fill="#fff" stroke="#0000ff" stroke-width="0.8"/>
<circle cx="388.9" cy="313.5" r="2.4" fill="#fff" stroke="#0000ff" stroke-width="0.8"/>
<circle cx="394.1" cy="315" r="2.4" fill="#fff" stroke="#0000ff" stroke-width="0.8"/>
<circle cx="399.3" cy="317.7" r="2.4" fill="#fff" stroke="#0000ff" stroke-width="0.8"/>
<circle cx="404.5" cy="319.7" r="2.4" fill="#fff" stroke="#0000ff" stroke-width="0.8"/>
<circle cx="409.7" cy="322.1" r="2.4" fill="#fff" stroke="#0000ff" stroke-width="0.8"/>
<circle cx="414.9" cy="323.6" r="2.4" fill="#fff" stroke="#0000ff" stroke-width="0.8"/>
<circle cx="420.1" cy="326.3" r="2.4" fill="#fff" stroke="#0000ff" stroke-width="0.8"/>
<circle cx="425.3" cy="328.3" r="2.4" fill="#fff" stroke="#0000ff" stroke-width="0.8"/>
<circle cx="430.5" cy="330.1" r="2.4" fill="#fff" stroke="#0000ff" stroke-width="0.8"/>
<circle cx="435.7" cy="332.1" r="2.4" fill="#fff" stroke="#0000ff" stroke-width="0.8"/>
<circle cx="440.9" cy="335" r="2.4" fill="#fff" stroke="#0000ff" stroke-width="0.8"/>
<circle cx="446.1" cy="336" r="2.4" fill="#fff" stroke="#0000ff" stroke-width="0.8"/>
<circle cx="451.3" cy="338.9" r="2.4" fill="#fff" stroke="#0000ff" stroke-width="0.8"/>
<circle cx="456.5" cy="339.2" r="2.4" fill="#fff" stroke="#0000ff" stroke-width="0.8"/>
<circle cx="461.7" cy="340.6" r="2.4" fill="#fff" stroke="#0000ff" stroke-width="0.8"/>
<circle cx="466.9" cy="342.2" r="2.4" fill="#fff" stroke="#0000ff" stroke-width="0.8"/>
<circle cx="472.1" cy="345" r="2.4" fill="#fff" stroke="#0000ff" stroke-width="0.8"/>
<circle cx="477.3" cy="345.4" r="2.4" fill="#fff" stroke="#0000ff" stroke-width="0.8"/>
<circle cx="482.5" cy="346.4" r="2.4" fill="#fff" stroke="#0000ff" stroke-width="0.8"/>
<circle cx="487.7" cy="347.5" r="2.4" fill="#fff" stroke="#0000ff" stroke-width="0.8"/>
<circle cx="492.9" cy="348.8" r="2.4" fill="#fff" stroke="#0000ff" stroke-width="0.8"/>
<circle cx="498.1" cy="351.2" r="2.4" fill="#fff" stroke="#0000ff" stroke-width="0.8"/>
<circle cx="503.3" cy="352.7" r="2.4" fill="#fff" stroke="#0000ff" stroke-width="0.8"/>
<circle cx="508.5" cy="354.4" r="2.4" fill="#fff" stroke="#0000ff" stroke-width="0.8"/>
<circle cx="513.7" cy="356" r="2.4" fill="#fff" stroke="#0000ff" stroke-width="0.8"/>
<circle cx="518.9" cy="356.5" r="2.4" fill="#fff" stroke="#0000ff" stroke-width="0.8"/>
<circle cx="524.1" cy="358.9" r="2.4" fill="#fff" stroke="#0000ff" stroke-width="0.8"/>
<circle cx="529.3" cy="360.1" r="2.4" fill="#fff" stroke="#0000ff" stroke-width="0.8"/>
<circle cx="534.5" cy="362.4" r="2.4" fill="#fff" stroke="#0000ff" stroke-width="0.8"/>
<circle cx="539.7" cy="363.9" r="2.4" fill="#fff" stroke="#0000ff" stroke-width="0.8"/>
<circle cx="544.9" cy="365.6" r="2.4" fill="#fff" stroke="#0000ff" stroke-width="0.8"/>
<circle cx="550.1" cy="365.8" r="2.4" fill="#fff" stroke="#0000ff" stroke-width="0.8"/>
<circle cx="555.3" cy="368.1" r="2.4" fill="#fff" stroke="#0000ff" stroke-width="0.8"/>
<circle cx="560.5" cy="369.2" r="2.4" fill="#fff" stroke="#0000ff" stroke-width="0.8"/>
<circle cx="565.7" cy="370.3" r="2.4" fill="#fff" stroke="#0000ff" stroke-width="0.8"/>
<circle cx="570.9" cy="370" r="2.4" fill="#fff" stroke="#0000ff" stroke-width="0.8"/>
<circle cx="576.1" cy="371.2" r="2.4" fill="#fff" stroke="#0000ff" stroke-width="0.8"/>
<circle cx="581.3" cy="372.9" r="2.4" fill="#fff" stroke="#0000ff" stroke-width="0.8"/>
<circle cx="586.5" cy="374.7" r="2.4" fill="#fff" stroke="#0000ff" stroke-width="0.8"/>
<circle cx="591.7" cy="378" r="2.4" fill="#fff" stroke="#0000ff" stroke-width="0.8"/>
<circle cx="596.9" cy="379.9" r="2.4" fill="#fff" stroke="#0000ff" stroke-width="0.8"/>
<circle cx="602.1" cy="381.6" r="2.4" fill="#fff" stroke="#0000ff" stroke-width="0.8"/>
<circle cx="607.3" cy="383.9" r="2.4" fill="#fff" stroke="#0000ff" stroke-width="0.8"/>
<circle cx="612.5" cy="385.9" r="2.4" fill="#fff" stroke="#0000ff" stroke-width="0.8"/>
<circle cx="617.7" cy="387.6" r="2.4" fill="#fff" stroke="#0000ff" stroke-width="0.8"/>
<circle cx="622.9" cy="389.6" r="2.4" fill="#fff" stroke="#0000ff" stroke-width="0.8"/>
<circle cx="628.1" cy="391.9" r="2.4" fill="#fff" stroke="#0000ff" stroke-width="0.8"/>
<circle cx="633.3" cy="395.2" r="2.4" fill="#fff" stroke="#0000ff" stroke-width="0.8"/>
<circle cx="638.5" cy="396.5" r="2.4" fill="#fff" stroke="#0000ff" stroke-width="0.8"/>
<circle cx="643.7" cy="398.8" r="2.4" fill="#fff" stroke="#0000ff" stroke-width="0.8"/>
<circle cx="648.9" cy="401.1" r="2.4" fill="#fff" stroke="#0000ff" stroke-width="0.8"/>
<circle cx="654.1" cy="402.6" r="2.4" fill="#fff" stroke="#0000ff" stroke-width="0.8"/>
<circle cx="659.3" cy="405.1" r="2.4" fill="#fff" stroke="#0000ff" stroke-width="0.8"/>
<circle cx="664.5" cy="407.7" r="2.4" fill="#fff" stroke="#0000ff" stroke-width="0.8"/>
<circle cx="669.7" cy="411" r="2.4" fill="#fff" stroke="#0000ff" stroke-width="0.8"/>
<circle cx="674.9" cy="413.1" r="2.4" fill="#fff" stroke="#0000ff" stroke-width="0.8"/>
<circle cx="680.1" cy="415.7" r="2.4" fill="#fff" stroke="#0000ff" stroke-width="0.8"/>
<circle cx="685.3" cy="419.3" r="2.4" fill="#fff" stroke="#0000ff" stroke-width="0.8"/>
<circle cx="690.5" cy="421.5" r="2.4" fill="#fff" stroke="#0000ff" stroke-width="0.8"/>
<circle cx="695.7" cy="425.1" r="2.4" fill="#fff" stroke="#0000ff" stroke-width="0.8"/>
<circle cx="700.9" cy="427.8" r="2.4" fill="#fff" stroke="#0000ff" stroke-width="0.8"/>
<circle cx="706.1" cy="429.9" r="2.4" fill="#fff" stroke="#0000ff" stroke-width="0.8"/>
<circle cx="711.3" cy="433.5" r="2.4" fill="#fff" stroke="#0000ff" stroke-width="0.8"/>
<circle cx="716.5" cy="436.6" r="2.4" fill="#fff" stroke="#0000ff" stroke-width="0.8"/>
<circle cx="721.7" cy="440.2" r="2.4" fill="#fff" stroke="#0000ff" stroke-width="0.8"/>
<circle cx="726.9" cy="442.6" r="2.4" fill="#fff" stroke="#0000ff" stroke-width="0.8"/>
<circle cx="732.1" cy="446.8" r="2.4" fill="#fff" stroke="#0000ff" stroke-width="0.8"/>
<circle cx="737.3" cy="450.7" r="2.4" fill="#fff" stroke="#0000ff" stroke-width="0.8"/>
<circle cx="741.3" cy="453.8" r="2.4" fill="#fff" stroke="#0000ff" stroke-width="0.8"/>
<circle cx="248.5" cy="230.8" r="2.4" fill="#fff" stroke="#0000ff" stroke-width="0.8"/>
<circle cx="253.7" cy="235.7" r="2.4" fill="#fff" stroke="#0000ff" stroke-width="0.8"/>
<circle cx="258.9" cy="238.4" r="2.4" fill="#fff" stroke="#0000ff" stroke-width="0.8"/>
<circle cx="264.1" cy="243.5" r="2.4" fill="#fff" stroke="#0000ff" stroke-width="0.8"/>
<circle cx="269.3" cy="246.6" r="2.4" fill="#fff" stroke="#0000ff" stroke-width="0.8"/>
<circle cx="274.5" cy="250.5" r="2.4" fill="#fff" stroke="#0000ff" stroke-width="0.8"/>
<circle cx="279.7" cy="254.9" r="2.4" fill="#fff" stroke="#0000ff" stroke-width="0.8"/>
<circle cx="284.9" cy="259.5" r="2.4" fill="#fff" stroke="#0000ff" stroke-width="0.8"/>
<circle cx="290.1" cy="262.9" r="2.4" fill="#fff" stroke="#0000ff" stroke-width="0.8"/>
<circle cx="295.3" cy="264.4" r="2.4" fill="#fff" stroke="#0000ff" stroke-width="0.8"/>
<circle cx="300.5" cy="268.2" r="2.4" fill="#fff" stroke="#0000ff" stroke-width="0.8"/>
<circle cx="305.7" cy="271.3" r="2.4" fill="#fff" stroke="#0000ff" stroke-width="0.8"/>
<circle cx="310.9" cy="275" r="2.4" fill="#fff" stroke="#0000ff" stroke-width="0.8"/>
<circle cx="316.1" cy="277.2" r="2.4" fill="#fff" stroke="#0000ff" stroke-width="0.8"/>
<circle cx="321.3" cy="280.9" r="2.4" fill="#fff" stroke="#0000ff" stroke-width="0.8"/>
<circle cx="326.5" cy="283.7" r="2.4" fill="#fff" stroke="#0000ff" stroke-width="0.8"/>
<circle cx="331.7" cy="287.1" r="2.4" fill="#fff" stroke="#0000ff" stroke-width="0.8"/>
<circle cx="336.9" cy="288.9" r="2.4" fill="#fff" stroke="#0000ff" stroke-width="0.8"/>
<circle cx="342.1" cy="292.6" r="2.4" fill="#fff" stroke="#0000ff" stroke-width="0.8"/>
<circle cx="347.3" cy="294.3" r="2.4" fill="#fff" stroke="#0000ff" stroke-width="0.8"/>
<circle cx="352.5" cy="296.8" r="2.4" fill="#fff" stroke="#0000ff" stroke-width="0.8"/>
<circle cx="357.7" cy="300.3" r="2.4" fill="#fff" stroke="#0000ff" stroke-width="0.8"/>
<circle cx="362.9" cy="302.7" r="2.4" fill="#fff" stroke="#0000ff" stroke-width="0.8"/>
<circle cx="368.1" cy="304.7" r="2.4" fill="#fff" stroke="#0000ff" stroke-width="0.8"/>
<circle cx="373.3" cy="308.2" r="2.4" fill="#fff" stroke="#0000ff" stroke-width="0.8"/>
<circle cx="378.5" cy="309.9" r="2.4" fill="#fff" stroke="#0000ff" stroke-width="0.8"/>
<circle cx="383.7" cy="313.6" r="2.4" fill="#fff" stroke="#0000ff" stroke-width="0.8"/>
<circle cx="388.9" cy="316.1" r="2.4" fill="#fff" stroke="#0000ff" stroke-width="0.8"/>
<circle cx="394.1" cy="318.5" r="2.4" fill="#fff" stroke="#0000ff" stroke-width="0.8"/>
<circle cx="399.3" cy="320.4" r="2.4" fill="#fff" stroke="#0000ff" stroke-width="0.8"/>
<circle cx="404.5" cy="322.1" r="2.4" fill="#fff" stroke="#0000ff" stroke-width="0.8"/>
<circle cx="409.7" cy="324.4" r="2.4" fill="#fff" stroke="#0000ff" stroke-width="0.8"/>
<circle cx="414.9" cy="326.6" r="2.4" fill="#fff" stroke="#0000ff" stroke-width="0.8"/>
<circle cx="420.1" cy="329.6" r="2.4" fill="#fff" stroke="#0000ff" stroke-width="0.8"/>
<circle cx="425.3" cy="330.5" r="2.4" fill="#fff" stroke="#0000ff" stroke-width="0.8"/>
<circle cx="430.5" cy="334" r="2.4" fill="#fff" stroke="#0000ff" stroke-width="0.8"/>
<circle cx="435.7" cy="334.8" r="2.4" fill="#fff" stroke="#0000ff" stroke-width="0.8"/>
<circle cx="440.9" cy="337.3" r="2.4" fill="#fff" stroke="#0000ff" stroke-width="0.8"/>
<circle cx="446.1" cy="339.3" r="2.4" fill="#fff" stroke="#0000ff" stroke-width="0.8"/>
<circle cx="451.3" cy="341.8" r="2.4" fill="#fff" stroke="#0000ff" stroke-width="0.8"/>
<circle cx="456.5" cy="342.8" r="2.4" fill="#fff" stroke="#0000ff" stroke-width="0.8"/>
<circle cx="461.7" cy="344.1" r="2.4" fill="#fff" stroke="#0000ff" stroke-width="0.8"/>
<circle cx="466.9" cy="346.5" r="2.4" fill="#fff" stroke="#0000ff" stroke-width="0.8"/>
<circle cx="472.1" cy="346.9" r="2.4" fill="#fff" stroke="#0000ff" stroke-width="0.8"/>
<circle cx="477.3" cy="348.6" r="2.4" fill="#fff" stroke="#0000ff" stroke-width="0.8"/>
<circle cx="482.5" cy="350" r="2.4" fill="#fff" stroke="#0000ff" stroke-width="0.8"/>
<circle cx="487.7" cy="351.6" r="2.4" fill="#fff" stroke="#0000ff" stroke-width="0.8"/>
<circle cx="492.9" cy="353" r="2.4" fill="#fff" stroke="#0000ff" stroke-width="0.8"/>
<circle cx="498.1" cy="354.2" r="2.4" fill="#fff" stroke="#0000ff" stroke-width="0.8"/>
<circle cx="503.3" cy="355.2" r="2.4" fill="#fff" stroke="#0000ff" stroke-width="0.8"/>
<circle cx="508.5" cy="356.8" r="2.4" fill="#fff" stroke="#0000ff" stroke-width="0.8"/>
<circle cx="513.7" cy="358.1" r="2.4" fill="#fff" stroke="#0000ff" stroke-width="0.8"/>
<circle cx="518.9" cy="360.7" r="2.4" fill="#fff" stroke="#0000ff" stroke-width="0.8"/>
<circle cx="524.1" cy="362" r="2.4" fill="#fff" stroke="#0000ff" stroke-width="0.8"/>
<circle cx="529.3" cy="363.7" r="2.4" fill="#fff" stroke="#0000ff" stroke-width="0.8"/>
<circle cx="534.5" cy="364.3" r="2.4" fill="#fff" stroke="#0000ff" stroke-width="0.8"/>
<circle cx="539.7" cy="366.3" r="2.4" fill="#fff" stroke="#0000ff" stroke-width="0.8"/>
<circle cx="544.9" cy="368.4" r="2.4" fill="#fff" stroke="#0000ff" stroke-width="0.8"/>
<circle cx="550.1" cy="369.6" r="2.4" fill="#fff" stroke="#0000ff" stroke-width="0.8"/>
<circle cx="555.3" cy="370" r="2.4" fill="#fff" stroke="#0000ff" stroke-width="0.8"/>
<circle cx="560.5" cy="371.5" r="2.4" fill="#fff" stroke="#0000ff" stroke-width="0.8"/>
<circle cx="565.7" cy="373.2" r="2.4" fill="#fff" stroke="#0000ff" stroke-width="0.8"/>
<circle cx="570.9" cy="373.2" r="2.4" fill="#fff" stroke="#0000ff" stroke-width="0.8"/>
<circle cx="576.1" cy="374.2" r="2.4" fill="#fff" stroke="#0000ff" stroke-width="0.8"/>
<circle cx="581.3" cy="376.2" r="2.4" fill="#fff" stroke="#0000ff" stroke-width="0.8"/>
<circle cx="586.5" cy="378.8" r="2.4" fill="#fff" stroke="#0000ff" stroke-width="0.8"/>
<circle cx="591.7" cy="381" r="2.4" fill="#fff" stroke="#0000ff" stroke-width="0.8"/>
<circle cx="596.9" cy="381.9" r="2.4" fill="#fff" stroke="#0000ff" stroke-width="0.8"/>
<circle cx="602.1" cy="383.8" r="2.4" fill="#fff" stroke="#0000ff" stroke-width="0.8"/>
<circle cx="607.3" cy="386" r="2.4" fill="#fff" stroke="#0000ff" stroke-width="0.8"/>
<circle cx="612.5" cy="388.4" r="2.4" fill="#fff" stroke="#0000ff" stroke-width="0.8"/>
<circle cx="617.7" cy="391" r="2.4" fill="#fff" stroke="#0000ff" stroke-width="0.8"/>
<circle cx="622.9" cy="392.7" r="2.4" fill="#fff" stroke="#0000ff" stroke-width="0.8"/>
<circle cx="628.1" cy="395.2" r="2.4" fill="#fff" stroke="#0000ff" stroke-width="0.8"/>
<circle cx="633.3" cy="397.3" r="2.4" fill="#fff" stroke="#0000ff" stroke-width="0.8"/>
<circle cx="638.5" cy="400.7" r="2.4" fill="#fff" stroke="#0000ff" stroke-width="0.8"/>
<circle cx="643.7" cy="402.5" r="2.4" fill="#fff" stroke="#0000ff" stroke-width="0.8"/>
<circle cx="648.9" cy="403.6" r="2.4" fill="#fff" stroke="#0000ff" stroke-width="0.8"/>
<circle cx="654.1" cy="407.1" r="2.4" fill="#fff" stroke="#0000ff" stroke-width="0.8"/>
<circle cx="659.3" cy="407.9" r="2.4" fill="#fff" stroke="#0000ff" stroke-width="0.8"/>
<circle cx="664.5" cy="410.9" r="2.4" fill="#fff" stroke="#0000ff" stroke-width="0.8"/>
<circle cx="669.7" cy="414.5" r="2.4" fill="#fff" stroke="#0000ff" stroke-width="0.8"/>
<circle cx="674.9" cy="416.8" r="2.4" fill="#fff" stroke="#0000ff" stroke-width="0.8"/>
<circle cx="680.1" cy="419.3" r="2.4" fill="#fff" stroke="#0000ff" stroke-width="0.8"/>
<circle cx="685.3" cy="421.5" r="2.4" fill="#fff" stroke="#0000ff" stroke-width="0.8"/>
<circle cx="690.5" cy="424" r="2.4" fill="#fff" stroke="#0000ff" stroke-width="0.8"/>
<circle cx="695.7" cy="427.8" r="2.4" fill="#fff" stroke="#0000ff" stroke-width="0.8"/>
<circle cx="700.9" cy="429.9" r="2.4" fill="#fff" stroke="#0000ff" stroke-width="0.8"/>
<circle cx="706.1" cy="433.1" r="2.4" fill="#fff" stroke="#0000ff" stroke-width="0.8"/>
<circle cx="711.3" cy="436.5" r="2.4" fill="#fff" stroke="#0000ff" stroke-width="0.8"/>
<circle cx="716.5" cy="439" r="2.4" fill="#fff" stroke="#0000ff" stroke-width="0.8"/>
<circle cx="721.7" cy="442.6" r="2.4" fill="#fff" stroke="#0000ff" stroke-width="0.8"/>
<circle cx="726.9" cy="446.3" r="2.4" fill="#fff" stroke="#0000ff" stroke-width="0.8"/>
<circle cx="732.1" cy="449.8" r="2.4" fill="#fff" stroke="#0000ff" stroke-width="0.8"/>
<circle cx="737.3" cy="453.6" r="2.4" fill="#fff" stroke="#0000ff" stroke-width="0.8"/>
<circle cx="741.3" cy="456.8" r="2.4" fill="#fff" stroke="#0000ff" stroke-width="0.8"/>
<polyline points="248.5,75.9 252.2,111.5 255,147.4 258.6,172.8 261.8,194.2 265,212 267.7,222.7 271.4,235 274.8,240.8 278,246.6" fill="none" stroke="#0000ff" stroke-width="0.85"/>
<polygon points="248.5,73.2 251.2,75.9 248.5,78.6 245.8,75.9" fill="#0000ff"/>
<polygon points="252.2,108.8 254.9,111.5 252.2,114.2 249.5,111.5" fill="#0000ff"/>
<polygon points="255,144.7 257.7,147.4 255,150.1 252.3,147.4" fill="#0000ff"/>
<polygon points="258.6,170.1 261.3,172.8 258.6,175.5 255.9,172.8" fill="#0000ff"/>
<polygon points="261.8,191.5 264.5,194.2 261.8,196.9 259.1,194.2" fill="#0000ff"/>
<polygon points="265,209.3 267.7,212 265,214.7 262.3,212" fill="#0000ff"/>
<polygon points="267.7,220 270.4,222.7 267.7,225.4 265,222.7" fill="#0000ff"/>
<polygon points="271.4,232.3 274.1,235 271.4,237.7 268.7,235" fill="#0000ff"/>
<polygon points="274.8,238.1 277.5,240.8 274.8,243.5 272.1,240.8" fill="#0000ff"/>
<polygon points="278,243.9 280.7,246.6 278,249.3 275.3,246.6" fill="#0000ff"/>
</g>
<g stroke="#000" stroke-width="2" fill="none" stroke-linecap="square">
<rect x="182.5" y="38.5" width="624.3" height="502.5"/>
<line x1="248.5" y1="541.0" x2="248.5" y2="551.0"/>
<line x1="412.7" y1="541.0" x2="412.7" y2="551.0"/>
<line x1="576.8" y1="541.0" x2="576.8" y2="551.0"/>
<line x1="741" y1="541.0" x2="741" y2="551.0"/>
<line x1="330.6" y1="541.0" x2="330.6" y2="546.0"/>
<line x1="494.7" y1="541.0" x2="494.7" y2="546.0"/>
<line x1="658.9" y1="541.0" x2="658.9" y2="546.0"/>
<line x1="172.5" y1="38.5" x2="182.5" y2="38.5"/>
<line x1="172.5" y1="182.2" x2="182.5" y2="182.2"/>
<line x1="172.5" y1="325.8" x2="182.5" y2="325.8"/>
<line x1="172.5" y1="469.5" x2="182.5" y2="469.5"/>
<line x1="177.5" y1="110.3" x2="182.5" y2="110.3"/>
<line x1="177.5" y1="254" x2="182.5" y2="254"/>
<line x1="177.5" y1="397.6" x2="182.5" y2="397.6"/>
</g>
<text x="167" y="49" font-size="28.5" text-anchor="end" fill="#000">2.0x10<tspan font-size="16.8" dy="-15.3">-6</tspan></text>
<text x="167" y="192.7" font-size="28.5" text-anchor="end" fill="#000">1.5x10<tspan font-size="16.8" dy="-15.3">-6</tspan></text>
<text x="167" y="336.3" font-size="28.5" text-anchor="end" fill="#000">1.0x10<tspan font-size="16.8" dy="-15.3">-6</tspan></text>
<text x="167" y="480" font-size="28.5" text-anchor="end" fill="#000">5.0x10<tspan font-size="16.8" dy="-15.3">-7</tspan></text>
<text x="248.5" y="579.1" font-size="28.7" text-anchor="middle" fill="#000">-1.0</text>
<text x="412.7" y="579.1" font-size="28.7" text-anchor="middle" fill="#000">-0.5</text>
<text x="576.8" y="579.1" font-size="28.7" text-anchor="middle" fill="#000">0.0</text>
<text x="741" y="579.1" font-size="28.7" text-anchor="middle" fill="#000">0.5</text>
<text transform="translate(38.8,330.8) rotate(-90)" font-size="30.6" fill="#000">I<tspan font-size="18" dy="12.3">drain</tspan><tspan x="48.8" dy="-12.3">,</tspan><tspan x="66">A</tspan></text>
<text x="433.5" y="631.7" font-size="30.6" fill="#000">V<tspan font-size="18" dy="11.6">substrate</tspan><tspan dy="-11.6">,</tspan><tspan x="556.2">V</tspan></text>
<text x="240.3" y="61.6" font-size="24" text-anchor="end" fill="#000">1st</text>
<text x="240.3" y="90.6" font-size="24" text-anchor="end" fill="#000">point</text>
<text x="417" y="86.8" font-size="19.5" fill="#000">SOI2 Al2O3 20nm</text>
<text x="417" y="111.3" font-size="19.5" fill="#000">450oC 1 h</text>
<text x="417" y="135" font-size="19.5" fill="#000">Vds = <tspan fill="#ff0000" font-weight="bold">0.1</tspan> V</text>
<text x="354.5" y="216.8" font-size="24" fill="#000">0.03 - 50 V/s</text>
<text x="598.5" y="516.5" font-size="24" fill="#000">0.03 - 50 V/s</text>
<line x1="412.7" y1="232" x2="412.7" y2="312" stroke="#000" stroke-width="1.6" stroke-dasharray="6,4"/>
<polygon points="408.2,309 417.2,309 412.7,323" fill="#000"/>
<line x1="656.5" y1="494" x2="656.5" y2="434" stroke="#000" stroke-width="1.6" stroke-dasharray="6,4"/>
<polygon points="652,436 661,436 656.5,422.5" fill="#000"/>
<line x1="557.4" y1="299.5" x2="489" y2="266" stroke="#111" stroke-width="1.2"/>
<polygon points="478.5,260.8 491.8,263.3 488.6,269.7" fill="#111"/>
<line x1="482" y1="405.2" x2="549" y2="436.8" stroke="#111" stroke-width="1.2"/>
<polygon points="559,441.5 545.6,439.2 548.8,432.7" fill="#111"/>
<rect x="625.6" y="59.7" width="153.1" height="222.3" fill="#fff" stroke="#555" stroke-width="1"/>
<text x="626" y="83.4" font-size="16.6" fill="#111">Sweep rate 0.03 V/s:</text>
<line x1="626" y1="106.7" x2="685" y2="106.7" stroke="#ff2020" stroke-width="1"/>
<circle cx="655" cy="106.7" r="2.4" fill="#ff0000"/>
<text x="690" y="115.9" font-size="16.5" fill="#111">1 [-1;+0,5]</text>
<line x1="626" y1="138.9" x2="685" y2="138.9" stroke="#ff9090" stroke-width="1"/>
<circle cx="655" cy="138.9" r="2.4" fill="#fff" stroke="#ff9090" stroke-width="0.9"/>
<text x="690" y="148.1" font-size="16.5" fill="#111">2 [+0,5;-1]</text>
<line x1="626" y1="171.2" x2="685" y2="171.2" stroke="#ff2020" stroke-width="1"/>
<circle cx="655" cy="171.2" r="2.4" fill="#ff0000"/>
<text x="690" y="180.4" font-size="16.5" fill="#111">3 [-1;+0,5]</text>
<line x1="626" y1="235.3" x2="685" y2="235.3" stroke="#ff2020" stroke-width="1"/>
<circle cx="655" cy="235.3" r="2.4" fill="#fff" stroke="#ff2020" stroke-width="0.9"/>
<text x="690" y="244.5" font-size="16.5" fill="#111">10 [+0,5;-1]</text>
<text x="626.5" y="213.5" font-size="20" letter-spacing="2.4" fill="#000">...</text>

<g id="inset-a">
<defs>
<linearGradient id="gpink" x1="0" x2="1" y1="0" y2="0">
<stop offset="0" stop-color="#a85c7c"/><stop offset="0.55" stop-color="#e27fae"/><stop offset="0.8" stop-color="#f79ccb"/><stop offset="1" stop-color="#d877a6"/></linearGradient>
<linearGradient id="gyel" x1="0" x2="1" y1="0" y2="0">
<stop offset="0" stop-color="#9c8a10"/><stop offset="0.55" stop-color="#e8d800"/><stop offset="0.78" stop-color="#fff200"/><stop offset="1" stop-color="#d4c400"/></linearGradient>
<linearGradient id="ggray" x1="0" x2="1" y1="0" y2="0">
<stop offset="0" stop-color="#a8a8a8"/><stop offset="0.6" stop-color="#f2f2f2"/><stop offset="1" stop-color="#b8b8b8"/></linearGradient>
</defs>
<path d="M268.9,476 L268.9,489 A35,7.5 0 0 0 338.9,489 L338.9,476 Z" fill="url(#ggray)" stroke="#3a3a3a" stroke-width="0.9"/>
<path d="M255.9,414.9 L255.9,431 A48,9.6 0 0 0 351.9,431 L351.9,414.9 A48,9.6 0 0 1 255.9,414.9 Z" fill="url(#gpink)" stroke="none"/>
<path d="M255.9,431 L255.9,445.3 A48,9.6 0 0 0 351.9,445.3 L351.9,431 A48,9.6 0 0 1 255.9,431 Z" fill="url(#gyel)" stroke="none"/>
<path d="M255.9,445.3 L255.9,478.4 A48,9.6 0 0 0 351.9,478.4 L351.9,445.3 A48,9.6 0 0 1 255.9,445.3 Z" fill="url(#gpink)" stroke="none"/><ellipse cx="303.9" cy="414.9" rx="48" ry="9.6" fill="#f59cca" stroke="#3a3a3a" stroke-width="0.9"/>
<path d="M255.9,414.9 L255.9,478.4 A48,9.6 0 0 0 351.9,478.4 L351.9,414.9" fill="none" stroke="#3a3a3a" stroke-width="0.9"/>
<path d="M255.9,430.6 A48,9.6 0 0 0 351.9,430.6" fill="none" stroke="#ff2a3a" stroke-width="3.6"/>
<path d="M255.9,445.3 A48,9.6 0 0 0 351.9,445.3" fill="none" stroke="#3a3a3a" stroke-width="0.8"/><polygon points="271.4,404 277.4,394 297.7,394 291.7,404" fill="#c8c8c8" stroke="#3a3a3a" stroke-width="0.9" stroke-linejoin="round"/>
<polygon points="291.7,404 297.7,394 297.7,408.4 291.7,418.4" fill="#9c9c9c" stroke="#3a3a3a" stroke-width="0.9" stroke-linejoin="round"/>
<rect x="271.4" y="404" width="20.3" height="14.4" fill="#e6e6e6" stroke="#3a3a3a" stroke-width="0.9"/>
<text transform="translate(281.5,415.2) scale(0.85,1)" font-size="11" text-anchor="middle" fill="#444">Al</text><polygon points="308.2,404 314.2,394 334.5,394 328.5,404" fill="#c8c8c8" stroke="#3a3a3a" stroke-width="0.9" stroke-linejoin="round"/>
<polygon points="328.5,404 334.5,394 334.5,408.4 328.5,418.4" fill="#9c9c9c" stroke="#3a3a3a" stroke-width="0.9" stroke-linejoin="round"/>
<rect x="308.2" y="404" width="20.3" height="14.4" fill="#e6e6e6" stroke="#3a3a3a" stroke-width="0.9"/>
<text transform="translate(318.3,415.2) scale(0.85,1)" font-size="11" text-anchor="middle" fill="#444">Al</text>
<g stroke="#333" stroke-width="1" fill="none">
<path d="M266.6,380.3 V365.8 H284.1 V392"/>
<line x1="259.8" y1="381.4" x2="273.5" y2="381.4" stroke-width="2.6"/>
<path d="M324,353 V363 M324,380 V392"/>
<circle cx="324" cy="371.4" r="8.4"/>
<path d="M306.2,496 V505"/>
<line x1="239.6" y1="438" x2="248" y2="439.6"/>
</g>
<polygon points="280.6,390 287.6,390 284.1,398" fill="#333"/>
<polygon points="320.5,390 327.5,390 324,398" fill="#333"/>
<polygon points="252.5,440.4 245.5,436.6 245,442.6" fill="#333"/>
<ellipse cx="324" cy="349.5" rx="3.2" ry="3.8" fill="none" stroke="#333" stroke-width="1.1"/><line x1="319" y1="357.4" x2="329.4" y2="341.5" stroke="#333" stroke-width="1.1"/><ellipse cx="306" cy="509.8" rx="3.2" ry="3.9" fill="none" stroke="#333" stroke-width="1.1"/><line x1="301" y1="517" x2="311.5" y2="501.5" stroke="#333" stroke-width="1.1"/><g fill="#333"><text transform="translate(324,376.4) scale(0.9,1)" font-size="13" text-anchor="middle" fill="#333">A</text><text transform="translate(332.2,352.7) scale(0.9,1)" font-size="13.5" text-anchor="start" fill="#333">V</text><text transform="translate(341,356) scale(0.9,1)" font-size="6.5" text-anchor="start" fill="#333">DS</text><text transform="translate(335.5,376.1) scale(0.9,1)" font-size="13.5" text-anchor="start" fill="#333">I</text><text transform="translate(338.4,378.4) scale(0.9,1)" font-size="6.5" text-anchor="start" fill="#333">DS</text><text transform="translate(285.6,390.6) scale(0.9,1)" font-size="13.5" text-anchor="start" fill="#333">S</text><text transform="translate(328.6,391) scale(0.9,1)" font-size="13.5" text-anchor="start" fill="#333">D</text><text transform="translate(304.2,436.8) scale(0.85,1)" font-size="10.5" text-anchor="middle" fill="#6e3353">Si</text><text transform="translate(302.9,473.6) scale(0.85,1)" font-size="10.5" text-anchor="middle" fill="#6e3353">Si-wafer</text><text transform="translate(355,444.3) scale(0.88,1)" font-size="14" text-anchor="start" fill="#222">BOX</text><text transform="translate(348,492) scale(0.92,1)" font-size="10.2" text-anchor="start" fill="#333">InGa-contact</text><text transform="translate(187.6,441.5) scale(0.8,1)" font-size="10.2" text-anchor="start" fill="#333">Al<tspan font-size="5.5" dy="1.8">2</tspan><tspan dy="-1.8">O</tspan><tspan font-size="5.5" dy="1.8">3</tspan><tspan dy="-1.8">(20 nm)</tspan></text><text transform="translate(311.6,513) scale(0.9,1)" font-size="13.5" text-anchor="start" fill="#333">G</text><text transform="translate(261,529.4) scale(0.96,1)" font-size="13" text-anchor="start" fill="#333">-1 V &#8804; V<tspan font-size="6.5" dy="2.5">G</tspan><tspan dy="-2.5"> &#8804; +0.5 V</tspan></text></g></g>
<line x1="1214.5" y1="21.8" x2="1214.5" y2="528.5" stroke="#dcdcdc" stroke-width="1"/>
<line x1="1338.6" y1="21.8" x2="1338.6" y2="528.5" stroke="#dcdcdc" stroke-width="1"/>
<line x1="1462.8" y1="21.8" x2="1462.8" y2="528.5" stroke="#dcdcdc" stroke-width="1"/>
<line x1="1586.9" y1="21.8" x2="1586.9" y2="528.5" stroke="#dcdcdc" stroke-width="1"/>
<line x1="1711.1" y1="21.8" x2="1711.1" y2="528.5" stroke="#dcdcdc" stroke-width="1"/>
<line x1="1152.5" y1="99.8" x2="1773.0" y2="99.8" stroke="#dcdcdc" stroke-width="1"/>
<line x1="1152.5" y1="294.8" x2="1773.0" y2="294.8" stroke="#dcdcdc" stroke-width="1"/>
<line x1="1152.5" y1="489.7" x2="1773.0" y2="489.7" stroke="#dcdcdc" stroke-width="1"/>
<rect x="1357" y="69" width="216" height="76" fill="#fff"/>
<rect x="1514" y="296" width="258" height="231" fill="#fff"/>
<line x1="1214.6" y1="114" x2="1214.6" y2="482" stroke="#cfcfd6" stroke-width="2.8"/>
<g fill="none" stroke="#0000ff" stroke-width="1.25" stroke-linejoin="round">
<polyline points="1445,481 1450.5,469 1455.5,453 1459.6,433 1463.4,415 1468.6,387" stroke-width="4.2"/>
<polyline points="1214.6,113.9 1217.6,92.3 1220.8,105.6 1223.7,104.5 1232.9,103.7 1235.9,115.2 1239.1,126.4 1242.3,109.3 1245.5,125.3 1248.5,113.9 1251.4,125.8 1255.1,122.6 1257.8,122.6 1261,132 1264.2,126.9 1267,112.5 1269,120.5 1271.6,122.6 1275.9,123.2 1278.6,125.8 1283.4,126.9 1286,130.1 1289.2,133.3 1293.5,135.4 1297.8,142.9 1305,149.3 1312.2,157.5 1323.1,177.5 1331.1,199 1339.2,231 1347.2,263 1355.2,300.5 1360.5,329.8 1366.2,353.7 1375.2,389.7 1382.1,414.7 1390.1,439.6 1397.1,453.3 1404.5,467 1412.8,476.4 1421.1,482.6 1428.1,484.9 1435,483.7 1441.1,480.6 1445.1,476.6 1449.3,469.5 1453.5,455.7 1459.3,440 1464,400 1469,374 1474.3,348 1482,322 1492.5,295 1500,280 1505.5,270 1511.2,261.3 1522.4,246.4 1537.3,231.5 1556,214.7 1574.7,199.7 1586.4,190 1602.7,176.4 1621.3,160.5 1630,152 1630,152 1639.6,140.9 1649.2,134.5 1660.4,122 1668.4,117.2 1676.4,108 1685.3,100.8 1692.5,97.6 1698.9,93.6 1703.7,92 1710.1,90.4"/>
<polyline points="1214.6,113.9 1215.7,112.5 1221,106.7 1223.7,105.1 1226.9,112.5 1230.1,110.9 1233.3,101.9 1235.9,114.1 1239.1,122.6 1241.8,118.4 1245.5,106.1 1248.2,115.2 1251.4,122.6 1254.6,107.2 1257.8,108.3 1261,115.2 1263.4,128.5 1267,112.5 1270,123.7 1275.4,128.5 1278.6,125.3 1281.8,126.9 1286,135.4 1290.3,133.3 1294.6,136.5 1298.3,144 1305,147.2 1310.4,158.5 1320.9,178.5 1328.9,199.6 1336.8,231.6 1344.8,263.6 1352.8,300.9 1358.1,330.2 1363.8,354.3 1372.8,390.3 1379.9,415.3 1387.9,440.4 1394.9,454.5 1402.5,468.4 1411.2,478.2 1419.9,484.8 1427.9,487.3 1435.8,485.9 1442.5,482.6 1447.1,478 1451.5,470.3 1455.7,456.4 1460.5,440 1465.5,400 1470.5,374 1476,348 1484,322 1495,295 1503.7,280 1514.9,261.3 1526,248 1537.3,235.2 1556,219.3 1574.7,204.4 1586.4,195 1602.7,182 1621.3,166.1 1630,158.5 1630,158.5 1639.6,147.3 1650.8,135.3 1662,123.2 1666.8,123.2 1676.4,112 1686.1,106.4 1697.3,100 1701.3,93.6 1710.1,92"/>
<polyline points="1214.8,326.9 1226.9,330.5 1238.2,335.5 1252.2,344.5 1266.3,355.1 1280.4,369.7 1294.5,389.3 1306,408.8 1317.5,431 1328.7,450.5 1339.8,464.4 1350.9,476.8 1360.7,483.9 1370.6,488.8 1380.4,493.2 1390.9,495.2 1401.4,496.3 1411.9,496.1 1422.3,494.1 1430.6,491 1438.9,485.9 1445,479.8 1451.3,466.2 1456.7,449.7 1460.7,429.8 1465.2,399.8 1470,373.7 1476.2,347.6 1484.6,321.5 1496.6,294.3 1506.1,279.1 1517.3,262.1 1536,240.4 1554.8,223.5 1573.7,208.6 1585.6,201 1602,193.6 1620.7,185.4 1629.4,180.5 1645.6,173.3 1661.8,168.7 1677.9,165.8 1694,163.1 1710.1,161.8"/>
<polyline points="1214.6,327.5 1226.7,331.1 1237.8,336.1 1251.8,345.1 1265.7,355.7 1279.6,370.3 1293.5,389.9 1304.4,409.6 1315.3,432.2 1326.5,451.9 1337.8,466 1349.1,478.8 1359.3,486.1 1369.4,491.2 1379.6,495.6 1390.5,497.8 1401.2,498.9 1412.1,498.7 1422.9,496.7 1431.8,493.4 1440.5,487.9 1447.2,481.2 1453.7,467.2 1459.3,450.3 1463.3,430.2 1467.8,400.2 1472.6,374.3 1478.8,348.4 1487.4,322.5 1499.4,295.7 1508.9,280.9 1520.1,264.3 1538.6,243 1557.2,226.3 1575.7,211.4 1587.2,204 1603.4,196.4 1621.9,188 1630.6,182.9 1646.4,175.7 1662.2,170.7 1678.1,167.2 1694.2,164.1 1710.1,162.2"/>
<polyline points="1214.7,482.6 1238,485.4 1266,490.4 1294,496.6 1322,502.7 1344.4,505.8 1360,506.9 1380,507.3 1396,506.8 1411.9,504.9 1424.5,501.5 1432.8,498.3 1440,492.5 1445.1,485.2 1450.3,473.7 1455.6,457.7 1459.7,442.7 1463.7,419.8 1467.7,399.8 1472.2,373.7 1480.6,347.5 1490.1,321.4 1503.6,294.2 1513.6,279 1524.6,263.9 1536,250.7 1554.8,232.9 1573.6,217.9 1585.6,209.5 1602,202.1 1620.7,193.8 1629.5,189.4 1645.7,183.1 1661.8,178.5 1677.9,175.4 1694,173.2 1710.1,171.3"/>
<polyline points="1344.4,505.8 1360,507.1 1380,508.1 1396,508 1412.1,506.3 1425.1,503.3 1433.8,500.1 1441.6,494.1 1447.1,486.4 1452.5,474.5 1458,458.5 1462.3,443.3 1466.3,420.2 1470.3,400.2 1474.8,374.3 1483.4,348.5 1492.9,322.6 1506.4,295.8 1516.4,281 1527.4,266.1 1538.6,253.3 1557.2,235.7 1575.8,220.7 1587.2,212.5 1603.4,204.9 1621.9,196.2 1630.5,191.6 1646.3,185.1 1662.2,180.1 1678.1,176.8 1694.2,174.2 1710.1,171.9"/>
</g>
<g stroke="#000" stroke-width="2" fill="none" stroke-linecap="square">
<rect x="1152.5" y="21.8" width="620.5" height="506.7"/>
<line x1="1214.5" y1="528.5" x2="1214.5" y2="518.5"/>
<line x1="1214.5" y1="21.8" x2="1214.5" y2="31.8"/>
<line x1="1338.6" y1="528.5" x2="1338.6" y2="518.5"/>
<line x1="1338.6" y1="21.8" x2="1338.6" y2="31.8"/>
<line x1="1462.8" y1="528.5" x2="1462.8" y2="518.5"/>
<line x1="1462.8" y1="21.8" x2="1462.8" y2="31.8"/>
<line x1="1586.9" y1="528.5" x2="1586.9" y2="518.5"/>
<line x1="1586.9" y1="21.8" x2="1586.9" y2="31.8"/>
<line x1="1711.1" y1="528.5" x2="1711.1" y2="518.5"/>
<line x1="1711.1" y1="21.8" x2="1711.1" y2="31.8"/>
<line x1="1276.6" y1="528.5" x2="1276.6" y2="523.5"/>
<line x1="1276.6" y1="21.8" x2="1276.6" y2="26.8"/>
<line x1="1400.7" y1="528.5" x2="1400.7" y2="523.5"/>
<line x1="1400.7" y1="21.8" x2="1400.7" y2="26.8"/>
<line x1="1524.8" y1="528.5" x2="1524.8" y2="523.5"/>
<line x1="1524.8" y1="21.8" x2="1524.8" y2="26.8"/>
<line x1="1649" y1="528.5" x2="1649" y2="523.5"/>
<line x1="1649" y1="21.8" x2="1649" y2="26.8"/>
<line x1="1152.5" y1="99.8" x2="1162.5" y2="99.8"/>
<line x1="1773.0" y1="99.8" x2="1763.0" y2="99.8"/>
<line x1="1152.5" y1="294.8" x2="1162.5" y2="294.8"/>
<line x1="1773.0" y1="294.8" x2="1763.0" y2="294.8"/>
<line x1="1152.5" y1="489.7" x2="1162.5" y2="489.7"/>
<line x1="1773.0" y1="489.7" x2="1763.0" y2="489.7"/>
<line x1="1152.5" y1="197.3" x2="1157.5" y2="197.3"/>
<line x1="1773.0" y1="197.3" x2="1768.0" y2="197.3"/>
<line x1="1152.5" y1="392.2" x2="1157.5" y2="392.2"/>
<line x1="1773.0" y1="392.2" x2="1768.0" y2="392.2"/>
</g>
<text x="1143.3" y="110.5" font-size="27.2" text-anchor="end" fill="#000">1.5x10<tspan font-size="16.5" dy="-14.8">-10</tspan></text>
<text x="1143.3" y="305.4" font-size="27.2" text-anchor="end" fill="#000">1.0x10<tspan font-size="16.5" dy="-14.8">-10</tspan></text>
<text x="1143.3" y="500.4" font-size="27.2" text-anchor="end" fill="#000">5.0x10<tspan font-size="16.5" dy="-14.8">-11</tspan></text>
<text x="1214.5" y="559.6" font-size="27.5" text-anchor="middle" fill="#000">-4</text>
<text x="1338.6" y="559.6" font-size="27.5" text-anchor="middle" fill="#000">-2</text>
<text x="1462.8" y="559.6" font-size="27.5" text-anchor="middle" fill="#000">0</text>
<text x="1586.9" y="559.6" font-size="27.5" text-anchor="middle" fill="#000">2</text>
<text x="1711.1" y="559.6" font-size="27.5" text-anchor="middle" fill="#000">4</text>
<text x="1468.5" y="599.7" font-size="30" text-anchor="middle" fill="#000">VBias (V)</text>
<text transform="translate(1007.9,260.5) rotate(-90)" font-size="29.8" text-anchor="middle" fill="#000">C (F)</text>
<text x="1363" y="86.9" font-size="19.1" fill="#000">Si bulk / Al<tspan font-size="12" dy="7.8">2</tspan><tspan dy="-7.8">O</tspan><tspan font-size="12" dy="7.8">3</tspan><tspan dy="-7.8">20 nm / Al</tspan></text>
<text x="1368.5" y="116.6" font-size="19.4" fill="#000">1000 C, 1 h</text>
<text class="sf" x="1219" y="71.9" font-size="23.3" fill="#111">10kHz</text>
<text class="sf" x="1683" y="85.6" font-size="23.3" fill="#111">10kHz</text>
<text class="sf" x="1687.2" y="149.6" font-size="23.3" fill="#111">100kHz</text>
<text class="sf" x="1689" y="202" font-size="23.3" fill="#111">1MHz</text>
<text class="sf" x="1218.6" y="318.8" font-size="23.3" fill="#111">100kHz</text>
<text class="sf" x="1220.2" y="476.7" font-size="23.3" fill="#111">1MHz</text>
<path d="M1610.4,440 L1610.4,450.4 A41.8,9 0 0 0 1694,450.4 L1694,440 Z" fill="url(#ggray)" stroke="#3a3a3a" stroke-width="0.9"/>
<path d="M1595,366 L1595,389.6 A57.2,12 0 0 0 1709.4,389.6 L1709.4,366 A57.2,12 0 0 1 1595,366 Z" fill="url(#gyel)" stroke="none"/>
<path d="M1595,389.6 L1595,434.4 A57.2,12 0 0 0 1709.4,434.4 L1709.4,389.6 A57.2,12 0 0 1 1595,389.6 Z" fill="url(#gpink)" stroke="none"/><ellipse cx="1652.2" cy="366" rx="57.2" ry="13.5" fill="#fff000" stroke="#3a3a3a" stroke-width="0.9"/>
<path d="M1595,366 L1595,434.4 A57.2,12 0 0 0 1709.4,434.4 L1709.4,366" fill="none" stroke="#3a3a3a" stroke-width="0.9"/>
<path d="M1595,389.6 A57.2,12 0 0 0 1709.4,389.6" fill="none" stroke="#3a3a3a" stroke-width="0.9"/><polygon points="1637.7,348.7 1644.7,335.8 1668.9,335.8 1661.9,348.7" fill="#c8c8c8" stroke="#3a3a3a" stroke-width="0.9" stroke-linejoin="round"/>
<polygon points="1661.9,348.7 1668.9,335.8 1668.9,357.8 1661.9,370.7" fill="#9c9c9c" stroke="#3a3a3a" stroke-width="0.9" stroke-linejoin="round"/>
<rect x="1637.7" y="348.7" width="24.2" height="22" fill="#e6e6e6" stroke="#3a3a3a" stroke-width="0.9"/>
<text transform="translate(1649.8,365.1) scale(0.85,1)" font-size="15" text-anchor="middle" fill="#444">Al</text>
<g stroke="#333" stroke-width="1.1" fill="none">
<path d="M1653.8,313 V334"/>
<path d="M1654.8,459.3 V470"/>
<line x1="1575.5" y1="376.9" x2="1589" y2="379.8" stroke-width="1.4"/>
<polyline points="1585.5,375.5 1590.6,380.1 1584.5,383.5" stroke-width="1.4"/>
</g>
<polygon points="1650.8,331.8 1656.8,331.8 1653.8,342.1" fill="#333"/>
<ellipse cx="1653.8" cy="306.1" rx="4.0" ry="6.8" fill="none" stroke="#333" stroke-width="1.3"/><line x1="1647.2" y1="317.9" x2="1660.1" y2="295.9" stroke="#333" stroke-width="1.3"/><ellipse cx="1654.8" cy="477.7" rx="4.0" ry="6.8" fill="none" stroke="#333" stroke-width="1.3"/><line x1="1649.2" y1="488.9" x2="1661.2" y2="467.3" stroke="#333" stroke-width="1.3"/><g fill="#333"><text transform="translate(1651.3,427.5) scale(0.77,1)" font-size="14.5" text-anchor="middle" fill="#5e3448">Si-wafer</text><text transform="translate(1712.7,385) scale(0.72,1)" font-size="20" text-anchor="start" fill="#222">BOX</text><text transform="translate(1704,451.7) scale(0.8,1)" font-size="13.5" text-anchor="start" fill="#333">InGa-contact</text><text transform="translate(1513.7,381.4) scale(0.72,1)" font-size="14.4" text-anchor="start" fill="#333">Al<tspan font-size="7" dy="2.4">2</tspan><tspan dy="-2.4">O</tspan><tspan font-size="7" dy="2.4">3</tspan><tspan dy="-2.4">(20 nm)</tspan></text><text transform="translate(1600,516.7) scale(0.78,1)" font-size="19.5" text-anchor="start" fill="#333">-5 V &#8804; V<tspan font-size="9" dy="4">Bias</tspan><tspan dy="-4"> &#8804; +5 V</tspan></text></g>
<text class="sf" x="448.7" y="726.2" font-size="42" text-anchor="middle" fill="#000">(<tspan font-weight="bold">a</tspan>)</text>
<text class="sf" x="1406.2" y="726.2" font-size="42" text-anchor="middle" fill="#000">(<tspan font-weight="bold">b</tspan>)</text>
</svg></body></html>
